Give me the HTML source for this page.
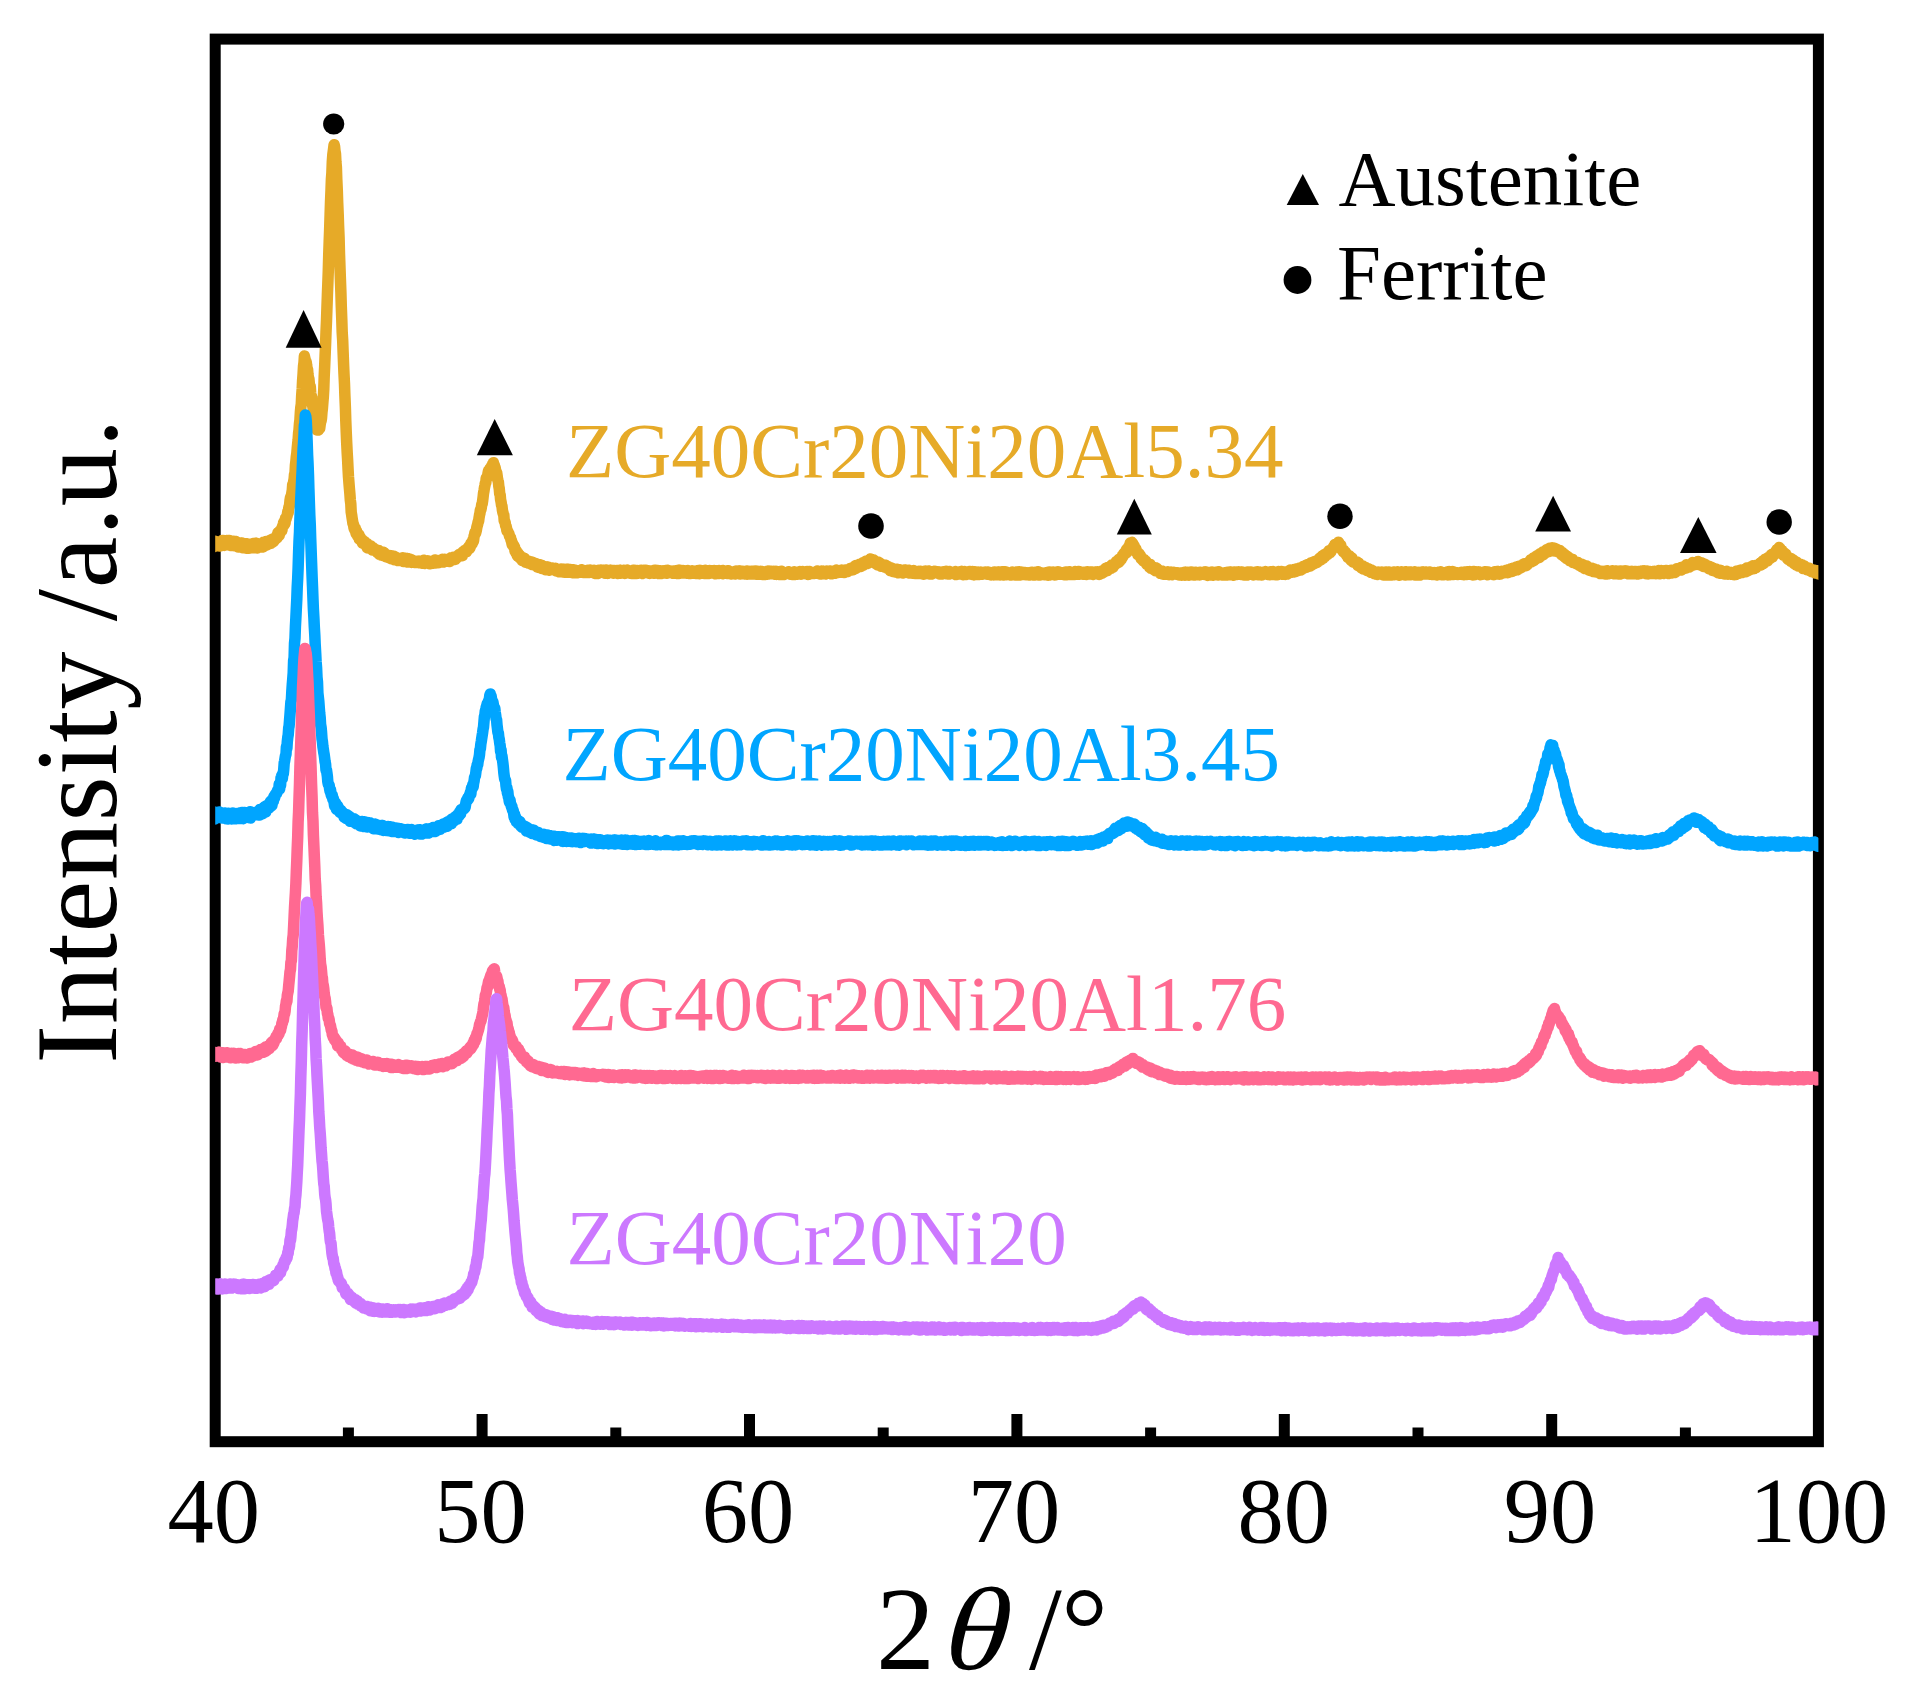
<!DOCTYPE html>
<html lang="en"><head><meta charset="utf-8"><title>XRD patterns</title>
<style>html,body{margin:0;padding:0;background:#fff}svg{display:block}</style>
</head><body>
<svg width="1920" height="1704" viewBox="0 0 1920 1704">
<rect width="1920" height="1704" fill="#fff"/>
<g stroke="#000" stroke-width="11.0" fill="none">
<rect x="215.2" y="39.1" width="1603.2" height="1402.6"/>
<line x1="482.1" y1="1414.0" x2="482.1" y2="1441.7"/>
<line x1="749.5" y1="1414.0" x2="749.5" y2="1441.7"/>
<line x1="1016.9" y1="1414.0" x2="1016.9" y2="1441.7"/>
<line x1="1284.3" y1="1414.0" x2="1284.3" y2="1441.7"/>
<line x1="1551.7" y1="1414.0" x2="1551.7" y2="1441.7"/>
<line x1="348.4" y1="1427.5" x2="348.4" y2="1441.7"/>
<line x1="615.8" y1="1427.5" x2="615.8" y2="1441.7"/>
<line x1="883.2" y1="1427.5" x2="883.2" y2="1441.7"/>
<line x1="1150.6" y1="1427.5" x2="1150.6" y2="1441.7"/>
<line x1="1418.0" y1="1427.5" x2="1418.0" y2="1441.7"/>
<line x1="1685.4" y1="1427.5" x2="1685.4" y2="1441.7"/>
</g>
<svg x="215.2" y="0" width="1603.2" height="1704" viewBox="215.2 0 1603.2 1704" overflow="hidden">
<g fill="none" stroke-width="11.5" stroke-linejoin="round" stroke-linecap="butt">
<path stroke="#E6AA28" d="M212.2 545.8L212.6 547.2L213.1 546.4L213.5 543.0L214.0 543.3L214.4 546.5L214.9 541.3L215.3 545.9L215.8 545.6L216.2 543.6L216.7 542.6L217.1 542.3L217.6 542.1L218.0 543.1L218.5 543.3L218.9 543.5L219.4 546.0L219.8 544.8L220.3 543.8L220.7 545.8L221.2 541.4L221.6 541.1L222.1 543.6L222.5 540.4L223.0 540.4L223.4 543.1L223.9 542.8L224.3 545.4L224.8 543.8L225.2 543.2L225.7 543.1L226.1 541.7L226.6 540.4L227.0 541.5L227.5 544.3L227.9 541.6L228.4 542.5L228.8 540.5L229.3 545.1L229.7 541.4L230.2 542.1L230.6 545.5L231.1 543.5L231.5 545.4L232.0 544.3L232.4 544.9L232.9 541.3L233.3 543.8L233.8 543.7L234.2 545.7L234.7 543.0L235.1 544.4L235.6 541.5L236.0 543.4L236.5 543.1L236.9 542.3L237.4 545.9L237.8 543.7L238.3 547.0L238.7 545.0L239.2 545.1L239.6 545.4L240.1 545.7L240.5 543.0L241.0 544.6L241.4 543.6L241.9 544.6L242.3 543.0L242.8 547.7L243.2 543.8L243.7 546.3L244.1 544.4L244.6 547.5L245.0 546.5L245.5 543.7L245.9 547.5L246.4 548.1L246.8 547.9L247.3 546.2L247.7 544.1L248.2 544.3L248.6 548.2L249.1 546.3L249.5 544.3L250.0 548.0L250.4 546.7L250.9 546.4L251.3 545.3L251.8 545.5L252.2 544.6L252.7 543.6L253.1 547.8L253.6 545.7L254.0 546.1L254.5 544.9L254.9 547.1L255.4 543.3L255.8 545.1L256.3 543.3L256.7 543.7L257.2 548.0L257.6 546.4L258.1 545.1L258.5 545.6L259.0 547.3L259.4 544.6L259.9 545.7L260.3 546.2L260.8 544.4L261.2 545.2L261.7 546.4L262.1 547.0L262.6 543.2L263.0 547.0L263.5 542.2L263.9 545.8L264.4 546.0L264.8 542.5L265.3 543.7L265.7 545.5L266.2 541.4L266.6 544.2L267.1 544.8L267.5 543.2L268.0 544.0L268.4 541.3L268.9 540.9L269.3 541.4L269.8 540.3L270.2 540.8L270.7 543.4L271.1 541.3L271.6 539.9L272.0 539.2L272.5 542.2L272.9 539.4L273.4 541.6L273.8 539.0L274.3 538.7L274.7 540.1L275.2 539.0L275.6 537.8L276.1 536.6L276.5 538.3L277.0 535.6L277.4 537.5L277.9 532.8L278.3 534.0L278.8 533.8L279.2 535.2L279.7 531.1L280.1 533.0L280.6 531.6L281.0 531.0L281.5 529.8L281.9 530.5L282.4 526.6L282.8 526.0L283.3 524.1L283.7 522.3L284.2 522.1L284.6 524.3L285.1 522.9L285.5 518.2L286.0 519.3L286.4 517.3L286.9 516.3L287.3 514.9L287.8 511.5L288.2 512.7L288.7 508.3L289.1 507.0L289.6 504.8L290.0 500.4L290.5 497.5L290.9 496.6L291.4 495.7L291.8 493.3L292.3 490.1L292.7 484.5L293.2 485.3L293.6 481.8L294.1 479.2L294.5 474.5L295.0 473.0L295.4 465.3L295.9 461.2L296.3 456.9L296.8 453.4L297.2 448.7L297.7 443.5L298.1 440.3L298.6 432.8L299.0 430.2L299.5 423.2L299.9 420.3L300.4 411.8L300.8 407.4L301.3 404.1L301.7 395.1L302.2 388.6L302.6 380.4L303.1 373.7L303.5 366.3L304.0 362.5L304.4 356.1L304.9 358.4L305.3 360.5L305.8 362.5L306.2 361.9L306.7 365.8L307.1 368.2L307.6 369.8L308.0 374.7L308.5 378.1L308.9 378.7L309.4 384.0L309.8 386.6L310.3 386.7L310.7 392.7L311.2 396.4L311.6 396.5L312.1 401.3L312.5 404.6L313.0 407.5L313.4 408.3L313.9 414.0L314.3 416.9L314.8 420.7L315.2 423.1L315.7 423.1L316.1 426.5L316.6 428.5L317.0 429.9L317.5 427.6L317.9 427.4L318.4 430.0L318.8 427.4L319.3 428.0L319.7 428.4L320.2 424.5L320.6 422.3L321.1 420.8L321.5 418.4L322.0 411.9L322.4 408.5L322.9 402.1L323.3 397.3L323.8 388.9L324.2 376.6L324.7 365.7L325.1 355.6L325.6 343.5L326.0 332.2L326.5 320.7L326.9 309.0L327.4 294.7L327.8 284.6L328.3 270.5L328.7 255.8L329.2 241.3L329.6 230.8L330.1 215.0L330.5 202.4L331.0 190.4L331.4 179.1L331.9 172.8L332.3 161.6L332.8 154.8L333.2 151.8L333.7 147.9L334.1 144.7L334.6 146.7L335.0 151.1L335.5 153.8L335.9 161.8L336.4 167.3L336.8 179.6L337.3 190.6L337.7 202.6L338.2 214.5L338.6 226.2L339.1 238.3L339.5 253.7L340.0 268.2L340.4 279.2L340.9 292.6L341.3 306.6L341.8 319.8L342.2 332.4L342.7 340.6L343.1 351.8L343.6 364.7L344.0 373.9L344.5 384.1L344.9 395.8L345.4 407.9L345.8 421.1L346.3 433.8L346.7 442.8L347.2 453.0L347.6 459.6L348.1 469.9L348.5 477.1L349.0 483.5L349.4 488.4L349.9 494.0L350.3 499.9L350.8 503.7L351.2 512.1L351.7 515.1L352.1 518.0L352.6 521.2L353.0 523.8L353.5 524.1L353.9 527.4L354.4 529.2L354.8 528.2L355.3 528.3L355.7 531.9L356.2 533.8L356.6 531.1L357.1 534.3L357.5 535.6L358.0 536.7L358.4 534.2L358.9 534.8L359.3 539.2L359.8 536.3L360.2 537.3L360.7 539.5L361.1 539.6L361.6 541.4L362.0 539.7L362.5 543.2L362.9 540.9L363.4 543.6L363.8 541.2L364.3 543.3L364.7 541.9L365.2 543.4L365.6 543.8L366.1 545.8L366.5 545.0L367.0 543.7L367.4 547.9L367.9 547.7L368.3 548.1L368.8 545.7L369.2 546.5L369.7 546.1L370.1 546.0L370.6 545.8L371.0 548.0L371.5 546.7L371.9 547.1L372.4 550.1L372.8 548.8L373.3 547.9L373.7 550.0L374.2 548.6L374.6 549.9L375.1 549.2L375.5 550.3L376.0 551.0L376.4 550.9L376.9 550.6L377.3 552.4L377.8 552.9L378.2 550.4L378.7 550.4L379.1 550.6L379.6 554.3L380.0 554.3L380.5 551.7L380.9 554.9L381.4 552.1L381.8 553.5L382.3 553.7L382.7 555.5L383.2 552.3L383.6 553.6L384.1 554.9L384.5 553.0L385.0 553.8L385.4 554.9L385.9 556.8L386.3 556.5L386.8 556.9L387.2 556.8L387.7 556.8L388.1 557.5L388.6 557.0L389.0 557.4L389.5 555.8L389.9 555.4L390.4 557.9L390.8 555.7L391.3 558.8L391.7 557.6L392.2 556.7L392.6 559.2L393.1 556.3L393.5 557.8L394.0 556.2L394.4 559.8L394.9 558.4L395.3 559.4L395.8 557.4L396.2 559.6L396.7 559.3L397.1 559.2L397.6 560.5L398.0 558.5L398.5 558.6L398.9 559.7L399.4 560.4L399.8 558.5L400.3 559.9L400.7 558.2L401.2 559.6L401.6 560.5L402.1 557.9L402.5 560.5L403.0 557.8L403.4 561.6L403.9 559.7L404.3 559.6L404.8 560.8L405.2 560.1L405.7 561.0L406.1 558.5L406.6 560.5L407.0 560.5L407.5 562.0L407.9 558.6L408.4 560.3L408.8 561.0L409.3 560.8L409.7 559.0L410.2 561.1L410.6 559.7L411.1 559.7L411.5 562.4L412.0 559.8L412.4 560.9L412.9 562.1L413.3 561.9L413.8 561.4L414.2 562.4L414.7 561.2L415.1 561.8L415.6 562.6L416.0 562.1L416.5 562.1L416.9 561.2L417.4 561.8L417.8 561.2L418.3 562.6L418.7 561.3L419.2 561.6L419.6 562.8L420.1 561.8L420.5 561.2L421.0 563.1L421.4 561.4L421.9 563.2L422.3 563.0L422.8 561.8L423.2 562.8L423.7 560.2L424.1 561.6L424.6 563.4L425.0 562.3L425.5 562.2L425.9 562.6L426.4 562.7L426.8 562.3L427.3 561.7L427.7 560.8L428.2 561.2L428.6 561.2L429.1 561.7L429.5 563.8L430.0 561.3L430.4 561.7L430.9 561.4L431.3 562.2L431.8 563.5L432.2 563.3L432.7 561.3L433.1 560.9L433.6 563.2L434.0 561.7L434.5 562.4L434.9 560.0L435.4 563.0L435.8 560.9L436.3 561.5L436.7 560.4L437.2 561.2L437.6 562.7L438.1 562.7L438.5 561.3L439.0 562.4L439.4 561.1L439.9 560.8L440.3 561.4L440.8 560.1L441.2 560.4L441.7 561.9L442.1 562.1L442.6 559.3L443.0 561.8L443.5 562.1L443.9 560.7L444.4 559.2L444.8 561.5L445.3 559.8L445.7 561.2L446.2 560.1L446.6 561.0L447.1 559.5L447.5 560.2L448.0 560.3L448.4 560.6L448.9 558.9L449.3 561.6L449.8 559.0L450.2 558.9L450.7 558.6L451.1 557.7L451.6 558.9L452.0 560.0L452.5 559.6L452.9 557.6L453.4 557.2L453.8 557.7L454.3 559.2L454.7 557.9L455.2 559.4L455.6 558.2L456.1 557.8L456.5 558.2L457.0 557.9L457.4 556.2L457.9 555.6L458.3 556.1L458.8 556.1L459.2 554.5L459.7 555.4L460.1 555.9L460.6 553.8L461.0 553.5L461.5 553.4L461.9 553.5L462.4 555.7L462.8 551.9L463.3 552.2L463.7 551.8L464.2 552.6L464.6 550.5L465.1 551.7L465.5 550.2L466.0 550.2L466.4 551.7L466.9 548.9L467.3 550.0L467.8 548.7L468.2 548.3L468.7 549.2L469.1 546.2L469.6 548.4L470.0 547.6L470.5 546.2L470.9 543.2L471.4 544.7L471.8 543.8L472.3 543.5L472.7 540.4L473.2 541.9L473.6 540.3L474.1 536.0L474.5 535.1L475.0 532.4L475.4 533.6L475.9 532.1L476.3 530.6L476.8 527.5L477.2 525.9L477.7 524.2L478.1 521.9L478.6 521.4L479.0 518.1L479.5 515.1L479.9 513.6L480.4 509.7L480.8 510.1L481.3 507.8L481.7 504.6L482.2 503.9L482.6 501.2L483.1 497.1L483.5 493.4L484.0 490.7L484.4 488.0L484.9 485.6L485.3 483.4L485.8 482.7L486.2 478.2L486.7 478.8L487.1 476.6L487.6 476.1L488.0 473.4L488.5 470.9L488.9 472.9L489.4 470.1L489.8 468.9L490.3 470.5L490.7 469.4L491.2 466.9L491.6 466.3L492.1 467.8L492.5 464.3L493.0 465.0L493.4 462.7L493.9 465.9L494.3 464.9L494.8 468.1L495.2 467.8L495.7 471.0L496.1 473.5L496.6 472.3L497.0 474.7L497.5 478.4L497.9 480.2L498.4 482.0L498.8 486.2L499.3 488.9L499.7 493.7L500.2 495.0L500.6 499.7L501.1 502.1L501.5 505.1L502.0 506.3L502.4 510.1L502.9 512.5L503.3 513.8L503.8 514.9L504.2 520.5L504.7 521.7L505.1 521.9L505.6 525.6L506.0 525.7L506.5 527.9L506.9 530.8L507.4 530.7L507.8 531.5L508.3 532.8L508.7 533.2L509.2 534.9L509.6 536.2L510.1 537.0L510.5 537.7L511.0 540.2L511.4 540.3L511.9 543.2L512.3 544.9L512.8 543.6L513.2 545.7L513.7 546.6L514.1 546.1L514.6 547.3L515.0 551.1L515.5 550.6L515.9 552.7L516.4 551.0L516.8 553.7L517.3 555.4L517.7 556.1L518.2 553.6L518.6 555.9L519.1 555.8L519.5 557.6L520.0 555.5L520.4 556.6L520.9 558.9L521.3 558.0L521.8 558.3L522.2 560.4L522.7 558.4L523.1 557.7L523.6 559.2L524.0 558.6L524.5 558.6L524.9 560.6L525.4 562.2L525.8 561.1L526.3 561.5L526.7 560.6L527.2 561.7L527.6 562.5L528.1 562.1L528.5 563.1L529.0 562.4L529.4 561.3L529.9 562.9L530.3 562.7L530.8 561.7L531.2 563.5L531.7 564.4L532.1 562.2L532.6 563.8L533.0 564.6L533.5 563.6L533.9 563.3L534.4 563.9L534.8 564.7L535.3 565.3L535.7 565.1L536.2 563.6L536.6 566.3L537.1 566.9L537.5 564.1L538.0 564.8L538.4 564.7L538.9 567.2L539.3 567.6L539.8 564.7L540.2 565.9L540.7 565.5L541.1 566.7L541.6 568.4L542.0 565.5L542.5 566.0L542.9 567.3L543.4 567.6L543.8 568.5L544.3 567.5L544.7 566.6L545.2 567.5L545.6 569.8L546.1 569.1L546.5 567.0L547.0 569.6L547.4 567.9L547.9 569.7L548.3 567.1L548.8 570.2L549.2 567.8L549.7 568.9L550.1 569.8L550.6 569.3L551.0 568.2L551.5 568.2L551.9 568.8L552.4 568.0L552.8 568.7L553.3 568.4L553.7 569.7L554.2 569.3L554.6 570.2L555.1 569.2L555.5 568.3L556.0 569.4L556.4 571.0L556.9 569.2L557.3 569.8L557.8 571.1L558.2 569.9L558.7 571.6L559.1 571.8L559.6 569.7L560.0 571.2L560.5 569.5L560.9 569.1L561.4 570.2L561.8 570.8L562.3 572.0L562.7 569.3L563.2 571.3L563.6 570.5L564.1 569.3L564.5 572.3L565.0 571.4L565.4 569.4L565.9 572.1L566.3 569.3L566.8 569.3L567.2 570.2L567.7 572.3L568.1 569.2L568.6 572.3L569.0 571.3L569.5 569.4L569.9 571.1L570.4 570.8L570.8 571.2L571.3 571.8L571.7 571.6L572.2 572.7L572.6 569.8L573.1 572.1L573.5 570.7L574.0 572.1L574.4 572.5L574.9 572.8L575.3 570.3L575.8 571.0L576.2 572.7L576.7 572.7L577.1 570.7L577.6 572.7L578.0 570.9L578.5 570.8L578.9 572.1L579.4 571.2L579.8 571.1L580.3 570.9L580.7 571.1L581.2 570.1L581.6 569.8L582.1 572.3L582.5 571.6L583.0 572.0L583.4 572.5L583.9 570.5L584.3 570.5L584.8 570.7L585.2 570.8L585.7 572.4L586.1 571.1L586.6 570.9L587.0 572.0L587.5 570.5L587.9 570.2L588.4 572.3L588.8 572.5L589.3 570.9L589.7 572.1L590.2 570.0L590.6 571.3L591.1 571.9L591.5 570.8L592.0 571.1L592.4 572.1L592.9 572.0L593.3 570.5L593.8 572.4L594.2 570.3L594.7 573.4L595.1 570.7L595.6 570.9L596.0 570.7L596.5 573.5L596.9 571.0L597.4 572.1L597.8 573.5L598.3 573.4L598.7 570.2L599.2 571.9L599.6 572.2L600.1 572.5L600.5 571.2L601.0 571.2L601.4 570.1L601.9 570.2L602.3 572.0L602.8 570.3L603.2 570.8L603.7 571.2L604.1 570.3L604.6 570.2L605.0 573.3L605.5 571.6L605.9 570.8L606.4 572.5L606.8 570.1L607.3 570.9L607.7 573.4L608.2 573.2L608.6 572.3L609.1 570.4L609.5 571.2L610.0 570.2L610.4 570.8L610.9 570.2L611.3 570.5L611.8 572.3L612.2 570.4L612.7 570.6L613.1 573.2L613.6 571.3L614.0 571.3L614.5 570.4L614.9 572.9L615.4 572.4L615.8 572.0L616.3 572.2L616.7 570.4L617.2 571.0L617.6 572.1L618.1 573.4L618.5 572.9L619.0 572.3L619.4 571.9L619.9 570.2L620.3 573.2L620.8 570.3L621.2 570.6L621.7 572.5L622.1 572.9L622.6 572.8L623.0 571.7L623.5 570.7L623.9 570.2L624.4 573.1L624.8 573.5L625.3 571.0L625.7 573.1L626.2 571.5L626.6 571.2L627.1 571.9L627.5 570.1L628.0 571.7L628.4 570.8L628.9 572.6L629.3 571.9L629.8 573.1L630.2 573.2L630.7 571.2L631.1 571.1L631.6 573.4L632.0 571.9L632.5 570.5L632.9 570.3L633.4 573.6L633.8 572.1L634.3 570.3L634.7 571.9L635.2 571.9L635.6 571.6L636.1 573.4L636.5 573.4L637.0 570.6L637.4 570.6L637.9 571.5L638.3 573.0L638.8 572.3L639.2 572.7L639.7 572.1L640.1 570.9L640.6 573.0L641.0 570.2L641.5 572.5L641.9 570.8L642.4 571.8L642.8 573.5L643.3 572.0L643.7 570.3L644.2 571.6L644.6 572.4L645.1 570.3L645.5 571.0L646.0 570.2L646.4 572.0L646.9 571.5L647.3 571.9L647.8 571.2L648.2 572.4L648.7 570.7L649.1 573.3L649.6 573.5L650.0 571.8L650.5 571.7L650.9 573.1L651.4 571.1L651.8 572.9L652.3 571.1L652.7 572.6L653.2 571.3L653.6 572.2L654.1 573.3L654.5 570.3L655.0 572.9L655.4 572.0L655.9 571.5L656.3 571.4L656.8 570.4L657.2 571.0L657.7 572.3L658.1 570.5L658.6 572.5L659.0 573.5L659.5 573.5L659.9 573.2L660.4 572.9L660.8 570.8L661.3 573.5L661.7 570.9L662.2 573.2L662.6 573.2L663.1 572.3L663.5 572.0L664.0 570.8L664.4 571.9L664.9 571.2L665.3 570.6L665.8 570.6L666.2 572.9L666.7 573.3L667.1 570.6L667.6 570.2L668.0 571.1L668.5 570.6L668.9 570.8L669.4 572.2L669.8 571.6L670.3 571.6L670.7 570.9L671.2 572.5L671.6 571.2L672.1 571.5L672.5 571.8L673.0 573.3L673.4 571.0L673.9 572.7L674.3 571.2L674.8 573.3L675.2 571.5L675.7 571.9L676.1 573.2L676.6 572.5L677.0 570.5L677.5 570.7L677.9 573.6L678.4 570.3L678.8 571.2L679.3 573.5L679.7 570.2L680.2 570.7L680.6 570.9L681.1 570.5L681.5 571.8L682.0 572.2L682.4 571.3L682.9 570.6L683.3 573.0L683.8 573.0L684.2 572.1L684.7 570.7L685.1 572.1L685.6 572.4L686.0 571.7L686.5 573.2L686.9 571.6L687.4 572.0L687.8 570.6L688.3 572.2L688.7 572.9L689.2 572.7L689.6 571.1L690.1 573.6L690.5 572.7L691.0 571.7L691.4 571.7L691.9 572.9L692.3 570.8L692.8 572.4L693.2 572.7L693.7 572.0L694.1 573.3L694.6 571.9L695.0 571.9L695.5 571.2L695.9 573.4L696.4 571.3L696.8 572.7L697.3 571.7L697.7 573.5L698.2 573.5L698.6 570.4L699.1 573.7L699.5 572.4L700.0 570.5L700.4 572.0L700.9 570.5L701.3 572.2L701.8 570.9L702.2 571.6L702.7 571.3L703.1 572.4L703.6 573.1L704.0 573.5L704.5 571.4L704.9 572.3L705.4 570.3L705.8 571.6L706.3 573.6L706.7 570.7L707.2 573.3L707.6 572.6L708.1 571.3L708.5 573.0L709.0 571.3L709.4 573.4L709.9 570.6L710.3 570.8L710.8 572.9L711.2 571.9L711.7 570.9L712.1 572.1L712.6 571.4L713.0 572.3L713.5 572.9L713.9 573.3L714.4 570.6L714.8 572.4L715.3 573.8L715.7 572.0L716.2 573.1L716.6 570.8L717.1 573.4L717.5 572.4L718.0 573.5L718.4 573.1L718.9 573.4L719.3 570.6L719.8 572.9L720.2 571.1L720.7 571.4L721.1 571.6L721.6 572.5L722.0 572.6L722.5 573.7L722.9 570.5L723.4 571.2L723.8 571.7L724.3 573.3L724.7 572.4L725.2 572.3L725.6 573.1L726.1 572.8L726.5 571.5L727.0 570.8L727.4 572.1L727.9 573.6L728.3 572.6L728.8 570.7L729.2 572.1L729.7 571.9L730.1 572.6L730.6 572.6L731.0 573.9L731.5 571.8L731.9 572.0L732.4 572.7L732.8 573.7L733.3 573.0L733.7 572.2L734.2 573.4L734.6 572.3L735.1 574.0L735.5 571.6L736.0 571.1L736.4 573.5L736.9 571.7L737.3 573.6L737.8 572.8L738.2 572.4L738.7 571.0L739.1 573.4L739.6 570.9L740.0 574.0L740.5 573.7L740.9 571.8L741.4 571.2L741.8 573.8L742.3 572.4L742.7 571.2L743.2 572.5L743.6 571.6L744.1 572.2L744.5 573.0L745.0 573.9L745.4 573.5L745.9 571.3L746.3 572.4L746.8 572.5L747.2 574.2L747.7 571.1L748.1 572.6L748.6 574.0L749.0 572.2L749.5 571.7L749.9 572.8L750.4 572.0L750.8 574.0L751.3 571.2L751.7 571.6L752.2 571.2L752.6 573.3L753.1 571.9L753.5 574.0L754.0 574.0L754.4 574.1L754.9 571.8L755.3 570.9L755.8 572.3L756.2 574.2L756.7 573.6L757.1 571.2L757.6 573.4L758.0 574.1L758.5 574.3L758.9 573.4L759.4 573.9L759.8 573.9L760.3 572.2L760.7 571.3L761.2 573.5L761.6 571.5L762.1 572.3L762.5 574.4L763.0 572.9L763.4 572.8L763.9 574.3L764.3 572.0L764.8 574.5L765.2 574.2L765.7 572.3L766.1 572.2L766.6 571.5L767.0 574.2L767.5 571.7L767.9 571.1L768.4 574.1L768.8 573.1L769.3 573.4L769.7 573.6L770.2 571.3L770.6 571.4L771.1 572.8L771.5 571.3L772.0 572.9L772.4 573.7L772.9 573.4L773.3 573.3L773.8 571.3L774.2 572.0L774.7 574.2L775.1 571.6L775.6 573.0L776.0 571.3L776.5 574.4L776.9 571.8L777.4 572.6L777.8 573.1L778.3 573.6L778.7 574.4L779.2 573.7L779.6 572.4L780.1 571.5L780.5 573.6L781.0 574.5L781.4 571.3L781.9 573.9L782.3 571.8L782.8 572.8L783.2 573.0L783.7 573.3L784.1 574.6L784.6 573.6L785.0 572.6L785.5 573.7L785.9 572.8L786.4 572.7L786.8 572.5L787.3 572.9L787.7 572.2L788.2 572.1L788.6 571.8L789.1 572.8L789.5 572.3L790.0 574.1L790.4 574.2L790.9 572.4L791.3 573.4L791.8 574.4L792.2 572.5L792.7 573.2L793.1 572.8L793.6 573.5L794.0 574.6L794.5 571.8L794.9 574.6L795.4 573.6L795.8 574.0L796.3 573.5L796.7 574.3L797.2 572.4L797.6 573.7L798.1 572.2L798.5 573.0L799.0 573.6L799.4 572.0L799.9 571.5L800.3 574.0L800.8 574.1L801.2 573.6L801.7 572.4L802.1 573.5L802.6 571.6L803.0 573.5L803.5 573.2L803.9 573.4L804.4 572.8L804.8 572.0L805.3 573.7L805.7 572.8L806.2 573.8L806.6 572.5L807.1 571.5L807.5 573.1L808.0 573.4L808.4 574.4L808.9 574.3L809.3 571.4L809.8 573.8L810.2 572.1L810.7 573.6L811.1 572.5L811.6 572.3L812.0 572.8L812.5 573.0L812.9 573.5L813.4 573.3L813.8 573.4L814.3 572.4L814.7 573.4L815.2 572.3L815.6 573.1L816.1 572.6L816.5 573.0L817.0 571.1L817.4 572.7L817.9 571.7L818.3 572.3L818.8 571.2L819.2 573.2L819.7 574.0L820.1 572.1L820.6 571.3L821.0 573.0L821.5 571.3L821.9 573.9L822.4 571.2L822.8 572.0L823.3 572.5L823.7 571.2L824.2 571.8L824.6 571.7L825.1 573.1L825.5 574.0L826.0 571.9L826.4 573.3L826.9 571.1L827.3 572.6L827.8 572.0L828.2 571.5L828.7 573.3L829.1 573.0L829.6 570.9L830.0 571.4L830.5 573.2L830.9 573.8L831.4 572.4L831.8 573.3L832.3 573.7L832.7 572.8L833.2 572.4L833.6 571.0L834.1 571.4L834.5 572.3L835.0 573.3L835.4 571.1L835.9 571.4L836.3 570.1L836.8 572.4L837.2 571.5L837.7 572.6L838.1 570.7L838.6 572.1L839.0 572.1L839.5 571.4L839.9 570.4L840.4 571.1L840.8 572.2L841.3 570.3L841.7 569.9L842.2 571.1L842.6 570.3L843.1 572.2L843.5 572.2L844.0 572.6L844.4 572.2L844.9 571.5L845.3 569.9L845.8 572.0L846.2 571.6L846.7 571.6L847.1 571.3L847.6 571.6L848.0 569.7L848.5 570.8L848.9 570.1L849.4 569.3L849.8 569.1L850.3 568.4L850.7 569.3L851.2 568.7L851.6 568.7L852.1 569.9L852.5 569.1L853.0 568.9L853.4 569.7L853.9 566.9L854.3 567.7L854.8 566.1L855.2 566.9L855.7 568.6L856.1 565.4L856.6 567.5L857.0 567.6L857.5 566.2L857.9 567.0L858.4 565.6L858.8 565.1L859.3 565.5L859.7 564.2L860.2 564.4L860.6 564.2L861.1 566.4L861.5 563.9L862.0 563.4L862.4 565.6L862.9 562.7L863.3 565.3L863.8 564.7L864.2 563.8L864.7 562.9L865.1 561.9L865.6 561.4L866.0 561.2L866.5 561.8L866.9 561.8L867.4 563.4L867.8 561.9L868.3 563.2L868.7 562.1L869.2 560.0L869.6 561.2L870.1 559.6L870.5 559.0L871.0 562.0L871.4 560.0L871.9 559.7L872.3 559.6L872.8 561.7L873.2 561.2L873.7 559.9L874.1 562.5L874.6 561.1L875.0 563.1L875.5 562.3L875.9 562.6L876.4 562.6L876.8 563.5L877.3 564.8L877.7 564.3L878.2 562.0L878.6 563.7L879.1 563.0L879.5 562.7L880.0 563.3L880.4 563.6L880.9 566.3L881.3 565.7L881.8 566.3L882.2 565.9L882.7 564.8L883.1 565.3L883.6 565.6L884.0 565.3L884.5 565.9L884.9 567.3L885.4 565.2L885.8 566.0L886.3 566.9L886.7 567.8L887.2 567.9L887.6 568.4L888.1 566.5L888.5 567.0L889.0 567.7L889.4 567.8L889.9 569.6L890.3 570.6L890.8 569.8L891.2 567.8L891.7 568.9L892.1 570.8L892.6 571.4L893.0 570.4L893.5 569.7L893.9 569.9L894.4 571.0L894.8 571.9L895.3 570.2L895.7 569.8L896.2 569.2L896.6 569.7L897.1 572.2L897.5 571.5L898.0 572.8L898.4 569.6L898.9 570.7L899.3 572.2L899.8 571.8L900.2 569.8L900.7 571.0L901.1 571.8L901.6 572.0L902.0 571.2L902.5 570.4L902.9 573.0L903.4 571.4L903.8 572.3L904.3 571.7L904.7 570.1L905.2 570.7L905.6 570.1L906.1 570.6L906.5 570.7L907.0 571.4L907.4 571.1L907.9 571.3L908.3 572.9L908.8 570.2L909.2 570.5L909.7 572.9L910.1 572.0L910.6 571.7L911.0 571.2L911.5 572.1L911.9 571.0L912.4 573.2L912.8 573.1L913.3 571.5L913.7 570.5L914.2 573.4L914.6 571.4L915.1 572.7L915.5 573.4L916.0 573.2L916.4 573.4L916.9 572.2L917.3 573.4L917.8 572.1L918.2 571.5L918.7 572.2L919.1 571.8L919.6 573.3L920.0 573.5L920.5 571.2L920.9 571.2L921.4 572.0L921.8 572.3L922.3 574.0L922.7 574.0L923.2 574.1L923.6 573.3L924.1 573.1L924.5 571.7L925.0 572.1L925.4 570.9L925.9 573.7L926.3 571.8L926.8 571.2L927.2 572.0L927.7 572.0L928.1 573.4L928.6 571.0L929.0 571.7L929.5 574.0L929.9 573.9L930.4 573.1L930.8 572.9L931.3 571.8L931.7 574.0L932.2 573.6L932.6 572.8L933.1 571.6L933.5 571.8L934.0 572.4L934.4 572.2L934.9 571.3L935.3 572.5L935.8 572.6L936.2 572.1L936.7 572.4L937.1 572.3L937.6 572.4L938.0 573.2L938.5 572.8L938.9 571.8L939.4 573.9L939.8 572.9L940.3 572.7L940.7 573.6L941.2 573.8L941.6 574.1L942.1 574.0L942.5 573.5L943.0 573.7L943.4 571.8L943.9 573.6L944.3 572.1L944.8 572.1L945.2 571.7L945.7 572.6L946.1 571.3L946.6 573.5L947.0 573.8L947.5 573.9L947.9 571.7L948.4 573.5L948.8 574.1L949.3 571.4L949.7 572.0L950.2 572.2L950.6 572.9L951.1 571.9L951.5 573.1L952.0 572.5L952.4 573.6L952.9 573.1L953.3 573.7L953.8 572.2L954.2 573.7L954.7 573.8L955.1 573.8L955.6 571.6L956.0 574.6L956.5 573.3L956.9 572.3L957.4 572.8L957.8 573.1L958.3 573.1L958.7 572.2L959.2 572.3L959.6 572.6L960.1 574.0L960.5 572.9L961.0 571.5L961.4 572.9L961.9 572.1L962.3 571.5L962.8 574.7L963.2 572.4L963.7 573.3L964.1 572.6L964.6 571.6L965.0 574.5L965.5 574.6L965.9 572.1L966.4 572.9L966.8 572.7L967.3 572.0L967.7 573.7L968.2 574.1L968.6 574.0L969.1 573.8L969.5 571.5L970.0 572.3L970.4 573.2L970.9 573.9L971.3 572.8L971.8 573.0L972.2 574.4L972.7 571.6L973.1 572.4L973.6 572.5L974.0 574.9L974.5 572.3L974.9 571.7L975.4 572.9L975.8 573.7L976.3 572.0L976.7 574.4L977.2 572.2L977.6 573.9L978.1 572.1L978.5 574.5L979.0 572.2L979.4 574.0L979.9 574.4L980.3 572.4L980.8 571.9L981.2 573.6L981.7 573.3L982.1 573.2L982.6 574.2L983.0 573.1L983.5 573.3L983.9 573.2L984.4 573.1L984.8 573.0L985.3 572.1L985.7 572.6L986.2 572.5L986.6 572.4L987.1 574.3L987.5 572.0L988.0 572.3L988.4 573.4L988.9 572.7L989.3 572.4L989.8 572.9L990.2 573.3L990.7 573.9L991.1 574.9L991.6 574.5L992.0 573.1L992.5 573.2L992.9 573.0L993.4 572.4L993.8 574.9L994.3 571.9L994.7 572.3L995.2 573.9L995.6 573.7L996.1 572.6L996.5 574.8L997.0 573.0L997.4 573.7L997.9 572.0L998.3 574.7L998.8 572.0L999.2 573.0L999.7 574.7L1000.1 574.9L1000.6 574.7L1001.0 574.5L1001.5 572.5L1001.9 571.8L1002.4 573.2L1002.8 571.9L1003.3 575.0L1003.7 571.7L1004.2 572.8L1004.6 572.4L1005.1 571.7L1005.5 573.4L1006.0 572.0L1006.4 574.8L1006.9 574.0L1007.3 573.0L1007.8 574.6L1008.2 574.4L1008.7 572.8L1009.1 574.6L1009.6 574.9L1010.0 573.8L1010.5 572.9L1010.9 574.8L1011.4 574.9L1011.8 572.9L1012.3 572.0L1012.7 574.7L1013.2 574.0L1013.6 572.5L1014.1 573.7L1014.5 572.8L1015.0 574.9L1015.4 572.9L1015.9 572.4L1016.3 571.9L1016.8 572.9L1017.2 575.1L1017.7 572.5L1018.1 573.3L1018.6 575.1L1019.0 571.8L1019.5 572.8L1019.9 574.5L1020.4 572.1L1020.8 574.9L1021.3 574.6L1021.7 572.2L1022.2 573.8L1022.6 573.6L1023.1 574.1L1023.5 572.8L1024.0 573.1L1024.4 572.6L1024.9 572.8L1025.3 572.4L1025.8 574.8L1026.2 574.8L1026.7 573.0L1027.1 574.1L1027.6 573.4L1028.0 572.7L1028.5 573.0L1028.9 575.1L1029.4 572.9L1029.8 573.7L1030.3 575.0L1030.7 572.8L1031.2 574.5L1031.6 572.2L1032.1 574.3L1032.5 574.5L1033.0 574.6L1033.4 575.1L1033.9 574.2L1034.3 575.1L1034.8 572.7L1035.2 573.6L1035.7 572.5L1036.1 572.1L1036.6 573.3L1037.0 574.2L1037.5 574.4L1037.9 571.8L1038.4 575.0L1038.8 572.6L1039.3 572.8L1039.7 574.6L1040.2 574.8L1040.6 574.3L1041.1 572.9L1041.5 573.4L1042.0 574.6L1042.4 573.0L1042.9 574.5L1043.3 574.5L1043.8 573.4L1044.2 574.8L1044.7 573.1L1045.1 574.3L1045.6 574.0L1046.0 572.9L1046.5 573.6L1046.9 573.9L1047.4 573.6L1047.8 572.2L1048.3 575.2L1048.7 575.1L1049.2 571.9L1049.6 575.0L1050.1 573.6L1050.5 572.2L1051.0 574.6L1051.4 573.3L1051.9 574.2L1052.3 574.6L1052.8 573.6L1053.2 572.0L1053.7 574.6L1054.1 574.1L1054.6 574.9L1055.0 572.7L1055.5 574.4L1055.9 574.7L1056.4 573.0L1056.8 573.1L1057.3 572.9L1057.7 571.8L1058.2 572.5L1058.6 572.9L1059.1 572.1L1059.5 574.3L1060.0 573.2L1060.4 573.6L1060.9 572.7L1061.3 572.9L1061.8 574.2L1062.2 573.3L1062.7 573.7L1063.1 573.1L1063.6 573.5L1064.0 574.7L1064.5 572.5L1064.9 573.4L1065.4 573.9L1065.8 571.9L1066.3 574.8L1066.7 573.3L1067.2 572.4L1067.6 574.1L1068.1 574.3L1068.5 573.7L1069.0 574.6L1069.4 571.8L1069.9 573.3L1070.3 574.0L1070.8 574.6L1071.2 573.7L1071.7 573.5L1072.1 572.8L1072.6 573.4L1073.0 573.3L1073.5 574.5L1073.9 574.2L1074.4 573.9L1074.8 574.5L1075.3 571.6L1075.7 574.0L1076.2 573.0L1076.6 573.9L1077.1 572.4L1077.5 572.9L1078.0 574.2L1078.4 571.5L1078.9 572.3L1079.3 573.0L1079.8 574.2L1080.2 572.2L1080.7 574.1L1081.1 572.1L1081.6 572.3L1082.0 573.2L1082.5 573.5L1082.9 574.3L1083.4 574.3L1083.8 572.2L1084.3 573.8L1084.7 573.5L1085.2 572.6L1085.6 573.9L1086.1 574.4L1086.5 572.9L1087.0 574.4L1087.4 571.8L1087.9 571.9L1088.3 573.9L1088.8 572.4L1089.2 573.3L1089.7 573.1L1090.1 571.9L1090.6 574.0L1091.0 573.9L1091.5 571.9L1091.9 572.3L1092.4 574.2L1092.8 574.5L1093.3 574.4L1093.7 573.2L1094.2 572.7L1094.6 573.0L1095.1 572.1L1095.5 573.2L1096.0 572.3L1096.4 572.0L1096.9 572.8L1097.3 571.7L1097.8 573.1L1098.2 573.8L1098.7 573.5L1099.1 574.5L1099.6 574.1L1100.0 573.1L1100.5 573.8L1100.9 572.1L1101.4 573.1L1101.8 571.1L1102.3 571.7L1102.7 573.0L1103.2 571.5L1103.6 571.0L1104.1 571.7L1104.5 569.9L1105.0 571.5L1105.4 568.5L1105.9 569.0L1106.3 568.6L1106.8 568.6L1107.2 570.7L1107.7 567.4L1108.1 568.1L1108.6 568.7L1109.0 568.9L1109.5 568.9L1109.9 567.3L1110.4 566.5L1110.8 568.4L1111.3 565.6L1111.7 565.1L1112.2 565.4L1112.6 565.9L1113.1 567.1L1113.5 566.1L1114.0 565.2L1114.4 564.7L1114.9 564.9L1115.3 564.3L1115.8 563.0L1116.2 561.8L1116.7 561.8L1117.1 563.3L1117.6 562.4L1118.0 562.6L1118.5 559.6L1118.9 562.0L1119.4 559.8L1119.8 561.2L1120.3 559.6L1120.7 558.9L1121.2 559.4L1121.6 558.2L1122.1 557.8L1122.5 555.5L1123.0 556.5L1123.4 555.1L1123.9 553.5L1124.3 553.1L1124.8 553.7L1125.2 552.4L1125.7 553.4L1126.1 550.6L1126.6 549.5L1127.0 552.2L1127.5 549.1L1127.9 549.1L1128.4 547.3L1128.8 546.5L1129.3 546.4L1129.7 546.8L1130.2 543.1L1130.6 544.8L1131.1 544.5L1131.5 542.8L1132.0 542.5L1132.4 543.0L1132.9 543.9L1133.3 545.5L1133.8 548.2L1134.2 546.1L1134.7 549.5L1135.1 549.8L1135.6 548.4L1136.0 549.3L1136.5 552.2L1136.9 552.7L1137.4 552.1L1137.8 554.6L1138.3 553.0L1138.7 554.4L1139.2 553.9L1139.6 556.3L1140.1 555.0L1140.5 555.9L1141.0 558.4L1141.4 558.0L1141.9 559.1L1142.3 559.8L1142.8 559.9L1143.2 559.0L1143.7 561.2L1144.1 559.6L1144.6 560.6L1145.0 561.6L1145.5 560.9L1145.9 561.3L1146.4 563.6L1146.8 564.3L1147.3 563.4L1147.7 563.8L1148.2 563.6L1148.6 565.0L1149.1 565.5L1149.5 567.1L1150.0 564.4L1150.4 567.6L1150.9 568.2L1151.3 566.4L1151.8 567.9L1152.2 568.6L1152.7 568.3L1153.1 567.3L1153.6 568.7L1154.0 569.8L1154.5 567.5L1154.9 569.0L1155.4 567.7L1155.8 570.7L1156.3 570.7L1156.7 568.5L1157.2 571.1L1157.6 571.1L1158.1 569.4L1158.5 570.9L1159.0 571.7L1159.4 570.7L1159.9 571.5L1160.3 573.3L1160.8 572.4L1161.2 572.2L1161.7 570.9L1162.1 571.3L1162.6 574.0L1163.0 573.8L1163.5 574.2L1163.9 573.5L1164.4 573.6L1164.8 573.5L1165.3 574.3L1165.7 572.9L1166.2 573.5L1166.6 573.4L1167.1 574.0L1167.5 572.5L1168.0 571.9L1168.4 572.1L1168.9 572.4L1169.3 574.7L1169.8 574.2L1170.2 574.4L1170.7 573.3L1171.1 572.1L1171.6 573.4L1172.0 574.7L1172.5 573.5L1172.9 573.9L1173.4 573.1L1173.8 572.3L1174.3 573.9L1174.7 573.4L1175.2 573.0L1175.6 572.7L1176.1 574.2L1176.5 572.9L1177.0 573.8L1177.4 572.7L1177.9 574.4L1178.3 573.1L1178.8 573.4L1179.2 575.0L1179.7 574.2L1180.1 574.3L1180.6 573.0L1181.0 574.7L1181.5 573.1L1181.9 575.2L1182.4 574.8L1182.8 574.0L1183.3 574.6L1183.7 573.6L1184.2 574.3L1184.6 572.2L1185.1 575.2L1185.5 574.5L1186.0 572.3L1186.4 572.6L1186.9 573.8L1187.3 574.4L1187.8 572.3L1188.2 575.1L1188.7 573.0L1189.1 575.2L1189.6 574.4L1190.0 573.5L1190.5 573.0L1190.9 572.1L1191.4 572.1L1191.8 573.9L1192.3 574.4L1192.7 574.9L1193.2 573.0L1193.6 575.0L1194.1 572.8L1194.5 575.0L1195.0 574.9L1195.4 572.3L1195.9 574.7L1196.3 574.2L1196.8 574.2L1197.2 574.7L1197.7 573.6L1198.1 573.5L1198.6 573.0L1199.0 574.7L1199.5 574.9L1199.9 572.3L1200.4 574.4L1200.8 572.7L1201.3 572.4L1201.7 572.5L1202.2 573.7L1202.6 572.8L1203.1 572.6L1203.5 572.1L1204.0 572.9L1204.4 574.4L1204.9 571.9L1205.3 573.4L1205.8 573.8L1206.2 572.0L1206.7 572.8L1207.1 574.9L1207.6 575.2L1208.0 574.7L1208.5 572.4L1208.9 574.4L1209.4 573.3L1209.8 572.4L1210.3 573.4L1210.7 574.9L1211.2 574.8L1211.6 573.1L1212.1 572.0L1212.5 574.9L1213.0 575.2L1213.4 573.5L1213.9 572.6L1214.3 573.6L1214.8 574.2L1215.2 573.4L1215.7 573.0L1216.1 572.6L1216.6 572.8L1217.0 572.0L1217.5 572.7L1217.9 575.0L1218.4 571.8L1218.8 574.3L1219.3 574.5L1219.7 573.2L1220.2 573.8L1220.6 572.6L1221.1 574.1L1221.5 574.2L1222.0 574.3L1222.4 573.5L1222.9 575.1L1223.3 574.7L1223.8 573.7L1224.2 574.1L1224.7 572.7L1225.1 575.0L1225.6 574.0L1226.0 574.8L1226.5 572.8L1226.9 575.1L1227.4 572.2L1227.8 573.6L1228.3 572.2L1228.7 572.4L1229.2 574.4L1229.6 572.0L1230.1 573.1L1230.5 572.5L1231.0 574.7L1231.4 572.1L1231.9 572.9L1232.3 574.7L1232.8 574.1L1233.2 574.2L1233.7 575.2L1234.1 571.9L1234.6 574.1L1235.0 574.3L1235.5 574.3L1235.9 574.2L1236.4 572.0L1236.8 572.1L1237.3 574.4L1237.7 573.9L1238.2 572.7L1238.6 571.8L1239.1 573.6L1239.5 572.1L1240.0 574.3L1240.4 572.9L1240.9 574.5L1241.3 572.1L1241.8 573.5L1242.2 572.1L1242.7 574.4L1243.1 573.7L1243.6 572.6L1244.0 575.0L1244.5 574.1L1244.9 572.9L1245.4 574.7L1245.8 573.1L1246.3 575.0L1246.7 572.8L1247.2 575.1L1247.6 572.0L1248.1 574.3L1248.5 572.7L1249.0 573.2L1249.4 573.9L1249.9 571.9L1250.3 572.5L1250.8 572.1L1251.2 574.3L1251.7 572.5L1252.1 573.4L1252.6 572.8L1253.0 572.5L1253.5 574.9L1253.9 573.4L1254.4 573.9L1254.8 574.1L1255.3 574.5L1255.7 572.6L1256.2 572.0L1256.6 573.3L1257.1 572.3L1257.5 571.8L1258.0 574.8L1258.4 573.8L1258.9 573.1L1259.3 572.1L1259.8 574.3L1260.2 573.5L1260.7 572.3L1261.1 575.0L1261.6 574.9L1262.0 574.8L1262.5 574.5L1262.9 573.4L1263.4 572.7L1263.8 573.8L1264.3 572.1L1264.7 573.7L1265.2 571.8L1265.6 571.6L1266.1 574.0L1266.5 572.8L1267.0 574.0L1267.4 574.2L1267.9 574.4L1268.3 573.7L1268.8 574.4L1269.2 573.8L1269.7 574.7L1270.1 574.6L1270.6 571.7L1271.0 572.4L1271.5 572.8L1271.9 572.4L1272.4 572.1L1272.8 574.5L1273.3 571.6L1273.7 572.1L1274.2 574.1L1274.6 572.2L1275.1 572.3L1275.5 574.7L1276.0 574.0L1276.4 573.0L1276.9 571.9L1277.3 572.3L1277.8 574.7L1278.2 574.1L1278.7 571.6L1279.1 573.8L1279.6 572.6L1280.0 573.8L1280.5 572.4L1280.9 571.8L1281.4 571.4L1281.8 572.3L1282.3 574.2L1282.7 574.3L1283.2 573.6L1283.6 573.8L1284.1 571.9L1284.5 572.4L1285.0 574.2L1285.4 574.4L1285.9 572.5L1286.3 573.5L1286.8 574.0L1287.2 574.1L1287.7 571.6L1288.1 572.7L1288.6 571.7L1289.0 571.8L1289.5 571.7L1289.9 570.9L1290.4 569.9L1290.8 572.3L1291.3 572.0L1291.7 572.3L1292.2 569.9L1292.6 570.0L1293.1 571.1L1293.5 572.1L1294.0 570.4L1294.4 569.4L1294.9 570.6L1295.3 571.7L1295.8 571.3L1296.2 571.2L1296.7 569.4L1297.1 568.8L1297.6 570.7L1298.0 570.3L1298.5 570.4L1298.9 568.7L1299.4 568.2L1299.8 567.9L1300.3 569.9L1300.7 569.9L1301.2 567.8L1301.6 569.4L1302.1 567.6L1302.5 567.6L1303.0 567.9L1303.4 566.5L1303.9 566.5L1304.3 566.3L1304.8 566.2L1305.2 566.8L1305.7 565.3L1306.1 567.4L1306.6 565.1L1307.0 565.9L1307.5 566.3L1307.9 564.4L1308.4 565.2L1308.8 565.5L1309.3 565.2L1309.7 566.2L1310.2 565.6L1310.6 563.1L1311.1 565.3L1311.5 564.2L1312.0 564.4L1312.4 562.4L1312.9 563.2L1313.3 563.7L1313.8 563.8L1314.2 563.6L1314.7 561.4L1315.1 563.2L1315.6 562.1L1316.0 562.2L1316.5 562.5L1316.9 560.7L1317.4 562.2L1317.8 561.8L1318.3 561.3L1318.7 559.5L1319.2 559.7L1319.6 558.2L1320.1 559.9L1320.5 560.1L1321.0 557.3L1321.4 559.0L1321.9 558.5L1322.3 555.9L1322.8 558.6L1323.2 556.8L1323.7 555.7L1324.1 554.6L1324.6 556.8L1325.0 554.9L1325.5 555.2L1325.9 553.7L1326.4 554.7L1326.8 553.7L1327.3 554.7L1327.7 553.8L1328.2 553.6L1328.6 551.6L1329.1 550.6L1329.5 552.9L1330.0 552.7L1330.4 551.3L1330.9 551.8L1331.3 550.6L1331.8 549.9L1332.2 548.8L1332.7 548.1L1333.1 548.1L1333.6 546.7L1334.0 546.9L1334.5 546.7L1334.9 544.5L1335.4 545.2L1335.8 544.2L1336.3 544.8L1336.7 544.9L1337.2 543.6L1337.6 543.3L1338.1 543.0L1338.5 542.2L1339.0 543.3L1339.4 545.8L1339.9 546.9L1340.3 545.1L1340.8 545.3L1341.2 549.2L1341.7 549.5L1342.1 549.3L1342.6 550.6L1343.0 550.4L1343.5 552.0L1343.9 550.3L1344.4 551.6L1344.8 552.9L1345.3 551.9L1345.7 554.1L1346.2 553.1L1346.6 555.1L1347.1 555.9L1347.5 555.1L1348.0 557.5L1348.4 556.8L1348.9 557.7L1349.3 555.6L1349.8 556.4L1350.2 558.8L1350.7 560.0L1351.1 559.4L1351.6 560.8L1352.0 558.2L1352.5 561.5L1352.9 561.8L1353.4 561.3L1353.8 561.0L1354.3 562.3L1354.7 561.1L1355.2 562.9L1355.6 563.3L1356.1 563.1L1356.5 562.5L1357.0 561.9L1357.4 562.9L1357.9 565.4L1358.3 563.5L1358.8 563.4L1359.2 564.2L1359.7 565.4L1360.1 566.0L1360.6 567.2L1361.0 567.4L1361.5 568.0L1361.9 568.0L1362.4 566.8L1362.8 566.0L1363.3 569.0L1363.7 566.7L1364.2 568.3L1364.6 567.3L1365.1 569.4L1365.5 567.5L1366.0 568.5L1366.4 568.0L1366.9 570.4L1367.3 569.8L1367.8 570.0L1368.2 569.1L1368.7 568.8L1369.1 571.3L1369.6 571.2L1370.0 571.3L1370.5 572.3L1370.9 571.0L1371.4 569.9L1371.8 571.5L1372.3 570.6L1372.7 571.6L1373.2 571.6L1373.6 572.1L1374.1 573.5L1374.5 573.3L1375.0 572.1L1375.4 573.7L1375.9 574.0L1376.3 573.8L1376.8 573.2L1377.2 574.5L1377.7 573.2L1378.1 572.0L1378.6 572.6L1379.0 574.0L1379.5 573.1L1379.9 573.2L1380.4 573.2L1380.8 572.5L1381.3 572.1L1381.7 572.0L1382.2 574.1L1382.6 572.9L1383.1 573.4L1383.5 575.0L1384.0 573.9L1384.4 574.6L1384.9 574.4L1385.3 575.0L1385.8 572.0L1386.2 573.1L1386.7 575.0L1387.1 573.4L1387.6 575.0L1388.0 572.4L1388.5 572.0L1388.9 574.8L1389.4 573.2L1389.8 573.5L1390.3 575.0L1390.7 572.5L1391.2 575.1L1391.6 573.1L1392.1 572.6L1392.5 572.6L1393.0 573.5L1393.4 573.4L1393.9 574.8L1394.3 572.0L1394.8 571.9L1395.2 572.3L1395.7 573.8L1396.1 574.4L1396.6 573.4L1397.0 573.9L1397.5 574.0L1397.9 571.8L1398.4 572.6L1398.8 575.2L1399.3 572.9L1399.7 575.0L1400.2 573.4L1400.6 572.5L1401.1 571.8L1401.5 572.5L1402.0 572.9L1402.4 573.3L1402.9 573.3L1403.3 573.6L1403.8 573.4L1404.2 571.9L1404.7 572.7L1405.1 575.0L1405.6 571.8L1406.0 574.2L1406.5 573.4L1406.9 574.1L1407.4 572.9L1407.8 573.0L1408.3 573.5L1408.7 574.8L1409.2 572.8L1409.6 572.0L1410.1 571.9L1410.5 574.7L1411.0 572.8L1411.4 572.1L1411.9 573.8L1412.3 574.6L1412.8 573.8L1413.2 572.2L1413.7 573.1L1414.1 572.6L1414.6 571.8L1415.0 575.0L1415.5 573.3L1415.9 572.2L1416.4 574.7L1416.8 575.1L1417.3 574.5L1417.7 572.6L1418.2 572.3L1418.6 573.5L1419.1 573.7L1419.5 574.7L1420.0 575.0L1420.4 574.8L1420.9 572.8L1421.3 573.7L1421.8 572.1L1422.2 573.4L1422.7 571.9L1423.1 572.1L1423.6 572.1L1424.0 572.7L1424.5 572.7L1424.9 574.1L1425.4 571.9L1425.8 572.0L1426.3 573.9L1426.7 573.9L1427.2 574.1L1427.6 574.1L1428.1 573.9L1428.5 573.5L1429.0 574.2L1429.4 571.9L1429.9 572.4L1430.3 574.2L1430.8 572.3L1431.2 573.4L1431.7 572.5L1432.1 573.1L1432.6 574.5L1433.0 573.9L1433.5 573.1L1433.9 572.6L1434.4 574.4L1434.8 573.9L1435.3 573.1L1435.7 574.6L1436.2 574.0L1436.6 574.9L1437.1 573.9L1437.5 574.7L1438.0 573.5L1438.4 574.0L1438.9 574.5L1439.3 571.9L1439.8 573.2L1440.2 573.7L1440.7 571.8L1441.1 574.3L1441.6 574.0L1442.0 574.8L1442.5 572.9L1442.9 573.2L1443.4 574.7L1443.8 573.0L1444.3 574.4L1444.7 573.0L1445.2 572.7L1445.6 572.5L1446.1 572.3L1446.5 573.0L1447.0 572.1L1447.4 574.4L1447.9 574.9L1448.3 571.9L1448.8 571.8L1449.2 571.6L1449.7 574.7L1450.1 571.8L1450.6 573.9L1451.0 572.6L1451.5 572.2L1451.9 572.4L1452.4 573.9L1452.8 571.6L1453.3 574.5L1453.7 573.5L1454.2 572.4L1454.6 572.3L1455.1 573.8L1455.5 573.7L1456.0 572.6L1456.4 572.7L1456.9 573.1L1457.3 574.6L1457.8 573.4L1458.2 574.4L1458.7 573.7L1459.1 573.5L1459.6 573.2L1460.0 573.9L1460.5 573.2L1460.9 574.0L1461.4 572.2L1461.8 572.6L1462.3 574.5L1462.7 572.9L1463.2 574.4L1463.6 574.7L1464.1 573.5L1464.5 571.9L1465.0 574.1L1465.4 573.8L1465.9 572.5L1466.3 574.5L1466.8 573.2L1467.2 571.7L1467.7 571.7L1468.1 572.3L1468.6 573.6L1469.0 574.3L1469.5 571.8L1469.9 571.6L1470.4 573.6L1470.8 572.9L1471.3 573.0L1471.7 574.3L1472.2 574.6L1472.6 574.8L1473.1 574.1L1473.5 571.5L1474.0 572.0L1474.4 573.5L1474.9 574.7L1475.3 571.8L1475.8 573.2L1476.2 572.8L1476.7 572.9L1477.1 572.4L1477.6 572.4L1478.0 572.3L1478.5 571.8L1478.9 573.3L1479.4 573.0L1479.8 573.9L1480.3 573.6L1480.7 574.7L1481.2 572.6L1481.6 574.4L1482.1 572.8L1482.5 573.7L1483.0 574.2L1483.4 572.8L1483.9 572.9L1484.3 573.6L1484.8 571.8L1485.2 573.2L1485.7 571.7L1486.1 572.2L1486.6 573.5L1487.0 574.7L1487.5 574.8L1487.9 572.3L1488.4 571.9L1488.8 573.2L1489.3 572.9L1489.7 572.7L1490.2 574.0L1490.6 573.8L1491.1 573.3L1491.5 573.5L1492.0 573.3L1492.4 573.7L1492.9 574.5L1493.3 574.6L1493.8 574.7L1494.2 574.3L1494.7 571.7L1495.1 572.9L1495.6 574.0L1496.0 572.3L1496.5 573.4L1496.9 571.5L1497.4 572.0L1497.8 572.7L1498.3 571.5L1498.7 572.7L1499.2 572.0L1499.6 574.2L1500.1 572.3L1500.5 572.4L1501.0 573.8L1501.4 573.0L1501.9 571.2L1502.3 571.7L1502.8 572.9L1503.2 571.4L1503.7 571.5L1504.1 572.7L1504.6 572.2L1505.0 571.3L1505.5 572.2L1505.9 572.3L1506.4 570.2L1506.8 570.9L1507.3 570.9L1507.7 572.7L1508.2 569.8L1508.6 570.6L1509.1 570.0L1509.5 571.5L1510.0 571.8L1510.4 569.1L1510.9 571.7L1511.3 571.0L1511.8 569.2L1512.2 571.4L1512.7 569.1L1513.1 570.7L1513.6 568.1L1514.0 569.2L1514.5 569.2L1514.9 570.4L1515.4 570.1L1515.8 568.9L1516.3 567.1L1516.7 568.2L1517.2 567.9L1517.6 569.8L1518.1 568.6L1518.5 567.5L1519.0 567.2L1519.4 568.4L1519.9 565.9L1520.3 568.2L1520.8 567.5L1521.2 566.5L1521.7 567.2L1522.1 565.9L1522.6 564.8L1523.0 565.5L1523.5 564.0L1523.9 563.9L1524.4 564.9L1524.8 565.9L1525.3 563.6L1525.7 564.3L1526.2 565.7L1526.6 564.9L1527.1 564.9L1527.5 563.8L1528.0 563.3L1528.4 563.0L1528.9 562.8L1529.3 562.0L1529.8 561.4L1530.2 560.7L1530.7 559.8L1531.1 560.6L1531.6 561.7L1532.0 560.6L1532.5 559.0L1532.9 561.0L1533.4 558.0L1533.8 560.8L1534.3 559.6L1534.7 559.0L1535.2 558.2L1535.6 559.3L1536.1 556.3L1536.5 556.0L1537.0 557.4L1537.4 556.4L1537.9 556.4L1538.3 556.6L1538.8 554.6L1539.2 557.5L1539.7 556.1L1540.1 553.8L1540.6 555.7L1541.0 554.7L1541.5 554.9L1541.9 554.8L1542.4 555.3L1542.8 552.0L1543.3 554.7L1543.7 552.7L1544.2 551.5L1544.6 551.8L1545.1 551.5L1545.5 553.1L1546.0 551.6L1546.4 549.8L1546.9 551.8L1547.3 550.9L1547.8 551.8L1548.2 549.0L1548.7 551.6L1549.1 551.5L1549.6 548.3L1550.0 549.7L1550.5 548.3L1550.9 549.6L1551.4 547.9L1551.8 550.4L1552.3 547.8L1552.7 549.5L1553.2 549.6L1553.6 548.7L1554.1 548.5L1554.5 551.1L1555.0 548.3L1555.4 549.1L1555.9 549.6L1556.3 550.6L1556.8 550.1L1557.2 549.4L1557.7 551.1L1558.1 551.8L1558.6 552.0L1559.0 551.5L1559.5 551.1L1559.9 550.4L1560.4 552.4L1560.8 553.1L1561.3 552.7L1561.7 554.8L1562.2 552.6L1562.6 555.0L1563.1 555.1L1563.5 556.0L1564.0 556.5L1564.4 554.5L1564.9 557.2L1565.3 555.8L1565.8 557.1L1566.2 558.3L1566.7 557.4L1567.1 557.7L1567.6 556.3L1568.0 558.4L1568.5 557.4L1568.9 558.2L1569.4 558.5L1569.8 560.8L1570.3 559.9L1570.7 560.5L1571.2 558.9L1571.6 559.6L1572.1 561.8L1572.5 559.5L1573.0 562.6L1573.4 561.1L1573.9 561.2L1574.3 561.9L1574.8 561.9L1575.2 562.3L1575.7 562.4L1576.1 563.6L1576.6 562.4L1577.0 562.2L1577.5 563.4L1577.9 562.4L1578.4 563.9L1578.8 564.3L1579.3 565.5L1579.7 563.4L1580.2 564.6L1580.6 566.1L1581.1 564.9L1581.5 566.8L1582.0 566.5L1582.4 564.4L1582.9 565.8L1583.3 567.3L1583.8 566.6L1584.2 567.3L1584.7 568.6L1585.1 567.6L1585.6 567.4L1586.0 568.6L1586.5 567.3L1586.9 566.0L1587.4 567.1L1587.8 568.4L1588.3 569.7L1588.7 568.7L1589.2 567.8L1589.6 570.4L1590.1 568.5L1590.5 568.1L1591.0 569.4L1591.4 568.8L1591.9 568.2L1592.3 570.4L1592.8 570.5L1593.2 571.6L1593.7 568.9L1594.1 571.7L1594.6 571.4L1595.0 569.7L1595.5 570.6L1595.9 571.3L1596.4 570.3L1596.8 569.7L1597.3 572.3L1597.7 570.2L1598.2 571.4L1598.6 571.3L1599.1 573.0L1599.5 571.9L1600.0 571.6L1600.4 573.6L1600.9 571.5L1601.3 572.9L1601.8 571.3L1602.2 573.1L1602.7 573.1L1603.1 573.5L1603.6 572.3L1604.0 571.5L1604.5 572.9L1604.9 573.9L1605.4 571.8L1605.8 570.9L1606.3 571.4L1606.7 574.0L1607.2 570.8L1607.6 571.0L1608.1 571.1L1608.5 573.8L1609.0 572.1L1609.4 573.2L1609.9 573.2L1610.3 572.3L1610.8 573.3L1611.2 572.4L1611.7 572.6L1612.1 571.8L1612.6 570.8L1613.0 572.8L1613.5 571.7L1613.9 571.7L1614.4 573.8L1614.8 572.0L1615.3 571.1L1615.7 572.9L1616.2 572.6L1616.6 571.0L1617.1 572.0L1617.5 572.9L1618.0 571.7L1618.4 574.1L1618.9 573.5L1619.3 572.5L1619.8 573.9L1620.2 570.9L1620.7 571.5L1621.1 573.9L1621.6 572.5L1622.0 571.4L1622.5 572.7L1622.9 573.3L1623.4 572.8L1623.8 570.9L1624.3 570.9L1624.7 572.2L1625.2 570.8L1625.6 571.1L1626.1 573.0L1626.5 572.3L1627.0 571.1L1627.4 573.7L1627.9 572.0L1628.3 573.8L1628.8 572.8L1629.2 572.9L1629.7 572.2L1630.1 573.0L1630.6 571.6L1631.0 571.6L1631.5 573.7L1631.9 571.4L1632.4 572.0L1632.8 573.3L1633.3 571.9L1633.7 572.0L1634.2 573.8L1634.6 571.4L1635.1 571.5L1635.5 573.7L1636.0 571.7L1636.4 571.8L1636.9 573.7L1637.3 571.8L1637.8 574.1L1638.2 573.5L1638.7 573.6L1639.1 571.5L1639.6 571.4L1640.0 573.2L1640.5 573.5L1640.9 571.4L1641.4 571.4L1641.8 571.5L1642.3 571.1L1642.7 572.1L1643.2 572.4L1643.6 572.8L1644.1 570.8L1644.5 571.3L1645.0 571.0L1645.4 571.6L1645.9 571.3L1646.3 573.8L1646.8 571.9L1647.2 571.1L1647.7 572.9L1648.1 573.9L1648.6 573.3L1649.0 572.8L1649.5 571.9L1649.9 572.0L1650.4 571.6L1650.8 573.3L1651.3 573.3L1651.7 572.2L1652.2 573.5L1652.6 572.8L1653.1 572.9L1653.5 571.5L1654.0 571.4L1654.4 571.3L1654.9 573.6L1655.3 573.3L1655.8 573.6L1656.2 573.3L1656.7 573.3L1657.1 572.0L1657.6 573.1L1658.0 571.1L1658.5 572.7L1658.9 570.6L1659.4 573.8L1659.8 573.5L1660.3 571.0L1660.7 573.1L1661.2 573.3L1661.6 570.6L1662.1 572.4L1662.5 571.9L1663.0 572.5L1663.4 573.4L1663.9 572.9L1664.3 571.1L1664.8 572.3L1665.2 572.3L1665.7 570.4L1666.1 570.8L1666.6 571.6L1667.0 571.0L1667.5 571.2L1667.9 572.6L1668.4 573.6L1668.8 571.9L1669.3 572.5L1669.7 572.9L1670.2 572.6L1670.6 572.5L1671.1 570.2L1671.5 573.1L1672.0 570.7L1672.4 570.6L1672.9 571.7L1673.3 571.8L1673.8 572.3L1674.2 570.6L1674.7 572.6L1675.1 571.4L1675.6 572.0L1676.0 570.6L1676.5 569.0L1676.9 568.7L1677.4 570.6L1677.8 569.7L1678.3 569.6L1678.7 569.0L1679.2 568.3L1679.6 569.1L1680.1 568.1L1680.5 570.1L1681.0 567.5L1681.4 570.0L1681.9 569.4L1682.3 567.6L1682.8 568.8L1683.2 567.9L1683.7 567.4L1684.1 568.4L1684.6 568.3L1685.0 566.0L1685.5 568.2L1685.9 565.1L1686.4 564.8L1686.8 566.3L1687.3 565.5L1687.7 565.8L1688.2 565.8L1688.6 565.6L1689.1 567.0L1689.5 566.8L1690.0 564.7L1690.4 564.4L1690.9 565.5L1691.3 563.8L1691.8 564.3L1692.2 565.2L1692.7 562.6L1693.1 565.1L1693.6 564.8L1694.0 563.5L1694.5 562.9L1694.9 563.7L1695.4 562.7L1695.8 564.4L1696.3 563.4L1696.7 562.3L1697.2 563.8L1697.6 563.0L1698.1 561.4L1698.5 562.4L1699.0 562.9L1699.4 564.7L1699.9 562.8L1700.3 563.4L1700.8 565.4L1701.2 563.7L1701.7 565.3L1702.1 563.0L1702.6 564.3L1703.0 563.8L1703.5 566.4L1703.9 565.4L1704.4 564.5L1704.8 564.3L1705.3 565.7L1705.7 564.8L1706.2 566.3L1706.6 567.3L1707.1 566.1L1707.5 565.8L1708.0 566.7L1708.4 566.2L1708.9 568.7L1709.3 566.4L1709.8 568.7L1710.2 567.5L1710.7 569.0L1711.1 569.4L1711.6 567.4L1712.0 569.7L1712.5 570.5L1712.9 569.4L1713.4 569.9L1713.8 568.9L1714.3 568.6L1714.7 570.7L1715.2 571.2L1715.6 569.3L1716.1 569.1L1716.5 570.1L1717.0 571.2L1717.4 570.5L1717.9 572.7L1718.3 572.2L1718.8 572.8L1719.2 571.9L1719.7 572.5L1720.1 573.3L1720.6 570.3L1721.0 572.3L1721.5 571.1L1721.9 573.2L1722.4 571.4L1722.8 573.2L1723.3 571.9L1723.7 573.0L1724.2 573.1L1724.6 573.9L1725.1 573.9L1725.5 572.4L1726.0 573.3L1726.4 571.6L1726.9 571.3L1727.3 573.5L1727.8 574.2L1728.2 573.6L1728.7 572.9L1729.1 573.3L1729.6 573.6L1730.0 573.1L1730.5 572.4L1730.9 574.1L1731.4 572.5L1731.8 574.3L1732.3 574.0L1732.7 574.0L1733.2 574.1L1733.6 574.6L1734.1 574.7L1734.5 573.0L1735.0 572.6L1735.4 573.8L1735.9 574.5L1736.3 573.3L1736.8 571.1L1737.2 571.0L1737.7 572.4L1738.1 573.3L1738.6 573.5L1739.0 571.6L1739.5 572.0L1739.9 571.9L1740.4 570.3L1740.8 569.9L1741.3 571.5L1741.7 571.3L1742.2 572.4L1742.6 570.0L1743.1 572.1L1743.5 570.0L1744.0 570.8L1744.4 571.3L1744.9 569.2L1745.3 571.8L1745.8 571.7L1746.2 571.6L1746.7 568.1L1747.1 570.2L1747.6 570.1L1748.0 570.7L1748.5 568.2L1748.9 567.8L1749.4 570.0L1749.8 567.9L1750.3 567.1L1750.7 567.0L1751.2 568.7L1751.6 568.2L1752.1 568.7L1752.5 568.7L1753.0 565.8L1753.4 568.8L1753.9 568.4L1754.3 568.4L1754.8 567.6L1755.2 566.1L1755.7 565.4L1756.1 567.5L1756.6 565.6L1757.0 565.6L1757.5 566.1L1757.9 565.8L1758.4 565.6L1758.8 565.2L1759.3 564.5L1759.7 565.2L1760.2 563.6L1760.6 562.9L1761.1 564.9L1761.5 564.4L1762.0 563.7L1762.4 561.6L1762.9 560.9L1763.3 563.6L1763.8 563.4L1764.2 560.8L1764.7 561.7L1765.1 559.3L1765.6 560.3L1766.0 561.1L1766.5 559.6L1766.9 560.8L1767.4 560.8L1767.8 557.8L1768.3 559.4L1768.7 558.0L1769.2 556.9L1769.6 557.2L1770.1 557.3L1770.5 558.3L1771.0 557.5L1771.4 554.5L1771.9 554.3L1772.3 557.1L1772.8 555.2L1773.2 555.0L1773.7 553.7L1774.1 554.9L1774.6 553.6L1775.0 553.2L1775.5 551.6L1775.9 552.9L1776.4 550.5L1776.8 549.7L1777.3 550.7L1777.7 551.0L1778.2 548.6L1778.6 548.2L1779.1 547.5L1779.5 549.3L1780.0 550.4L1780.4 548.8L1780.9 550.7L1781.3 551.3L1781.8 550.4L1782.2 552.4L1782.7 552.0L1783.1 552.2L1783.6 555.3L1784.0 552.7L1784.5 554.0L1784.9 555.3L1785.4 555.0L1785.8 554.1L1786.3 557.4L1786.7 555.6L1787.2 556.6L1787.6 558.7L1788.1 559.3L1788.5 559.4L1789.0 558.1L1789.4 559.6L1789.9 560.3L1790.3 558.4L1790.8 561.4L1791.2 558.7L1791.7 561.0L1792.1 559.9L1792.6 560.1L1793.0 560.1L1793.5 563.2L1793.9 560.7L1794.4 563.7L1794.8 561.4L1795.3 562.2L1795.7 562.1L1796.2 565.0L1796.6 562.3L1797.1 565.1L1797.5 563.5L1798.0 566.0L1798.4 565.5L1798.9 564.1L1799.3 565.2L1799.8 564.3L1800.2 565.3L1800.7 564.3L1801.1 566.7L1801.6 566.6L1802.0 565.8L1802.5 565.1L1802.9 568.5L1803.4 565.9L1803.8 566.8L1804.3 566.0L1804.7 567.4L1805.2 567.6L1805.6 568.3L1806.1 567.7L1806.5 567.7L1807.0 569.7L1807.4 568.1L1807.9 568.5L1808.3 569.2L1808.8 568.6L1809.2 570.3L1809.7 568.3L1810.1 569.3L1810.6 569.8L1811.0 569.4L1811.5 571.5L1811.9 570.0L1812.4 570.4L1812.8 570.7L1813.3 572.0L1813.7 570.1L1814.2 572.3L1814.6 572.9L1815.1 570.7L1815.5 570.5L1816.0 572.7L1816.4 571.2L1816.9 571.0L1817.3 570.7L1817.8 572.6L1818.2 573.8L1818.7 573.8L1819.1 572.9L1819.6 572.5L1820.0 574.4L1820.5 573.5L1820.9 574.6L1821.4 573.8"/>
<path stroke="#00A5FF" d="M212.2 816.5L212.6 816.6L213.1 812.3L213.5 813.2L214.0 811.9L214.4 818.4L214.9 818.9L215.3 816.0L215.8 812.6L216.2 812.4L216.7 814.8L217.1 814.4L217.6 813.0L218.0 812.2L218.5 816.4L218.9 817.5L219.4 812.1L219.8 813.9L220.3 813.9L220.7 815.7L221.2 816.1L221.6 814.7L222.1 818.0L222.5 814.6L223.0 814.0L223.4 817.3L223.9 817.9L224.3 818.1L224.8 813.0L225.2 813.2L225.7 815.2L226.1 818.8L226.6 816.3L227.0 816.3L227.5 814.2L227.9 819.0L228.4 813.2L228.8 815.9L229.3 816.7L229.7 817.7L230.2 817.7L230.6 814.7L231.1 813.8L231.5 818.9L232.0 815.8L232.4 813.9L232.9 812.9L233.3 817.6L233.8 817.9L234.2 816.0L234.7 814.7L235.1 816.6L235.6 818.8L236.0 816.0L236.5 817.5L236.9 818.1L237.4 817.2L237.8 815.4L238.3 813.2L238.7 816.8L239.2 817.7L239.6 818.6L240.1 813.0L240.5 812.7L241.0 816.3L241.4 817.6L241.9 812.4L242.3 816.1L242.8 813.7L243.2 818.7L243.7 814.3L244.1 812.4L244.6 817.2L245.0 813.9L245.5 814.7L245.9 812.7L246.4 814.0L246.8 812.7L247.3 813.5L247.7 815.6L248.2 813.7L248.6 816.2L249.1 817.7L249.5 815.5L250.0 811.8L250.4 818.0L250.9 812.9L251.3 813.8L251.8 814.9L252.2 815.5L252.7 813.5L253.1 814.1L253.6 815.2L254.0 814.0L254.5 812.7L254.9 813.4L255.4 813.1L255.8 812.3L256.3 814.2L256.7 813.5L257.2 812.6L257.6 814.4L258.1 814.9L258.5 813.6L259.0 811.4L259.4 815.1L259.9 809.4L260.3 813.8L260.8 811.1L261.2 810.7L261.7 813.4L262.1 811.9L262.6 813.7L263.0 812.9L263.5 807.7L263.9 810.0L264.4 811.4L264.8 806.7L265.3 809.4L265.7 812.0L266.2 806.8L266.6 805.6L267.1 806.4L267.5 806.3L268.0 805.5L268.4 806.0L268.9 808.1L269.3 805.6L269.8 805.6L270.2 802.0L270.7 801.2L271.1 806.2L271.6 801.8L272.0 805.0L272.5 800.5L272.9 801.8L273.4 801.3L273.8 797.0L274.3 796.1L274.7 797.6L275.2 794.8L275.6 794.9L276.1 793.4L276.5 793.1L277.0 792.9L277.4 790.9L277.9 789.9L278.3 789.6L278.8 789.6L279.2 784.2L279.7 788.7L280.1 783.8L280.6 785.3L281.0 778.0L281.5 776.6L281.9 775.2L282.4 778.4L282.8 773.4L283.3 773.8L283.7 769.9L284.2 762.9L284.6 761.2L285.1 757.9L285.5 755.6L286.0 754.2L286.4 746.7L286.9 748.2L287.3 741.7L287.8 737.1L288.2 735.0L288.7 728.0L289.1 726.0L289.6 719.4L290.0 714.6L290.5 707.5L290.9 701.9L291.4 699.9L291.8 691.9L292.3 684.3L292.7 679.5L293.2 673.0L293.6 660.8L294.1 657.8L294.5 643.4L295.0 638.2L295.4 626.9L295.9 617.2L296.3 608.7L296.8 599.1L297.2 587.5L297.7 578.2L298.1 568.4L298.6 552.4L299.0 541.4L299.5 532.1L299.9 519.5L300.4 507.6L300.8 497.7L301.3 488.1L301.7 479.1L302.2 469.6L302.6 459.7L303.1 448.5L303.5 443.5L304.0 435.4L304.4 425.3L304.9 423.5L305.3 415.1L305.8 416.6L306.2 420.2L306.7 430.2L307.1 440.2L307.6 454.9L308.0 462.5L308.5 475.3L308.9 488.9L309.4 503.6L309.8 515.2L310.3 525.5L310.7 538.4L311.2 552.5L311.6 563.3L312.1 576.8L312.5 586.3L313.0 599.5L313.4 609.3L313.9 617.8L314.3 626.7L314.8 635.2L315.2 644.6L315.7 653.4L316.1 661.6L316.6 668.3L317.0 677.3L317.5 682.2L317.9 693.2L318.4 697.7L318.8 701.1L319.3 708.2L319.7 713.2L320.2 717.7L320.6 724.5L321.1 727.4L321.5 731.6L322.0 738.9L322.4 741.4L322.9 746.5L323.3 749.0L323.8 752.6L324.2 754.7L324.7 758.4L325.1 761.8L325.6 764.1L326.0 770.1L326.5 770.0L326.9 772.9L327.4 776.5L327.8 781.6L328.3 784.3L328.7 784.7L329.2 785.4L329.6 788.8L330.1 791.5L330.5 789.8L331.0 793.8L331.4 795.6L331.9 795.2L332.3 795.3L332.8 799.2L333.2 798.2L333.7 800.3L334.1 802.4L334.6 805.8L335.0 802.3L335.5 802.8L335.9 806.3L336.4 809.3L336.8 805.1L337.3 809.0L337.7 806.3L338.2 809.7L338.6 807.9L339.1 811.4L339.5 810.3L340.0 812.4L340.4 810.7L340.9 810.2L341.3 811.2L341.8 812.1L342.2 811.9L342.7 812.5L343.1 814.7L343.6 814.5L344.0 817.0L344.5 815.5L344.9 816.1L345.4 817.3L345.8 818.4L346.3 817.3L346.7 814.7L347.2 817.3L347.6 815.3L348.1 818.7L348.5 816.0L349.0 818.9L349.4 817.1L349.9 821.2L350.3 817.3L350.8 820.6L351.2 821.1L351.7 819.0L352.1 821.0L352.6 819.8L353.0 819.6L353.5 819.8L353.9 818.7L354.4 822.4L354.8 819.4L355.3 820.2L355.7 819.8L356.2 823.8L356.6 822.4L357.1 822.2L357.5 823.0L358.0 824.3L358.4 823.5L358.9 823.0L359.3 822.1L359.8 823.3L360.2 825.9L360.7 823.8L361.1 823.4L361.6 825.7L362.0 821.4L362.5 821.6L362.9 825.6L363.4 826.5L363.8 821.9L364.3 821.8L364.7 821.9L365.2 825.0L365.6 822.8L366.1 825.1L366.5 825.7L367.0 822.4L367.4 827.0L367.9 823.9L368.3 825.5L368.8 824.6L369.2 824.6L369.7 825.0L370.1 823.0L370.6 825.3L371.0 824.5L371.5 825.1L371.9 824.2L372.4 825.2L372.8 827.2L373.3 828.7L373.7 824.7L374.2 828.3L374.6 827.0L375.1 824.4L375.5 824.1L376.0 828.7L376.4 825.3L376.9 824.8L377.3 827.7L377.8 828.0L378.2 829.1L378.7 827.1L379.1 826.2L379.6 826.3L380.0 825.8L380.5 828.1L380.9 829.7L381.4 825.4L381.8 827.0L382.3 826.9L382.7 825.6L383.2 828.3L383.6 830.4L384.1 826.8L384.5 829.2L385.0 830.1L385.4 827.0L385.9 830.4L386.3 829.6L386.8 829.1L387.2 826.8L387.7 827.3L388.1 826.5L388.6 830.7L389.0 830.3L389.5 826.7L389.9 829.0L390.4 827.4L390.8 830.3L391.3 829.4L391.7 831.4L392.2 830.4L392.6 827.2L393.1 828.7L393.5 829.8L394.0 831.6L394.4 828.9L394.9 828.1L395.3 828.6L395.8 828.5L396.2 828.1L396.7 829.1L397.1 828.7L397.6 830.1L398.0 832.1L398.5 832.5L398.9 828.5L399.4 830.7L399.8 831.3L400.3 828.7L400.7 830.7L401.2 829.0L401.6 829.9L402.1 829.8L402.5 832.3L403.0 829.4L403.4 831.0L403.9 831.3L404.3 830.1L404.8 833.1L405.2 830.2L405.7 830.2L406.1 832.1L406.6 831.1L407.0 832.3L407.5 829.5L407.9 829.5L408.4 832.5L408.8 830.8L409.3 833.2L409.7 830.1L410.2 830.2L410.6 833.3L411.1 830.9L411.5 829.6L412.0 830.2L412.4 833.0L412.9 830.5L413.3 832.0L413.8 833.4L414.2 832.3L414.7 833.1L415.1 834.2L415.6 830.9L416.0 833.8L416.5 832.2L416.9 830.4L417.4 830.1L417.8 831.1L418.3 830.2L418.7 833.3L419.2 832.3L419.6 829.7L420.1 833.9L420.5 832.5L421.0 831.7L421.4 830.2L421.9 831.8L422.3 834.0L422.8 832.3L423.2 831.6L423.7 832.3L424.1 832.0L424.6 832.3L425.0 830.1L425.5 829.8L425.9 829.1L426.4 833.1L426.8 828.9L427.3 830.1L427.7 831.6L428.2 831.1L428.6 833.0L429.1 829.5L429.5 828.9L430.0 829.0L430.4 830.5L430.9 829.4L431.3 830.1L431.8 831.1L432.2 829.2L432.7 830.8L433.1 827.5L433.6 829.9L434.0 831.5L434.5 831.5L434.9 829.6L435.4 831.5L435.8 827.7L436.3 827.8L436.7 828.4L437.2 828.5L437.6 829.9L438.1 827.9L438.5 825.8L439.0 828.8L439.4 826.3L439.9 829.4L440.3 825.9L440.8 826.2L441.2 825.2L441.7 825.9L442.1 827.1L442.6 825.3L443.0 824.1L443.5 826.5L443.9 827.1L444.4 823.9L444.8 825.2L445.3 823.3L445.7 822.9L446.2 824.4L446.6 823.7L447.1 826.3L447.5 821.9L448.0 824.7L448.4 824.9L448.9 823.1L449.3 823.2L449.8 821.7L450.2 821.4L450.7 820.1L451.1 823.9L451.6 819.3L452.0 819.5L452.5 822.0L452.9 820.4L453.4 820.3L453.8 818.8L454.3 817.8L454.7 820.5L455.2 816.8L455.6 817.3L456.1 819.1L456.5 816.4L457.0 819.2L457.4 815.0L457.9 816.2L458.3 815.7L458.8 815.0L459.2 815.8L459.7 811.7L460.1 813.5L460.6 814.0L461.0 809.8L461.5 811.5L461.9 810.3L462.4 809.4L462.8 809.3L463.3 809.0L463.7 808.6L464.2 808.7L464.6 806.7L465.1 807.5L465.5 805.1L466.0 802.3L466.4 800.8L466.9 799.6L467.3 799.5L467.8 797.8L468.2 799.5L468.7 798.5L469.1 797.0L469.6 794.8L470.0 794.1L470.5 791.9L470.9 793.8L471.4 788.2L471.8 788.4L472.3 788.2L472.7 784.9L473.2 786.7L473.6 783.3L474.1 781.0L474.5 777.6L475.0 776.5L475.4 775.7L475.9 771.9L476.3 768.4L476.8 768.4L477.2 764.7L477.7 764.8L478.1 761.6L478.6 759.3L479.0 757.7L479.5 754.8L479.9 750.0L480.4 748.6L480.8 744.4L481.3 741.4L481.7 738.6L482.2 735.3L482.6 732.8L483.1 729.1L483.5 727.3L484.0 721.3L484.4 716.5L484.9 714.8L485.3 710.8L485.8 711.0L486.2 707.0L486.7 707.1L487.1 703.9L487.6 704.0L488.0 704.6L488.5 700.8L488.9 700.6L489.4 698.7L489.8 695.4L490.3 694.0L490.7 697.7L491.2 696.4L491.6 699.7L492.1 700.3L492.5 703.8L493.0 702.2L493.4 705.1L493.9 707.1L494.3 710.0L494.8 708.3L495.2 712.1L495.7 715.3L496.1 718.7L496.6 719.7L497.0 724.9L497.5 728.9L497.9 732.4L498.4 733.1L498.8 737.2L499.3 739.5L499.7 742.9L500.2 745.8L500.6 751.5L501.1 750.1L501.5 757.5L502.0 756.2L502.4 759.4L502.9 763.1L503.3 766.7L503.8 772.6L504.2 775.7L504.7 779.3L505.1 779.6L505.6 780.6L506.0 785.8L506.5 789.3L506.9 787.8L507.4 793.2L507.8 791.3L508.3 796.6L508.7 797.3L509.2 801.0L509.6 802.5L510.1 800.3L510.5 804.0L511.0 804.3L511.4 806.7L511.9 806.4L512.3 809.2L512.8 810.8L513.2 810.3L513.7 813.8L514.1 817.0L514.6 814.3L515.0 819.4L515.5 818.1L515.9 817.5L516.4 821.7L516.8 820.0L517.3 820.4L517.7 820.7L518.2 823.6L518.6 820.6L519.1 821.5L519.5 822.3L520.0 821.7L520.4 825.8L520.9 824.6L521.3 825.5L521.8 827.2L522.2 825.7L522.7 825.1L523.1 826.6L523.6 826.8L524.0 826.2L524.5 826.2L524.9 827.1L525.4 829.1L525.8 826.8L526.3 830.9L526.7 827.6L527.2 828.1L527.6 827.7L528.1 829.2L528.5 829.3L529.0 831.0L529.4 832.2L529.9 829.4L530.3 832.3L530.8 830.2L531.2 830.8L531.7 829.8L532.1 833.5L532.6 831.3L533.0 833.0L533.5 830.1L533.9 833.3L534.4 831.3L534.8 832.6L535.3 833.8L535.7 831.6L536.2 833.4L536.6 835.0L537.1 832.1L537.5 833.6L538.0 832.5L538.4 832.4L538.9 834.2L539.3 834.2L539.8 835.2L540.2 836.4L540.7 835.8L541.1 834.3L541.6 835.1L542.0 836.1L542.5 837.0L542.9 836.4L543.4 835.7L543.8 834.2L544.3 837.7L544.7 835.1L545.2 835.8L545.6 838.1L546.1 835.2L546.5 838.5L547.0 835.5L547.4 835.0L547.9 837.0L548.3 838.4L548.8 836.7L549.2 838.8L549.7 836.9L550.1 838.9L550.6 835.8L551.0 836.6L551.5 836.0L551.9 838.9L552.4 837.7L552.8 838.6L553.3 836.8L553.7 839.1L554.2 840.4L554.6 836.3L555.1 837.4L555.5 840.0L556.0 840.0L556.4 840.2L556.9 837.3L557.3 838.9L557.8 836.7L558.2 838.4L558.7 839.1L559.1 837.7L559.6 838.5L560.0 838.3L560.5 837.0L560.9 837.0L561.4 840.3L561.8 836.8L562.3 841.3L562.7 841.0L563.2 841.4L563.6 840.5L564.1 837.0L564.5 837.6L565.0 838.5L565.4 838.0L565.9 837.4L566.3 841.4L566.8 841.4L567.2 840.8L567.7 838.5L568.1 841.2L568.6 841.1L569.0 838.9L569.5 838.0L569.9 838.1L570.4 839.4L570.8 841.4L571.3 837.9L571.7 839.6L572.2 839.3L572.6 841.7L573.1 838.4L573.5 840.7L574.0 839.2L574.4 840.7L574.9 841.6L575.3 841.6L575.8 841.7L576.2 839.2L576.7 839.2L577.1 838.5L577.6 839.1L578.0 838.6L578.5 841.6L578.9 838.3L579.4 839.0L579.8 841.7L580.3 841.6L580.7 842.6L581.2 839.9L581.6 838.4L582.1 841.9L582.5 839.6L583.0 841.8L583.4 838.4L583.9 838.5L584.3 841.1L584.8 841.5L585.2 841.0L585.7 840.9L586.1 841.2L586.6 839.1L587.0 838.9L587.5 840.2L587.9 841.1L588.4 839.8L588.8 839.5L589.3 840.8L589.7 840.6L590.2 840.0L590.6 843.0L591.1 843.1L591.5 839.1L592.0 841.1L592.4 840.0L592.9 840.5L593.3 839.1L593.8 839.4L594.2 839.2L594.7 839.7L595.1 842.1L595.6 839.5L596.0 843.2L596.5 842.8L596.9 840.4L597.4 842.4L597.8 843.6L598.3 839.8L598.7 841.8L599.2 841.4L599.6 840.7L600.1 840.6L600.5 839.7L601.0 842.3L601.4 840.3L601.9 841.3L602.3 843.6L602.8 841.0L603.2 840.9L603.7 843.7L604.1 842.1L604.6 842.1L605.0 840.5L605.5 842.4L605.9 841.2L606.4 842.0L606.8 841.3L607.3 839.9L607.7 843.5L608.2 842.7L608.6 843.9L609.1 841.0L609.5 840.9L610.0 840.2L610.4 841.0L610.9 841.1L611.3 840.5L611.8 840.9L612.2 841.0L612.7 843.6L613.1 841.7L613.6 843.4L614.0 840.0L614.5 840.6L614.9 844.1L615.4 840.0L615.8 840.1L616.3 842.1L616.7 841.1L617.2 840.7L617.6 842.6L618.1 842.6L618.5 840.7L619.0 842.3L619.4 841.9L619.9 843.7L620.3 840.2L620.8 841.0L621.2 842.5L621.7 840.1L622.1 843.7L622.6 844.3L623.0 841.4L623.5 843.5L623.9 841.1L624.4 844.3L624.8 840.9L625.3 840.0L625.7 840.3L626.2 842.1L626.6 840.2L627.1 844.5L627.5 842.9L628.0 842.6L628.4 842.9L628.9 842.0L629.3 844.1L629.8 843.3L630.2 842.0L630.7 841.4L631.1 840.8L631.6 841.5L632.0 841.7L632.5 840.5L632.9 844.3L633.4 841.3L633.8 842.6L634.3 840.5L634.7 842.7L635.2 843.1L635.6 840.6L636.1 844.6L636.5 841.0L637.0 841.4L637.4 843.5L637.9 841.8L638.3 844.2L638.8 841.3L639.2 841.7L639.7 843.4L640.1 844.1L640.6 844.3L641.0 841.6L641.5 842.7L641.9 842.2L642.4 843.4L642.8 841.3L643.3 844.1L643.7 843.5L644.2 841.1L644.6 841.8L645.1 841.9L645.5 844.5L646.0 842.4L646.4 843.1L646.9 844.6L647.3 842.2L647.8 844.6L648.2 841.7L648.7 840.5L649.1 840.9L649.6 843.5L650.0 842.1L650.5 844.2L650.9 842.8L651.4 843.5L651.8 842.0L652.3 843.1L652.7 843.6L653.2 842.1L653.6 842.7L654.1 844.2L654.5 844.6L655.0 842.0L655.4 840.8L655.9 844.3L656.3 842.5L656.8 844.8L657.2 843.9L657.7 842.1L658.1 844.3L658.6 843.0L659.0 843.7L659.5 844.5L659.9 843.1L660.4 844.8L660.8 842.3L661.3 842.2L661.7 843.4L662.2 842.3L662.6 843.7L663.1 842.9L663.5 843.9L664.0 844.2L664.4 843.1L664.9 844.6L665.3 844.0L665.8 844.4L666.2 840.6L666.7 840.6L667.1 843.4L667.6 842.0L668.0 844.5L668.5 842.3L668.9 843.9L669.4 841.7L669.8 843.4L670.3 844.6L670.7 844.4L671.2 842.2L671.6 842.7L672.1 843.0L672.5 842.1L673.0 842.7L673.4 844.9L673.9 844.5L674.3 842.0L674.8 843.6L675.2 844.8L675.7 842.2L676.1 844.4L676.6 844.1L677.0 844.5L677.5 841.0L677.9 844.7L678.4 845.0L678.8 841.7L679.3 843.4L679.7 841.0L680.2 843.3L680.6 843.8L681.1 843.9L681.5 844.4L682.0 841.9L682.4 841.1L682.9 844.2L683.3 840.7L683.8 841.6L684.2 841.7L684.7 844.1L685.1 842.6L685.6 844.3L686.0 843.6L686.5 844.4L686.9 844.1L687.4 844.5L687.8 841.8L688.3 842.2L688.7 843.4L689.2 843.2L689.6 844.1L690.1 844.2L690.5 842.0L691.0 841.1L691.4 843.9L691.9 843.7L692.3 841.8L692.8 840.9L693.2 840.7L693.7 841.7L694.1 841.8L694.6 841.5L695.0 840.8L695.5 841.4L695.9 842.2L696.4 841.0L696.8 841.5L697.3 842.6L697.7 844.4L698.2 844.5L698.6 842.4L699.1 841.2L699.5 841.8L700.0 843.6L700.4 842.4L700.9 843.2L701.3 843.9L701.8 843.6L702.2 844.5L702.7 841.0L703.1 842.0L703.6 840.8L704.0 843.0L704.5 843.4L704.9 841.8L705.4 840.9L705.8 842.7L706.3 841.4L706.7 841.5L707.2 842.3L707.6 844.8L708.1 842.2L708.5 843.8L709.0 842.3L709.4 842.4L709.9 841.3L710.3 841.5L710.8 844.1L711.2 842.6L711.7 841.9L712.1 845.0L712.6 844.6L713.0 841.8L713.5 842.6L713.9 843.2L714.4 841.4L714.8 842.5L715.3 841.9L715.7 844.3L716.2 841.1L716.6 845.1L717.1 841.7L717.5 842.1L718.0 841.0L718.4 844.7L718.9 844.3L719.3 841.0L719.8 843.0L720.2 842.4L720.7 843.4L721.1 842.2L721.6 844.9L722.0 841.6L722.5 844.3L722.9 841.8L723.4 843.5L723.8 842.6L724.3 843.0L724.7 843.0L725.2 843.4L725.6 841.0L726.1 840.9L726.5 845.0L727.0 841.8L727.4 842.2L727.9 841.7L728.3 843.5L728.8 845.0L729.2 842.5L729.7 842.1L730.1 842.2L730.6 840.8L731.0 841.1L731.5 840.9L731.9 842.1L732.4 845.0L732.8 841.3L733.3 843.1L733.7 841.6L734.2 840.8L734.6 844.4L735.1 841.2L735.5 841.3L736.0 844.3L736.4 841.8L736.9 841.6L737.3 844.9L737.8 841.5L738.2 844.4L738.7 842.0L739.1 843.2L739.6 842.1L740.0 842.2L740.5 844.8L740.9 844.7L741.4 841.5L741.8 843.9L742.3 841.3L742.7 842.0L743.2 841.0L743.6 843.6L744.1 843.9L744.5 844.0L745.0 844.1L745.4 842.4L745.9 841.5L746.3 840.7L746.8 842.6L747.2 844.8L747.7 842.7L748.1 843.4L748.6 844.8L749.0 844.5L749.5 844.0L749.9 843.3L750.4 841.7L750.8 844.0L751.3 842.5L751.7 843.8L752.2 841.7L752.6 844.9L753.1 841.4L753.5 844.2L754.0 844.6L754.4 841.4L754.9 844.5L755.3 843.5L755.8 843.4L756.2 841.8L756.7 842.1L757.1 841.7L757.6 842.7L758.0 843.6L758.5 843.9L758.9 843.8L759.4 842.2L759.8 842.2L760.3 844.1L760.7 845.0L761.2 841.7L761.6 842.5L762.1 841.9L762.5 845.0L763.0 840.8L763.4 844.7L763.9 844.1L764.3 842.2L764.8 843.7L765.2 842.3L765.7 843.5L766.1 842.6L766.6 844.8L767.0 842.7L767.5 844.3L767.9 843.3L768.4 842.4L768.8 845.0L769.3 841.6L769.7 844.7L770.2 845.1L770.6 844.5L771.1 843.4L771.5 843.5L772.0 844.8L772.4 842.6L772.9 844.4L773.3 844.1L773.8 844.5L774.2 842.7L774.7 843.6L775.1 841.1L775.6 841.0L776.0 841.2L776.5 844.0L776.9 842.3L777.4 844.7L777.8 841.1L778.3 841.5L778.7 844.4L779.2 842.6L779.6 841.7L780.1 844.2L780.5 841.7L781.0 845.0L781.4 841.9L781.9 844.5L782.3 842.8L782.8 844.9L783.2 842.0L783.7 844.8L784.1 842.1L784.6 842.7L785.0 843.5L785.5 843.2L785.9 843.7L786.4 843.8L786.8 841.9L787.3 840.8L787.7 843.9L788.2 843.4L788.6 843.2L789.1 842.9L789.5 844.8L790.0 842.0L790.4 844.8L790.9 841.5L791.3 843.8L791.8 844.9L792.2 841.4L792.7 844.1L793.1 841.9L793.6 841.0L794.0 842.6L794.5 843.8L794.9 842.0L795.4 844.9L795.8 840.7L796.3 841.9L796.7 842.2L797.2 842.4L797.6 842.0L798.1 840.8L798.5 841.7L799.0 841.9L799.4 843.7L799.9 842.4L800.3 843.9L800.8 842.7L801.2 842.2L801.7 841.4L802.1 841.7L802.6 844.7L803.0 842.7L803.5 842.1L803.9 841.7L804.4 844.6L804.8 843.8L805.3 843.8L805.7 844.3L806.2 841.8L806.6 844.0L807.1 841.0L807.5 843.7L808.0 842.2L808.4 843.7L808.9 841.7L809.3 842.3L809.8 843.7L810.2 844.9L810.7 842.2L811.1 841.5L811.6 841.3L812.0 843.7L812.5 844.7L812.9 840.8L813.4 842.3L813.8 841.5L814.3 845.0L814.7 841.3L815.2 841.0L815.6 844.1L816.1 845.2L816.5 844.2L817.0 841.2L817.4 842.5L817.9 843.0L818.3 844.7L818.8 844.1L819.2 841.0L819.7 842.7L820.1 844.2L820.6 843.1L821.0 843.7L821.5 845.0L821.9 845.1L822.4 844.4L822.8 843.3L823.3 842.1L823.7 841.4L824.2 841.5L824.6 843.6L825.1 844.2L825.5 844.5L826.0 844.8L826.4 842.0L826.9 842.2L827.3 841.6L827.8 843.1L828.2 844.9L828.7 844.1L829.1 842.7L829.6 841.4L830.0 844.5L830.5 844.7L830.9 844.1L831.4 842.0L831.8 842.5L832.3 843.3L832.7 844.8L833.2 841.8L833.6 842.6L834.1 841.0L834.5 840.8L835.0 841.8L835.4 844.3L835.9 843.7L836.3 842.9L836.8 842.6L837.2 841.9L837.7 844.1L838.1 842.9L838.6 841.1L839.0 843.5L839.5 845.1L839.9 841.1L840.4 845.2L840.8 841.2L841.3 842.1L841.7 845.1L842.2 845.1L842.6 841.6L843.1 843.9L843.5 843.5L844.0 842.5L844.4 844.2L844.9 843.6L845.3 841.8L845.8 842.9L846.2 843.9L846.7 843.5L847.1 843.2L847.6 844.0L848.0 841.4L848.5 841.0L848.9 840.9L849.4 843.5L849.8 842.7L850.3 844.5L850.7 845.1L851.2 841.3L851.6 842.4L852.1 842.6L852.5 843.2L853.0 844.8L853.4 843.4L853.9 842.1L854.3 843.7L854.8 842.2L855.2 843.2L855.7 841.2L856.1 843.3L856.6 842.9L857.0 843.6L857.5 843.3L857.9 843.3L858.4 844.0L858.8 841.4L859.3 844.1L859.7 843.5L860.2 843.8L860.6 842.5L861.1 841.2L861.5 844.8L862.0 844.4L862.4 845.1L862.9 842.8L863.3 844.7L863.8 844.6L864.2 843.2L864.7 844.8L865.1 844.4L865.6 841.2L866.0 841.4L866.5 842.6L866.9 843.1L867.4 843.7L867.8 843.3L868.3 844.7L868.7 844.3L869.2 841.2L869.6 842.3L870.1 844.7L870.5 844.1L871.0 840.9L871.4 843.6L871.9 841.3L872.3 843.0L872.8 845.2L873.2 841.1L873.7 844.4L874.1 842.9L874.6 845.1L875.0 844.6L875.5 841.1L875.9 843.6L876.4 844.6L876.8 842.0L877.3 843.9L877.7 841.9L878.2 841.7L878.6 842.3L879.1 842.1L879.5 845.0L880.0 841.8L880.4 842.7L880.9 842.9L881.3 843.9L881.8 845.1L882.2 843.5L882.7 844.6L883.1 841.4L883.6 843.7L884.0 841.6L884.5 844.7L884.9 843.4L885.4 841.4L885.8 844.6L886.3 843.1L886.7 843.0L887.2 841.2L887.6 844.8L888.1 843.1L888.5 844.6L889.0 841.2L889.4 843.8L889.9 842.5L890.3 843.2L890.8 843.6L891.2 844.5L891.7 844.9L892.1 841.6L892.6 844.6L893.0 841.3L893.5 840.9L893.9 842.2L894.4 842.1L894.8 844.2L895.3 843.3L895.7 842.5L896.2 844.3L896.6 845.0L897.1 843.7L897.5 843.7L898.0 844.6L898.4 842.1L898.9 845.2L899.3 841.6L899.8 841.0L900.2 844.5L900.7 841.6L901.1 842.3L901.6 843.1L902.0 841.3L902.5 842.7L902.9 842.4L903.4 841.2L903.8 843.5L904.3 842.8L904.7 841.6L905.2 844.3L905.6 842.7L906.1 841.0L906.5 844.7L907.0 842.7L907.4 841.3L907.9 842.1L908.3 842.0L908.8 841.1L909.2 842.3L909.7 841.6L910.1 841.8L910.6 843.8L911.0 841.6L911.5 841.0L911.9 841.7L912.4 842.2L912.8 841.6L913.3 843.5L913.7 844.8L914.2 844.5L914.6 843.0L915.1 844.3L915.5 844.4L916.0 843.7L916.4 844.4L916.9 842.6L917.3 844.2L917.8 843.2L918.2 844.1L918.7 844.2L919.1 841.2L919.6 844.6L920.0 841.1L920.5 842.8L920.9 843.5L921.4 844.5L921.8 841.2L922.3 843.9L922.7 842.4L923.2 841.1L923.6 842.4L924.1 843.7L924.5 841.3L925.0 844.7L925.4 841.1L925.9 842.0L926.3 842.4L926.8 841.2L927.2 845.0L927.7 845.2L928.1 844.9L928.6 841.8L929.0 844.6L929.5 842.4L929.9 842.2L930.4 844.0L930.8 841.3L931.3 841.0L931.7 845.0L932.2 842.5L932.6 844.4L933.1 842.8L933.5 841.3L934.0 843.0L934.4 841.7L934.9 841.3L935.3 841.0L935.8 842.7L936.2 842.1L936.7 842.4L937.1 845.2L937.6 844.6L938.0 844.1L938.5 842.0L938.9 844.3L939.4 844.0L939.8 843.3L940.3 842.0L940.7 841.9L941.2 842.8L941.6 842.2L942.1 844.9L942.5 843.0L943.0 844.0L943.4 844.9L943.9 843.7L944.3 841.7L944.8 842.4L945.2 845.0L945.7 841.2L946.1 842.0L946.6 843.7L947.0 844.7L947.5 844.6L947.9 844.2L948.4 844.1L948.8 842.6L949.3 841.3L949.7 843.8L950.2 841.3L950.6 844.5L951.1 841.6L951.5 841.1L952.0 845.4L952.4 841.7L952.9 843.6L953.3 841.3L953.8 845.3L954.2 841.1L954.7 844.0L955.1 844.7L955.6 842.3L956.0 841.0L956.5 841.2L956.9 841.3L957.4 844.3L957.8 843.3L958.3 845.0L958.7 843.8L959.2 843.6L959.6 841.9L960.1 842.0L960.5 845.3L961.0 845.2L961.4 843.0L961.9 844.5L962.3 844.2L962.8 842.3L963.2 841.9L963.7 844.3L964.1 845.3L964.6 845.4L965.0 842.6L965.5 841.3L965.9 842.4L966.4 841.4L966.8 845.4L967.3 842.4L967.7 844.8L968.2 842.1L968.6 845.3L969.1 843.2L969.5 844.7L970.0 843.7L970.4 844.4L970.9 841.4L971.3 841.4L971.8 842.6L972.2 844.9L972.7 845.1L973.1 844.2L973.6 843.7L974.0 841.3L974.5 845.2L974.9 844.0L975.4 843.8L975.8 844.8L976.3 842.1L976.7 843.8L977.2 844.1L977.6 844.4L978.1 841.5L978.5 844.3L979.0 845.1L979.4 843.9L979.9 841.8L980.3 845.1L980.8 841.5L981.2 842.1L981.7 844.9L982.1 843.7L982.6 842.6L983.0 844.6L983.5 843.9L983.9 841.6L984.4 842.1L984.8 844.7L985.3 844.7L985.7 841.4L986.2 843.4L986.6 844.2L987.1 842.5L987.5 841.4L988.0 842.9L988.4 845.2L988.9 844.3L989.3 842.1L989.8 844.8L990.2 844.1L990.7 842.4L991.1 842.3L991.6 841.9L992.0 842.9L992.5 842.7L992.9 842.4L993.4 845.0L993.8 844.5L994.3 843.3L994.7 845.4L995.2 844.1L995.6 845.3L996.1 844.8L996.5 843.9L997.0 844.2L997.4 844.6L997.9 844.5L998.3 845.0L998.8 842.6L999.2 842.7L999.7 842.2L1000.1 845.2L1000.6 845.1L1001.0 843.1L1001.5 842.9L1001.9 841.7L1002.4 845.5L1002.8 844.1L1003.3 845.4L1003.7 843.9L1004.2 843.4L1004.6 844.5L1005.1 845.1L1005.5 844.9L1006.0 842.7L1006.4 843.4L1006.9 845.3L1007.3 843.4L1007.8 844.7L1008.2 843.5L1008.7 844.8L1009.1 841.5L1009.6 841.2L1010.0 841.6L1010.5 843.1L1010.9 842.8L1011.4 845.4L1011.8 845.6L1012.3 841.8L1012.7 844.9L1013.2 843.4L1013.6 844.9L1014.1 842.8L1014.5 844.6L1015.0 841.2L1015.4 843.3L1015.9 842.7L1016.3 842.3L1016.8 842.5L1017.2 843.0L1017.7 843.4L1018.1 843.5L1018.6 844.4L1019.0 844.8L1019.5 845.4L1019.9 844.2L1020.4 842.3L1020.8 843.8L1021.3 843.1L1021.7 842.2L1022.2 842.7L1022.6 842.2L1023.1 843.6L1023.5 841.5L1024.0 843.6L1024.4 843.0L1024.9 841.2L1025.3 842.4L1025.8 845.5L1026.2 843.8L1026.7 841.5L1027.1 843.8L1027.6 844.3L1028.0 841.8L1028.5 843.0L1028.9 842.2L1029.4 843.6L1029.8 844.9L1030.3 842.3L1030.7 841.8L1031.2 841.8L1031.6 843.9L1032.1 841.5L1032.5 843.6L1033.0 844.8L1033.4 844.6L1033.9 844.2L1034.3 841.3L1034.8 843.1L1035.2 842.3L1035.7 843.5L1036.1 841.9L1036.6 841.8L1037.0 845.4L1037.5 845.1L1037.9 841.7L1038.4 844.9L1038.8 841.5L1039.3 842.7L1039.7 845.6L1040.2 845.4L1040.6 843.3L1041.1 844.3L1041.5 842.9L1042.0 845.0L1042.4 842.6L1042.9 842.2L1043.3 841.9L1043.8 844.0L1044.2 843.7L1044.7 845.2L1045.1 841.9L1045.6 844.8L1046.0 845.4L1046.5 844.6L1046.9 841.8L1047.4 841.9L1047.8 841.7L1048.3 842.7L1048.7 844.6L1049.2 841.9L1049.6 843.2L1050.1 841.5L1050.5 844.3L1051.0 841.7L1051.4 844.8L1051.9 844.0L1052.3 842.1L1052.8 844.3L1053.2 842.8L1053.7 843.6L1054.1 843.7L1054.6 842.5L1055.0 843.1L1055.5 844.7L1055.9 845.1L1056.4 845.0L1056.8 843.8L1057.3 845.1L1057.7 841.9L1058.2 845.6L1058.6 841.5L1059.1 845.2L1059.5 844.8L1060.0 843.0L1060.4 844.8L1060.9 845.5L1061.3 842.0L1061.8 844.1L1062.2 841.3L1062.7 844.2L1063.1 841.6L1063.6 844.2L1064.0 841.4L1064.5 843.1L1064.9 845.1L1065.4 842.6L1065.8 845.6L1066.3 843.4L1066.7 842.1L1067.2 845.4L1067.6 842.0L1068.1 843.9L1068.5 845.4L1069.0 845.4L1069.4 843.7L1069.9 842.2L1070.3 843.5L1070.8 842.6L1071.2 842.7L1071.7 842.7L1072.1 842.2L1072.6 841.5L1073.0 844.6L1073.5 841.4L1073.9 843.8L1074.4 842.9L1074.8 844.2L1075.3 843.9L1075.7 843.4L1076.2 844.7L1076.6 843.8L1077.1 845.3L1077.5 843.9L1078.0 845.2L1078.4 845.1L1078.9 844.4L1079.3 842.7L1079.8 843.4L1080.2 841.6L1080.7 844.5L1081.1 844.1L1081.6 844.9L1082.0 841.7L1082.5 841.9L1082.9 844.1L1083.4 844.5L1083.8 841.6L1084.3 841.4L1084.7 842.7L1085.2 842.8L1085.6 841.5L1086.1 841.7L1086.5 842.1L1087.0 841.3L1087.4 841.8L1087.9 841.2L1088.3 842.7L1088.8 844.3L1089.2 843.9L1089.7 843.5L1090.1 842.9L1090.6 841.5L1091.0 840.8L1091.5 841.3L1091.9 844.6L1092.4 843.9L1092.8 842.7L1093.3 842.8L1093.7 843.2L1094.2 843.4L1094.6 840.8L1095.1 843.1L1095.5 842.3L1096.0 840.5L1096.4 840.4L1096.9 839.7L1097.3 841.2L1097.8 842.9L1098.2 842.0L1098.7 839.1L1099.1 838.7L1099.6 839.2L1100.0 838.5L1100.5 838.3L1100.9 840.7L1101.4 838.7L1101.8 839.6L1102.3 838.3L1102.7 841.1L1103.2 839.2L1103.6 837.0L1104.1 839.6L1104.5 837.3L1105.0 837.8L1105.4 836.9L1105.9 837.5L1106.3 836.5L1106.8 836.3L1107.2 835.3L1107.7 838.5L1108.1 834.9L1108.6 834.9L1109.0 835.1L1109.5 833.4L1109.9 833.6L1110.4 834.0L1110.8 834.4L1111.3 833.8L1111.7 832.7L1112.2 833.7L1112.6 833.6L1113.1 831.1L1113.5 830.6L1114.0 832.0L1114.4 830.7L1114.9 832.2L1115.3 828.3L1115.8 830.3L1116.2 829.2L1116.7 828.3L1117.1 830.9L1117.6 827.7L1118.0 830.0L1118.5 830.0L1118.9 830.2L1119.4 826.2L1119.8 826.1L1120.3 825.5L1120.7 826.3L1121.2 828.6L1121.6 827.2L1122.1 824.8L1122.5 824.3L1123.0 826.9L1123.4 826.1L1123.9 823.1L1124.3 825.5L1124.8 823.5L1125.2 823.7L1125.7 822.6L1126.1 826.3L1126.6 823.7L1127.0 824.1L1127.5 822.0L1127.9 822.5L1128.4 823.7L1128.8 824.2L1129.3 825.2L1129.7 822.6L1130.2 822.8L1130.6 823.8L1131.1 823.6L1131.5 826.1L1132.0 824.3L1132.4 824.6L1132.9 825.4L1133.3 825.9L1133.8 825.2L1134.2 823.9L1134.7 827.4L1135.1 824.9L1135.6 828.4L1136.0 826.0L1136.5 826.2L1136.9 827.7L1137.4 829.6L1137.8 827.6L1138.3 828.3L1138.7 828.2L1139.2 827.2L1139.6 828.2L1140.1 831.3L1140.5 831.7L1141.0 828.9L1141.4 832.1L1141.9 828.5L1142.3 831.9L1142.8 829.2L1143.2 831.3L1143.7 831.6L1144.1 832.1L1144.6 834.7L1145.0 832.5L1145.5 831.4L1145.9 832.2L1146.4 835.4L1146.8 833.0L1147.3 833.1L1147.7 834.1L1148.2 837.9L1148.6 835.9L1149.1 834.9L1149.5 837.4L1150.0 836.5L1150.4 837.5L1150.9 839.7L1151.3 838.6L1151.8 838.1L1152.2 840.3L1152.7 838.3L1153.1 838.2L1153.6 840.1L1154.0 840.7L1154.5 839.8L1154.9 838.4L1155.4 838.7L1155.8 837.2L1156.3 838.3L1156.7 840.8L1157.2 839.7L1157.6 841.5L1158.1 840.8L1158.5 840.5L1159.0 841.6L1159.4 840.4L1159.9 841.3L1160.3 840.6L1160.8 840.2L1161.2 842.1L1161.7 839.2L1162.1 843.3L1162.6 843.3L1163.0 842.8L1163.5 841.4L1163.9 841.4L1164.4 841.3L1164.8 841.6L1165.3 840.7L1165.7 843.3L1166.2 843.7L1166.6 842.2L1167.1 843.8L1167.5 841.4L1168.0 844.0L1168.4 844.5L1168.9 843.3L1169.3 844.6L1169.8 843.6L1170.2 843.5L1170.7 842.6L1171.1 840.8L1171.6 841.2L1172.0 844.3L1172.5 841.5L1172.9 843.7L1173.4 841.5L1173.8 844.1L1174.3 845.0L1174.7 843.5L1175.2 841.0L1175.6 844.1L1176.1 842.9L1176.5 844.6L1177.0 841.5L1177.4 842.1L1177.9 844.9L1178.3 844.5L1178.8 844.8L1179.2 843.1L1179.7 843.8L1180.1 845.0L1180.6 843.8L1181.0 841.3L1181.5 841.6L1181.9 840.9L1182.4 841.4L1182.8 841.0L1183.3 842.6L1183.7 843.6L1184.2 844.7L1184.6 842.7L1185.1 841.6L1185.5 844.9L1186.0 845.0L1186.4 845.2L1186.9 841.0L1187.3 843.5L1187.8 843.7L1188.2 843.3L1188.7 841.8L1189.1 845.0L1189.6 843.3L1190.0 841.1L1190.5 842.5L1190.9 844.2L1191.4 841.9L1191.8 844.4L1192.3 841.9L1192.7 842.9L1193.2 842.3L1193.6 841.6L1194.1 844.9L1194.5 842.5L1195.0 844.3L1195.4 844.9L1195.9 842.3L1196.3 841.1L1196.8 843.3L1197.2 842.1L1197.7 844.9L1198.1 841.8L1198.6 844.2L1199.0 841.2L1199.5 842.3L1199.9 841.9L1200.4 844.8L1200.8 843.7L1201.3 844.0L1201.7 841.4L1202.2 842.4L1202.6 845.0L1203.1 843.8L1203.5 844.4L1204.0 843.3L1204.4 842.0L1204.9 845.1L1205.3 842.3L1205.8 841.9L1206.2 844.0L1206.7 841.5L1207.1 844.5L1207.6 844.3L1208.0 842.8L1208.5 843.4L1208.9 843.3L1209.4 841.5L1209.8 841.5L1210.3 842.7L1210.7 841.2L1211.2 842.0L1211.6 842.8L1212.1 843.9L1212.5 843.4L1213.0 841.9L1213.4 844.5L1213.9 844.7L1214.3 844.1L1214.8 844.2L1215.2 842.3L1215.7 844.9L1216.1 843.8L1216.6 842.0L1217.0 844.2L1217.5 844.0L1217.9 843.7L1218.4 843.3L1218.8 844.6L1219.3 844.4L1219.7 843.8L1220.2 841.5L1220.6 842.3L1221.1 845.6L1221.5 843.0L1222.0 844.0L1222.4 841.8L1222.9 843.8L1223.3 843.9L1223.8 844.6L1224.2 845.5L1224.7 843.3L1225.1 842.7L1225.6 842.0L1226.0 842.8L1226.5 843.2L1226.9 845.5L1227.4 843.6L1227.8 844.3L1228.3 844.5L1228.7 841.4L1229.2 842.3L1229.6 843.7L1230.1 841.6L1230.5 842.0L1231.0 844.6L1231.4 844.3L1231.9 841.9L1232.3 841.9L1232.8 845.1L1233.2 843.4L1233.7 842.7L1234.1 844.5L1234.6 844.3L1235.0 845.7L1235.5 841.8L1235.9 844.7L1236.4 843.4L1236.8 842.5L1237.3 843.6L1237.7 841.5L1238.2 841.9L1238.6 841.9L1239.1 844.4L1239.5 844.5L1240.0 842.5L1240.4 842.7L1240.9 844.8L1241.3 843.1L1241.8 842.9L1242.2 845.6L1242.7 843.8L1243.1 843.8L1243.6 844.1L1244.0 841.6L1244.5 843.2L1244.9 844.9L1245.4 844.3L1245.8 845.3L1246.3 842.8L1246.7 843.5L1247.2 842.5L1247.6 842.3L1248.1 841.8L1248.5 842.3L1249.0 842.2L1249.4 843.4L1249.9 843.3L1250.3 844.8L1250.8 844.9L1251.2 843.8L1251.7 844.4L1252.1 843.5L1252.6 842.8L1253.0 843.7L1253.5 844.2L1253.9 845.7L1254.4 845.1L1254.8 841.8L1255.3 844.3L1255.7 841.9L1256.2 844.2L1256.6 845.2L1257.1 844.6L1257.5 842.0L1258.0 843.4L1258.4 842.4L1258.9 844.4L1259.3 844.6L1259.8 844.7L1260.2 843.1L1260.7 844.1L1261.1 842.4L1261.6 845.6L1262.0 845.6L1262.5 841.7L1262.9 844.0L1263.4 844.7L1263.8 842.5L1264.3 841.7L1264.7 841.5L1265.2 844.6L1265.6 841.6L1266.1 843.2L1266.5 845.1L1267.0 841.8L1267.4 844.7L1267.9 843.4L1268.3 843.3L1268.8 843.7L1269.2 843.1L1269.7 845.3L1270.1 844.5L1270.6 843.3L1271.0 842.1L1271.5 843.8L1271.9 846.0L1272.4 845.5L1272.8 841.9L1273.3 843.1L1273.7 843.6L1274.2 843.4L1274.6 842.1L1275.1 842.4L1275.5 843.9L1276.0 844.8L1276.4 844.7L1276.9 844.5L1277.3 844.6L1277.8 841.6L1278.2 842.6L1278.7 843.1L1279.1 842.7L1279.6 843.3L1280.0 843.4L1280.5 843.1L1280.9 841.7L1281.4 845.4L1281.8 845.8L1282.3 844.3L1282.7 842.8L1283.2 843.6L1283.6 845.6L1284.1 844.3L1284.5 844.7L1285.0 844.7L1285.4 845.9L1285.9 844.5L1286.3 842.1L1286.8 843.9L1287.2 845.7L1287.7 842.2L1288.1 841.9L1288.6 841.9L1289.0 841.9L1289.5 842.4L1289.9 845.0L1290.4 844.3L1290.8 844.9L1291.3 844.1L1291.7 843.2L1292.2 845.1L1292.6 842.4L1293.1 843.2L1293.5 843.5L1294.0 844.6L1294.4 845.0L1294.9 844.2L1295.3 844.3L1295.8 842.9L1296.2 844.3L1296.7 845.4L1297.1 843.6L1297.6 845.0L1298.0 843.9L1298.5 843.9L1298.9 844.3L1299.4 842.3L1299.8 842.6L1300.3 842.4L1300.7 844.0L1301.2 844.6L1301.6 844.8L1302.1 842.6L1302.5 843.1L1303.0 842.3L1303.4 844.6L1303.9 843.5L1304.3 842.9L1304.8 842.7L1305.2 845.9L1305.7 843.8L1306.1 846.1L1306.6 843.1L1307.0 842.6L1307.5 844.8L1307.9 845.7L1308.4 842.4L1308.8 845.5L1309.3 844.3L1309.7 845.7L1310.2 845.9L1310.6 843.6L1311.1 845.8L1311.5 842.5L1312.0 843.7L1312.4 843.7L1312.9 842.8L1313.3 843.8L1313.8 845.0L1314.2 842.2L1314.7 843.8L1315.1 844.0L1315.6 842.6L1316.0 844.5L1316.5 842.8L1316.9 844.2L1317.4 844.2L1317.8 845.0L1318.3 845.8L1318.7 845.8L1319.2 843.9L1319.6 842.9L1320.1 842.8L1320.5 845.2L1321.0 845.1L1321.4 845.2L1321.9 845.4L1322.3 844.2L1322.8 845.7L1323.2 844.6L1323.7 844.5L1324.1 845.4L1324.6 844.6L1325.0 845.1L1325.5 845.8L1325.9 843.5L1326.4 845.0L1326.8 843.1L1327.3 843.9L1327.7 845.6L1328.2 846.0L1328.6 845.9L1329.1 845.1L1329.5 845.5L1330.0 845.6L1330.4 844.4L1330.9 842.8L1331.3 841.8L1331.8 845.1L1332.2 845.1L1332.7 845.0L1333.1 844.3L1333.6 844.6L1334.0 844.9L1334.5 844.1L1334.9 844.7L1335.4 842.7L1335.8 844.1L1336.3 844.5L1336.7 844.3L1337.2 842.9L1337.6 842.3L1338.1 844.6L1338.5 842.3L1339.0 845.3L1339.4 842.6L1339.9 845.2L1340.3 843.3L1340.8 845.7L1341.2 842.8L1341.7 842.5L1342.1 844.7L1342.6 845.2L1343.0 843.3L1343.5 843.8L1343.9 844.7L1344.4 843.1L1344.8 843.5L1345.3 844.3L1345.7 843.1L1346.2 842.4L1346.6 845.8L1347.1 842.3L1347.5 846.1L1348.0 845.5L1348.4 843.7L1348.9 845.6L1349.3 842.1L1349.8 844.3L1350.2 843.3L1350.7 843.1L1351.1 845.7L1351.6 841.9L1352.0 845.6L1352.5 842.1L1352.9 844.8L1353.4 843.0L1353.8 844.1L1354.3 845.9L1354.7 845.3L1355.2 842.2L1355.6 843.1L1356.1 843.9L1356.5 844.9L1357.0 841.8L1357.4 845.6L1357.9 845.5L1358.3 846.0L1358.8 842.7L1359.2 842.7L1359.7 845.4L1360.1 844.1L1360.6 842.9L1361.0 841.9L1361.5 842.7L1361.9 844.8L1362.4 845.0L1362.8 843.3L1363.3 845.8L1363.7 844.0L1364.2 844.1L1364.6 843.5L1365.1 843.6L1365.5 843.4L1366.0 845.4L1366.4 843.7L1366.9 842.8L1367.3 843.7L1367.8 845.9L1368.2 844.6L1368.7 842.3L1369.1 843.6L1369.6 843.8L1370.0 841.9L1370.5 846.0L1370.9 845.8L1371.4 842.2L1371.8 844.2L1372.3 843.2L1372.7 842.7L1373.2 843.0L1373.6 842.0L1374.1 844.8L1374.5 843.4L1375.0 844.9L1375.4 845.4L1375.9 844.3L1376.3 843.3L1376.8 842.4L1377.2 844.7L1377.7 844.8L1378.1 845.2L1378.6 842.4L1379.0 842.0L1379.5 845.7L1379.9 844.5L1380.4 842.2L1380.8 844.9L1381.3 842.0L1381.7 844.6L1382.2 844.2L1382.6 844.9L1383.1 842.2L1383.5 845.8L1384.0 845.9L1384.4 846.1L1384.9 845.2L1385.3 843.2L1385.8 846.1L1386.2 844.5L1386.7 845.0L1387.1 844.7L1387.6 842.7L1388.0 845.6L1388.5 844.6L1388.9 842.8L1389.4 843.5L1389.8 842.4L1390.3 843.7L1390.7 846.2L1391.2 843.5L1391.6 843.5L1392.1 845.3L1392.5 842.2L1393.0 842.3L1393.4 845.1L1393.9 842.4L1394.3 844.5L1394.8 845.4L1395.2 844.3L1395.7 842.2L1396.1 842.7L1396.6 844.2L1397.0 846.0L1397.5 844.7L1397.9 844.9L1398.4 844.4L1398.8 843.2L1399.3 844.5L1399.7 841.8L1400.2 843.6L1400.6 845.4L1401.1 842.7L1401.5 844.7L1402.0 845.0L1402.4 842.5L1402.9 845.6L1403.3 842.9L1403.8 846.0L1404.2 843.3L1404.7 844.5L1405.1 846.0L1405.6 845.4L1406.0 843.9L1406.5 842.6L1406.9 844.5L1407.4 844.4L1407.8 842.0L1408.3 843.4L1408.7 845.8L1409.2 844.1L1409.6 842.5L1410.1 844.6L1410.5 843.7L1411.0 845.8L1411.4 843.9L1411.9 841.8L1412.3 842.4L1412.8 842.5L1413.2 845.9L1413.7 843.3L1414.1 843.2L1414.6 846.0L1415.0 842.6L1415.5 844.4L1415.9 845.8L1416.4 845.7L1416.8 842.4L1417.3 843.7L1417.7 842.7L1418.2 844.7L1418.6 842.7L1419.1 842.4L1419.5 842.8L1420.0 842.2L1420.4 844.7L1420.9 842.8L1421.3 843.3L1421.8 842.8L1422.2 843.2L1422.7 842.9L1423.1 843.1L1423.6 844.6L1424.0 842.3L1424.5 844.5L1424.9 843.0L1425.4 841.9L1425.8 842.0L1426.3 845.4L1426.7 841.6L1427.2 842.7L1427.6 845.2L1428.1 841.8L1428.5 842.3L1429.0 842.6L1429.4 845.1L1429.9 841.9L1430.3 845.5L1430.8 841.9L1431.2 843.8L1431.7 844.7L1432.1 843.8L1432.6 843.5L1433.0 843.2L1433.5 842.4L1433.9 845.6L1434.4 843.0L1434.8 844.0L1435.3 843.8L1435.7 845.4L1436.2 842.3L1436.6 841.9L1437.1 845.1L1437.5 843.4L1438.0 844.0L1438.4 843.9L1438.9 844.5L1439.3 844.8L1439.8 844.2L1440.2 841.1L1440.7 844.7L1441.1 841.2L1441.6 844.8L1442.0 841.0L1442.5 844.4L1442.9 843.8L1443.4 841.1L1443.8 844.2L1444.3 843.5L1444.7 841.4L1445.2 844.7L1445.6 843.5L1446.1 842.9L1446.5 845.0L1447.0 841.7L1447.4 841.6L1447.9 844.7L1448.3 841.5L1448.8 844.3L1449.2 841.7L1449.7 844.3L1450.1 842.5L1450.6 843.4L1451.0 843.3L1451.5 842.4L1451.9 842.9L1452.4 843.5L1452.8 841.2L1453.3 844.6L1453.7 844.2L1454.2 841.5L1454.6 841.5L1455.1 842.2L1455.5 843.9L1456.0 842.7L1456.4 841.8L1456.9 843.8L1457.3 841.3L1457.8 843.5L1458.2 843.7L1458.7 840.8L1459.1 842.8L1459.6 842.9L1460.0 844.6L1460.5 841.6L1460.9 842.3L1461.4 844.4L1461.8 840.8L1462.3 844.1L1462.7 841.8L1463.2 841.7L1463.6 844.5L1464.1 841.8L1464.5 841.2L1465.0 841.0L1465.4 843.1L1465.9 842.8L1466.3 841.0L1466.8 842.1L1467.2 841.2L1467.7 843.6L1468.1 841.4L1468.6 842.5L1469.0 843.8L1469.5 840.8L1469.9 843.9L1470.4 841.8L1470.8 842.5L1471.3 840.8L1471.7 842.6L1472.2 842.7L1472.6 842.1L1473.1 843.3L1473.5 841.5L1474.0 839.5L1474.4 843.4L1474.9 841.8L1475.3 842.0L1475.8 841.9L1476.2 839.4L1476.7 840.4L1477.1 839.5L1477.6 841.9L1478.0 842.8L1478.5 841.9L1478.9 842.5L1479.4 840.3L1479.8 839.0L1480.3 840.6L1480.7 839.5L1481.2 840.0L1481.6 839.7L1482.1 839.4L1482.5 841.5L1483.0 841.1L1483.4 842.0L1483.9 842.7L1484.3 839.3L1484.8 842.4L1485.2 841.6L1485.7 840.6L1486.1 842.3L1486.6 840.3L1487.0 838.1L1487.5 838.4L1487.9 839.2L1488.4 840.8L1488.8 840.2L1489.3 840.6L1489.7 837.6L1490.2 838.6L1490.6 839.9L1491.1 840.2L1491.5 839.2L1492.0 838.2L1492.4 838.5L1492.9 840.4L1493.3 840.1L1493.8 838.0L1494.2 841.0L1494.7 836.9L1495.1 837.7L1495.6 838.5L1496.0 840.0L1496.5 838.8L1496.9 839.2L1497.4 840.3L1497.8 837.6L1498.3 836.7L1498.7 837.5L1499.2 838.1L1499.6 836.0L1500.1 835.5L1500.5 838.3L1501.0 839.3L1501.4 838.9L1501.9 836.3L1502.3 836.5L1502.8 838.0L1503.2 838.5L1503.7 835.6L1504.1 838.0L1504.6 836.7L1505.0 834.1L1505.5 835.2L1505.9 833.0L1506.4 834.6L1506.8 834.9L1507.3 835.9L1507.7 833.7L1508.2 834.8L1508.6 834.7L1509.1 833.9L1509.5 834.0L1510.0 833.1L1510.4 833.6L1510.9 832.6L1511.3 834.4L1511.8 830.6L1512.2 833.6L1512.7 832.8L1513.1 829.3L1513.6 832.1L1514.0 830.2L1514.5 830.5L1514.9 830.2L1515.4 830.8L1515.8 829.3L1516.3 829.6L1516.7 827.4L1517.2 826.3L1517.6 828.6L1518.1 829.6L1518.5 825.1L1519.0 828.4L1519.4 825.6L1519.9 826.3L1520.3 824.2L1520.8 825.6L1521.2 824.0L1521.7 825.1L1522.1 822.3L1522.6 822.1L1523.0 822.8L1523.5 820.0L1523.9 823.3L1524.4 821.2L1524.8 822.3L1525.3 818.2L1525.7 820.0L1526.2 817.2L1526.6 816.0L1527.1 817.0L1527.5 816.5L1528.0 816.2L1528.4 815.1L1528.9 813.2L1529.3 814.6L1529.8 812.0L1530.2 811.3L1530.7 812.7L1531.1 811.4L1531.6 810.7L1532.0 810.6L1532.5 809.4L1532.9 805.6L1533.4 808.0L1533.8 804.9L1534.3 804.0L1534.7 801.7L1535.2 800.9L1535.6 800.2L1536.1 796.4L1536.5 797.8L1537.0 794.5L1537.4 794.2L1537.9 792.7L1538.3 790.4L1538.8 786.3L1539.2 786.8L1539.7 784.2L1540.1 784.1L1540.6 782.4L1541.0 779.7L1541.5 779.0L1541.9 774.7L1542.4 775.9L1542.8 774.9L1543.3 772.9L1543.7 770.8L1544.2 767.4L1544.6 768.1L1545.1 764.9L1545.5 761.9L1546.0 761.9L1546.4 761.8L1546.9 759.6L1547.3 758.8L1547.8 753.9L1548.2 756.7L1548.7 755.1L1549.1 751.9L1549.6 752.4L1550.0 747.9L1550.5 747.2L1550.9 744.8L1551.4 745.8L1551.8 746.7L1552.3 747.7L1552.7 745.4L1553.2 750.0L1553.6 750.3L1554.1 750.1L1554.5 754.4L1555.0 754.1L1555.4 753.3L1555.9 756.1L1556.3 758.9L1556.8 761.0L1557.2 759.6L1557.7 762.7L1558.1 762.0L1558.6 767.2L1559.0 764.8L1559.5 770.6L1559.9 770.5L1560.4 773.0L1560.8 774.4L1561.3 775.4L1561.7 776.9L1562.2 777.7L1562.6 779.8L1563.1 780.7L1563.5 783.2L1564.0 786.6L1564.4 787.9L1564.9 789.7L1565.3 791.2L1565.8 794.8L1566.2 796.1L1566.7 795.3L1567.1 798.2L1567.6 801.7L1568.0 800.2L1568.5 803.6L1568.9 804.7L1569.4 806.2L1569.8 807.1L1570.3 809.3L1570.7 809.1L1571.2 812.9L1571.6 812.5L1572.1 812.8L1572.5 815.3L1573.0 816.6L1573.4 818.7L1573.9 818.5L1574.3 818.9L1574.8 819.0L1575.2 820.1L1575.7 820.2L1576.1 822.4L1576.6 824.2L1577.0 823.7L1577.5 822.6L1577.9 822.5L1578.4 826.9L1578.8 824.9L1579.3 827.3L1579.7 829.0L1580.2 829.5L1580.6 828.4L1581.1 830.5L1581.5 828.7L1582.0 831.6L1582.4 830.9L1582.9 828.7L1583.3 832.3L1583.8 829.9L1584.2 833.9L1584.7 830.1L1585.1 833.5L1585.6 831.2L1586.0 833.1L1586.5 832.6L1586.9 835.1L1587.4 832.6L1587.8 834.8L1588.3 836.0L1588.7 832.3L1589.2 835.4L1589.6 832.8L1590.1 836.1L1590.5 836.6L1591.0 833.6L1591.4 837.1L1591.9 835.3L1592.3 834.9L1592.8 838.0L1593.2 835.6L1593.7 835.0L1594.1 835.7L1594.6 838.3L1595.0 838.8L1595.5 836.7L1595.9 837.0L1596.4 837.6L1596.8 838.8L1597.3 835.3L1597.7 838.9L1598.2 839.8L1598.6 837.4L1599.1 837.6L1599.5 840.1L1600.0 837.7L1600.4 837.7L1600.9 840.0L1601.3 838.4L1601.8 839.2L1602.2 837.7L1602.7 839.6L1603.1 838.3L1603.6 840.2L1604.0 839.0L1604.5 841.0L1604.9 839.4L1605.4 840.9L1605.8 839.1L1606.3 840.2L1606.7 838.5L1607.2 840.0L1607.6 840.4L1608.1 838.4L1608.5 840.0L1609.0 841.7L1609.4 838.6L1609.9 839.9L1610.3 841.5L1610.8 839.8L1611.2 838.1L1611.7 840.3L1612.1 840.1L1612.6 842.2L1613.0 841.1L1613.5 841.6L1613.9 839.9L1614.4 842.3L1614.8 842.0L1615.3 838.8L1615.7 841.4L1616.2 842.5L1616.6 841.5L1617.1 842.9L1617.5 839.8L1618.0 841.3L1618.4 841.1L1618.9 840.1L1619.3 842.3L1619.8 840.8L1620.2 841.8L1620.7 842.5L1621.1 842.3L1621.6 839.6L1622.0 839.4L1622.5 842.8L1622.9 842.1L1623.4 839.9L1623.8 839.9L1624.3 841.6L1624.7 840.2L1625.2 843.5L1625.6 840.5L1626.1 843.7L1626.5 842.7L1627.0 842.0L1627.4 842.6L1627.9 842.7L1628.3 841.0L1628.8 841.9L1629.2 840.1L1629.7 840.0L1630.1 844.0L1630.6 843.6L1631.0 843.2L1631.5 840.4L1631.9 842.7L1632.4 843.1L1632.8 841.9L1633.3 841.7L1633.7 843.2L1634.2 840.1L1634.6 842.2L1635.1 841.2L1635.5 842.1L1636.0 842.6L1636.4 842.0L1636.9 844.0L1637.3 844.1L1637.8 843.6L1638.2 843.7L1638.7 842.4L1639.1 841.4L1639.6 843.9L1640.0 840.8L1640.5 842.9L1640.9 843.1L1641.4 840.8L1641.8 841.2L1642.3 843.3L1642.7 844.1L1643.2 842.0L1643.6 842.6L1644.1 843.4L1644.5 842.8L1645.0 842.3L1645.4 843.0L1645.9 843.3L1646.3 843.7L1646.8 842.6L1647.2 843.0L1647.7 840.9L1648.1 840.7L1648.6 843.5L1649.0 840.9L1649.5 841.7L1649.9 843.6L1650.4 840.3L1650.8 842.6L1651.3 840.6L1651.7 842.2L1652.2 842.9L1652.6 842.9L1653.1 842.6L1653.5 841.3L1654.0 841.4L1654.4 839.6L1654.9 839.3L1655.3 841.9L1655.8 838.8L1656.2 842.5L1656.7 839.1L1657.1 841.3L1657.6 840.0L1658.0 840.6L1658.5 841.1L1658.9 839.0L1659.4 841.2L1659.8 840.7L1660.3 839.8L1660.7 839.6L1661.2 838.7L1661.6 841.1L1662.1 838.4L1662.5 837.6L1663.0 838.8L1663.4 840.3L1663.9 840.2L1664.3 838.5L1664.8 837.5L1665.2 838.9L1665.7 837.9L1666.1 838.9L1666.6 838.8L1667.0 838.1L1667.5 839.1L1667.9 837.5L1668.4 838.8L1668.8 837.1L1669.3 835.0L1669.7 836.6L1670.2 837.0L1670.6 835.2L1671.1 833.8L1671.5 834.3L1672.0 835.9L1672.4 833.0L1672.9 831.8L1673.3 835.3L1673.8 835.3L1674.2 834.5L1674.7 833.9L1675.1 833.2L1675.6 832.0L1676.0 832.1L1676.5 832.1L1676.9 829.9L1677.4 829.0L1677.8 830.8L1678.3 830.0L1678.7 831.4L1679.2 828.5L1679.6 828.2L1680.1 826.6L1680.5 825.8L1681.0 826.0L1681.4 827.7L1681.9 829.0L1682.3 825.0L1682.8 824.8L1683.2 826.8L1683.7 824.8L1684.1 823.4L1684.6 826.8L1685.0 823.2L1685.5 824.2L1685.9 825.3L1686.4 825.1L1686.8 825.6L1687.3 823.6L1687.7 821.4L1688.2 820.8L1688.6 823.0L1689.1 822.2L1689.5 820.6L1690.0 820.0L1690.4 820.5L1690.9 819.9L1691.3 819.9L1691.8 819.6L1692.2 821.1L1692.7 819.5L1693.1 820.9L1693.6 819.0L1694.0 817.9L1694.5 820.7L1694.9 819.8L1695.4 821.0L1695.8 818.6L1696.3 822.2L1696.7 821.0L1697.2 820.1L1697.6 819.9L1698.1 819.5L1698.5 819.5L1699.0 820.5L1699.4 821.3L1699.9 822.5L1700.3 822.3L1700.8 821.0L1701.2 821.7L1701.7 821.5L1702.1 821.9L1702.6 823.3L1703.0 825.1L1703.5 823.3L1703.9 826.8L1704.4 827.6L1704.8 826.3L1705.3 824.1L1705.7 825.0L1706.2 826.8L1706.6 829.0L1707.1 829.5L1707.5 828.8L1708.0 829.8L1708.4 826.6L1708.9 828.8L1709.3 829.1L1709.8 828.3L1710.2 830.3L1710.7 830.7L1711.1 832.9L1711.6 829.4L1712.0 830.9L1712.5 830.7L1712.9 831.4L1713.4 832.3L1713.8 833.0L1714.3 836.0L1714.7 833.7L1715.2 834.8L1715.6 833.9L1716.1 834.5L1716.5 834.9L1717.0 836.8L1717.4 836.0L1717.9 836.2L1718.3 837.6L1718.8 835.6L1719.2 839.6L1719.7 836.2L1720.1 838.0L1720.6 840.7L1721.0 837.2L1721.5 836.8L1721.9 838.9L1722.4 839.7L1722.8 838.8L1723.3 838.2L1723.7 840.4L1724.2 840.1L1724.6 839.2L1725.1 840.5L1725.5 841.7L1726.0 840.4L1726.4 839.9L1726.9 841.1L1727.3 840.7L1727.8 839.0L1728.2 842.7L1728.7 839.4L1729.1 842.2L1729.6 841.0L1730.0 842.6L1730.5 841.6L1730.9 843.0L1731.4 841.6L1731.8 840.7L1732.3 843.1L1732.7 843.4L1733.2 842.1L1733.6 844.1L1734.1 843.2L1734.5 844.2L1735.0 841.1L1735.4 844.4L1735.9 843.7L1736.3 844.6L1736.8 842.0L1737.2 843.0L1737.7 844.6L1738.1 843.6L1738.6 842.0L1739.0 842.1L1739.5 845.0L1739.9 843.8L1740.4 841.1L1740.8 842.1L1741.3 843.4L1741.7 841.9L1742.2 843.1L1742.6 844.0L1743.1 841.5L1743.5 842.2L1744.0 845.0L1744.4 841.3L1744.9 841.7L1745.3 844.8L1745.8 844.2L1746.2 843.3L1746.7 845.0L1747.1 842.2L1747.6 841.3L1748.0 844.9L1748.5 844.1L1748.9 842.8L1749.4 843.9L1749.8 841.7L1750.3 842.7L1750.7 843.9L1751.2 845.1L1751.6 842.8L1752.1 841.7L1752.5 841.8L1753.0 842.8L1753.4 844.2L1753.9 844.6L1754.3 844.5L1754.8 845.3L1755.2 844.5L1755.7 844.5L1756.1 844.1L1756.6 844.5L1757.0 844.8L1757.5 845.9L1757.9 842.4L1758.4 844.4L1758.8 842.1L1759.3 842.5L1759.7 845.7L1760.2 843.4L1760.6 844.1L1761.1 842.6L1761.5 843.9L1762.0 841.8L1762.4 844.2L1762.9 845.9L1763.3 844.7L1763.8 844.6L1764.2 844.1L1764.7 843.1L1765.1 845.1L1765.6 843.4L1766.0 843.2L1766.5 844.1L1766.9 846.0L1767.4 845.0L1767.8 844.7L1768.3 842.3L1768.7 845.3L1769.2 843.6L1769.6 844.5L1770.1 844.2L1770.5 845.2L1771.0 841.9L1771.4 842.2L1771.9 843.0L1772.3 842.7L1772.8 844.8L1773.2 842.3L1773.7 842.2L1774.1 844.1L1774.6 842.1L1775.0 845.3L1775.5 843.3L1775.9 843.1L1776.4 844.4L1776.8 846.1L1777.3 843.0L1777.7 842.8L1778.2 843.4L1778.6 845.2L1779.1 845.9L1779.5 842.5L1780.0 841.9L1780.4 843.1L1780.9 843.2L1781.3 845.1L1781.8 844.8L1782.2 845.1L1782.7 843.5L1783.1 843.7L1783.6 845.9L1784.0 842.0L1784.5 841.9L1784.9 841.9L1785.4 845.4L1785.8 844.1L1786.3 844.9L1786.7 844.7L1787.2 845.4L1787.6 844.1L1788.1 843.2L1788.5 842.3L1789.0 843.6L1789.4 842.7L1789.9 845.9L1790.3 845.2L1790.8 843.1L1791.2 844.1L1791.7 843.9L1792.1 844.5L1792.6 846.0L1793.0 843.0L1793.5 844.5L1793.9 844.0L1794.4 846.0L1794.8 842.8L1795.3 844.7L1795.7 842.2L1796.2 844.2L1796.6 846.0L1797.1 845.0L1797.5 841.9L1798.0 846.1L1798.4 844.2L1798.9 844.4L1799.3 846.0L1799.8 844.4L1800.2 842.8L1800.7 843.7L1801.1 845.1L1801.6 843.5L1802.0 842.5L1802.5 843.5L1802.9 842.3L1803.4 842.2L1803.8 842.3L1804.3 844.0L1804.7 843.2L1805.2 842.6L1805.6 845.1L1806.1 844.5L1806.5 845.4L1807.0 842.5L1807.4 844.5L1807.9 843.0L1808.3 844.0L1808.8 843.8L1809.2 844.4L1809.7 844.3L1810.1 845.8L1810.6 844.5L1811.0 843.3L1811.5 845.3L1811.9 842.5L1812.4 845.2L1812.8 844.3L1813.3 842.9L1813.7 845.1L1814.2 842.3L1814.6 842.0L1815.1 843.0L1815.5 844.0L1816.0 844.6L1816.4 843.2L1816.9 844.3L1817.3 846.1L1817.8 846.2L1818.2 845.0L1818.7 843.1"/>
<path stroke="#FF6991" d="M212.2 1052.7L212.6 1054.6L213.1 1055.2L213.5 1055.7L214.0 1052.7L214.4 1052.5L214.9 1052.6L215.3 1055.2L215.8 1056.2L216.2 1054.1L216.7 1053.6L217.1 1054.9L217.6 1053.6L218.0 1054.5L218.5 1052.5L218.9 1052.1L219.4 1053.9L219.8 1053.2L220.3 1052.7L220.7 1057.1L221.2 1055.7L221.6 1054.1L222.1 1057.4L222.5 1052.7L223.0 1054.1L223.4 1057.0L223.9 1057.4L224.3 1056.6L224.8 1053.4L225.2 1055.5L225.7 1052.9L226.1 1052.9L226.6 1057.1L227.0 1052.7L227.5 1053.2L227.9 1053.3L228.4 1056.5L228.8 1056.1L229.3 1053.9L229.7 1055.0L230.2 1057.8L230.6 1054.0L231.1 1053.3L231.5 1056.3L232.0 1053.5L232.4 1055.9L232.9 1054.3L233.3 1053.2L233.8 1056.4L234.2 1056.9L234.7 1054.7L235.1 1053.9L235.6 1058.1L236.0 1054.4L236.5 1054.4L236.9 1055.0L237.4 1054.4L237.8 1054.4L238.3 1057.8L238.7 1053.6L239.2 1057.4L239.6 1055.9L240.1 1053.4L240.5 1053.9L241.0 1056.5L241.4 1056.0L241.9 1054.4L242.3 1054.7L242.8 1057.8L243.2 1056.9L243.7 1056.5L244.1 1057.8L244.6 1054.4L245.0 1054.8L245.5 1057.3L245.9 1055.3L246.4 1055.3L246.8 1057.1L247.3 1058.0L247.7 1057.4L248.2 1056.7L248.6 1055.1L249.1 1056.3L249.5 1053.8L250.0 1053.9L250.4 1053.6L250.9 1055.8L251.3 1057.0L251.8 1055.9L252.2 1053.5L252.7 1055.2L253.1 1053.6L253.6 1055.8L254.0 1054.0L254.5 1052.7L254.9 1052.8L255.4 1051.6L255.8 1052.8L256.3 1052.6L256.7 1053.0L257.2 1053.7L257.6 1054.9L258.1 1054.1L258.5 1052.8L259.0 1051.6L259.4 1050.5L259.9 1052.3L260.3 1049.6L260.8 1049.4L261.2 1051.9L261.7 1049.5L262.1 1052.5L262.6 1051.4L263.0 1050.5L263.5 1052.2L263.9 1048.2L264.4 1048.8L264.8 1049.5L265.3 1051.4L265.7 1047.0L266.2 1049.2L266.6 1050.4L267.1 1046.6L267.5 1048.9L268.0 1048.6L268.4 1046.7L268.9 1047.2L269.3 1048.7L269.8 1046.2L270.2 1045.7L270.7 1045.8L271.1 1042.8L271.6 1045.9L272.0 1041.9L272.5 1045.6L272.9 1045.0L273.4 1043.7L273.8 1043.4L274.3 1041.4L274.7 1039.3L275.2 1040.0L275.6 1039.6L276.1 1036.4L276.5 1038.4L277.0 1035.5L277.4 1035.6L277.9 1033.6L278.3 1032.8L278.8 1034.5L279.2 1033.1L279.7 1028.9L280.1 1030.9L280.6 1030.3L281.0 1027.9L281.5 1026.4L281.9 1022.9L282.4 1023.1L282.8 1019.8L283.3 1020.4L283.7 1017.4L284.2 1013.6L284.6 1013.9L285.1 1011.2L285.5 1006.3L286.0 1004.0L286.4 1000.6L286.9 1001.5L287.3 995.4L287.8 992.8L288.2 991.2L288.7 985.6L289.1 981.5L289.6 976.3L290.0 971.8L290.5 969.3L290.9 962.3L291.4 960.6L291.8 950.7L292.3 945.9L292.7 938.9L293.2 935.1L293.6 927.1L294.1 916.6L294.5 908.0L295.0 899.4L295.4 892.9L295.9 883.1L296.3 872.1L296.8 860.4L297.2 848.7L297.7 837.1L298.1 822.2L298.6 811.9L299.0 798.1L299.5 783.6L299.9 767.3L300.4 752.6L300.8 741.5L301.3 727.0L301.7 712.4L302.2 699.4L302.6 686.0L303.1 676.8L303.5 666.9L304.0 658.1L304.4 654.1L304.9 648.4L305.3 648.6L305.8 652.0L306.2 653.5L306.7 658.5L307.1 665.6L307.6 675.4L308.0 682.2L308.5 695.0L308.9 705.9L309.4 717.5L309.8 729.7L310.3 745.5L310.7 757.0L311.2 772.2L311.6 784.8L312.1 797.7L312.5 812.4L313.0 821.3L313.4 835.2L313.9 845.9L314.3 855.7L314.8 867.1L315.2 879.0L315.7 885.6L316.1 896.5L316.6 903.2L317.0 912.2L317.5 919.9L317.9 925.1L318.4 934.9L318.8 939.4L319.3 944.8L319.7 950.4L320.2 959.0L320.6 963.9L321.1 966.7L321.5 970.5L322.0 976.5L322.4 977.9L322.9 985.1L323.3 985.2L323.8 988.8L324.2 993.2L324.7 996.8L325.1 998.0L325.6 1002.0L326.0 1007.2L326.5 1008.7L326.9 1008.0L327.4 1013.6L327.8 1014.2L328.3 1018.5L328.7 1017.9L329.2 1019.9L329.6 1023.5L330.1 1024.7L330.5 1025.7L331.0 1028.5L331.4 1030.7L331.9 1031.0L332.3 1034.6L332.8 1035.8L333.2 1037.1L333.7 1037.9L334.1 1037.3L334.6 1040.1L335.0 1038.8L335.5 1039.4L335.9 1041.5L336.4 1040.9L336.8 1041.4L337.3 1043.9L337.7 1046.1L338.2 1043.0L338.6 1045.2L339.1 1044.4L339.5 1046.7L340.0 1047.4L340.4 1047.6L340.9 1046.4L341.3 1049.5L341.8 1049.2L342.2 1050.0L342.7 1050.8L343.1 1052.2L343.6 1050.8L344.0 1053.1L344.5 1050.6L344.9 1052.0L345.4 1051.3L345.8 1052.5L346.3 1054.9L346.7 1055.5L347.2 1053.9L347.6 1053.4L348.1 1053.9L348.5 1056.5L349.0 1054.9L349.4 1054.2L349.9 1057.0L350.3 1056.0L350.8 1055.9L351.2 1058.0L351.7 1057.6L352.1 1054.9L352.6 1058.8L353.0 1057.0L353.5 1056.1L353.9 1059.2L354.4 1057.4L354.8 1058.6L355.3 1059.1L355.7 1057.1L356.2 1060.3L356.6 1058.8L357.1 1057.0L357.5 1059.1L358.0 1057.2L358.4 1061.1L358.9 1060.0L359.3 1059.1L359.8 1060.8L360.2 1061.0L360.7 1060.7L361.1 1059.1L361.6 1058.7L362.0 1061.7L362.5 1062.0L362.9 1060.0L363.4 1060.3L363.8 1060.5L364.3 1060.1L364.7 1062.8L365.2 1061.4L365.6 1062.2L366.1 1061.9L366.5 1060.0L367.0 1060.0L367.4 1060.4L367.9 1061.9L368.3 1062.5L368.8 1064.0L369.2 1063.7L369.7 1063.2L370.1 1062.0L370.6 1061.9L371.0 1063.3L371.5 1062.1L371.9 1063.8L372.4 1063.7L372.8 1061.5L373.3 1064.2L373.7 1061.6L374.2 1062.5L374.6 1065.1L375.1 1063.9L375.5 1064.8L376.0 1065.1L376.4 1062.7L376.9 1064.8L377.3 1063.3L377.8 1062.2L378.2 1062.4L378.7 1062.6L379.1 1064.6L379.6 1064.7L380.0 1065.5L380.5 1063.5L380.9 1065.3L381.4 1063.5L381.8 1063.8L382.3 1065.1L382.7 1064.2L383.2 1066.5L383.6 1064.1L384.1 1063.8L384.5 1066.3L385.0 1066.3L385.4 1063.7L385.9 1064.4L386.3 1065.1L386.8 1063.5L387.2 1064.7L387.7 1066.3L388.1 1066.3L388.6 1064.1L389.0 1064.7L389.5 1064.6L389.9 1066.2L390.4 1064.2L390.8 1067.5L391.3 1064.3L391.7 1065.9L392.2 1066.6L392.6 1067.5L393.1 1066.3L393.5 1067.3L394.0 1066.1L394.4 1065.0L394.9 1065.8L395.3 1066.5L395.8 1066.3L396.2 1067.3L396.7 1066.4L397.1 1065.9L397.6 1066.4L398.0 1066.5L398.5 1064.6L398.9 1065.8L399.4 1066.8L399.8 1067.3L400.3 1066.3L400.7 1067.5L401.2 1066.7L401.6 1066.2L402.1 1065.8L402.5 1067.9L403.0 1068.4L403.4 1067.7L403.9 1065.9L404.3 1067.7L404.8 1067.0L405.2 1068.6L405.7 1065.3L406.1 1068.1L406.6 1067.0L407.0 1068.5L407.5 1067.6L407.9 1065.5L408.4 1068.0L408.8 1067.5L409.3 1066.4L409.7 1066.0L410.2 1067.1L410.6 1067.7L411.1 1067.5L411.5 1065.8L412.0 1066.3L412.4 1068.3L412.9 1067.8L413.3 1068.6L413.8 1067.4L414.2 1066.9L414.7 1068.9L415.1 1066.8L415.6 1066.3L416.0 1067.4L416.5 1067.7L416.9 1066.9L417.4 1069.6L417.8 1067.0L418.3 1066.6L418.7 1068.6L419.2 1066.7L419.6 1067.2L420.1 1067.7L420.5 1067.2L421.0 1068.5L421.4 1066.7L421.9 1068.5L422.3 1066.6L422.8 1068.2L423.2 1069.6L423.7 1068.9L424.1 1069.5L424.6 1068.0L425.0 1066.6L425.5 1067.3L425.9 1068.7L426.4 1066.4L426.8 1068.2L427.3 1067.0L427.7 1069.0L428.2 1067.0L428.6 1066.8L429.1 1066.6L429.5 1067.5L430.0 1068.9L430.4 1067.4L430.9 1068.0L431.3 1067.2L431.8 1065.5L432.2 1067.3L432.7 1067.2L433.1 1067.1L433.6 1066.0L434.0 1065.8L434.5 1066.0L434.9 1064.8L435.4 1065.2L435.8 1065.6L436.3 1066.3L436.7 1067.6L437.2 1066.8L437.6 1066.0L438.1 1066.7L438.5 1065.6L439.0 1064.1L439.4 1066.3L439.9 1066.3L440.3 1066.0L440.8 1066.6L441.2 1066.2L441.7 1066.3L442.1 1063.4L442.6 1066.7L443.0 1065.2L443.5 1065.1L443.9 1065.0L444.4 1063.7L444.8 1063.7L445.3 1065.7L445.7 1064.6L446.2 1065.7L446.6 1062.9L447.1 1064.1L447.5 1064.0L448.0 1061.9L448.4 1063.8L448.9 1062.8L449.3 1062.8L449.8 1061.8L450.2 1063.0L450.7 1063.1L451.1 1063.7L451.6 1063.3L452.0 1063.6L452.5 1063.4L452.9 1062.2L453.4 1060.5L453.8 1061.2L454.3 1059.3L454.7 1060.8L455.2 1059.7L455.6 1060.2L456.1 1060.7L456.5 1058.1L457.0 1060.7L457.4 1057.5L457.9 1058.8L458.3 1057.6L458.8 1056.7L459.2 1058.0L459.7 1057.0L460.1 1056.1L460.6 1058.4L461.0 1056.1L461.5 1058.2L461.9 1056.7L462.4 1055.5L462.8 1054.2L463.3 1056.6L463.7 1053.6L464.2 1055.6L464.6 1054.3L465.1 1053.7L465.5 1052.0L466.0 1052.8L466.4 1050.9L466.9 1053.1L467.3 1052.4L467.8 1050.0L468.2 1050.8L468.7 1049.1L469.1 1050.4L469.6 1048.0L470.0 1047.4L470.5 1047.2L470.9 1048.9L471.4 1047.7L471.8 1045.6L472.3 1046.2L472.7 1044.0L473.2 1042.6L473.6 1044.2L474.1 1040.4L474.5 1042.1L475.0 1041.7L475.4 1037.7L475.9 1039.4L476.3 1038.0L476.8 1034.2L477.2 1034.2L477.7 1032.2L478.1 1031.1L478.6 1029.5L479.0 1027.8L479.5 1024.7L479.9 1023.8L480.4 1022.0L480.8 1021.4L481.3 1019.6L481.7 1017.8L482.2 1015.4L482.6 1014.2L483.1 1010.7L483.5 1007.2L484.0 1003.5L484.4 1003.1L484.9 999.7L485.3 995.5L485.8 994.1L486.2 993.3L486.7 990.1L487.1 987.3L487.6 987.4L488.0 984.5L488.5 981.7L488.9 980.6L489.4 982.3L489.8 978.1L490.3 979.2L490.7 975.4L491.2 975.6L491.6 973.9L492.1 972.9L492.5 970.7L493.0 970.2L493.4 970.2L493.9 969.1L494.3 968.7L494.8 972.6L495.2 974.6L495.7 974.7L496.1 975.8L496.6 976.1L497.0 977.8L497.5 980.3L497.9 981.0L498.4 985.5L498.8 986.1L499.3 986.7L499.7 989.4L500.2 989.9L500.6 994.5L501.1 995.2L501.5 998.2L502.0 998.8L502.4 1002.1L502.9 1005.3L503.3 1006.6L503.8 1007.8L504.2 1011.3L504.7 1014.7L505.1 1015.4L505.6 1019.3L506.0 1019.9L506.5 1023.1L506.9 1022.3L507.4 1026.4L507.8 1027.9L508.3 1029.3L508.7 1033.0L509.2 1032.0L509.6 1034.9L510.1 1035.8L510.5 1039.3L511.0 1039.8L511.4 1038.8L511.9 1039.5L512.3 1040.1L512.8 1041.5L513.2 1044.8L513.7 1045.4L514.1 1045.9L514.6 1045.2L515.0 1046.2L515.5 1047.1L515.9 1048.6L516.4 1046.4L516.8 1047.6L517.3 1049.6L517.7 1048.7L518.2 1052.0L518.6 1049.5L519.1 1053.3L519.5 1051.3L520.0 1051.8L520.4 1053.2L520.9 1054.5L521.3 1056.3L521.8 1055.2L522.2 1057.2L522.7 1057.7L523.1 1058.6L523.6 1057.1L524.0 1058.0L524.5 1057.0L524.9 1058.8L525.4 1059.2L525.8 1058.9L526.3 1061.8L526.7 1060.4L527.2 1060.4L527.6 1060.7L528.1 1060.9L528.5 1063.7L529.0 1063.3L529.4 1063.6L529.9 1063.6L530.3 1065.7L530.8 1064.0L531.2 1064.5L531.7 1065.5L532.1 1066.5L532.6 1066.5L533.0 1066.8L533.5 1064.6L533.9 1067.4L534.4 1067.2L534.8 1065.7L535.3 1067.5L535.7 1068.2L536.2 1067.7L536.6 1067.9L537.1 1068.4L537.5 1068.7L538.0 1068.5L538.4 1066.4L538.9 1067.0L539.3 1066.8L539.8 1068.1L540.2 1067.0L540.7 1068.7L541.1 1070.1L541.6 1070.5L542.0 1067.5L542.5 1069.8L542.9 1068.1L543.4 1070.6L543.8 1068.0L544.3 1068.3L544.7 1069.2L545.2 1068.3L545.6 1070.6L546.1 1069.2L546.5 1071.0L547.0 1071.9L547.4 1070.4L547.9 1070.5L548.3 1072.4L548.8 1070.2L549.2 1072.2L549.7 1071.7L550.1 1069.4L550.6 1070.5L551.0 1072.0L551.5 1069.8L551.9 1072.6L552.4 1072.9L552.8 1072.4L553.3 1072.7L553.7 1072.1L554.2 1072.8L554.6 1071.8L555.1 1071.6L555.5 1072.7L556.0 1071.9L556.4 1071.5L556.9 1071.4L557.3 1072.0L557.8 1071.9L558.2 1073.2L558.7 1073.3L559.1 1073.4L559.6 1073.6L560.0 1072.1L560.5 1072.2L560.9 1073.8L561.4 1071.6L561.8 1073.4L562.3 1072.9L562.7 1073.4L563.2 1073.5L563.6 1073.5L564.1 1072.1L564.5 1071.4L565.0 1074.5L565.4 1074.4L565.9 1073.1L566.3 1073.7L566.8 1071.8L567.2 1073.1L567.7 1073.6L568.1 1074.0L568.6 1072.4L569.0 1072.0L569.5 1074.9L569.9 1074.6L570.4 1072.4L570.8 1074.6L571.3 1074.6L571.7 1072.5L572.2 1074.6L572.6 1073.2L573.1 1073.1L573.5 1072.6L574.0 1074.0L574.4 1074.1L574.9 1073.8L575.3 1072.5L575.8 1074.8L576.2 1073.3L576.7 1073.1L577.1 1074.4L577.6 1072.9L578.0 1075.4L578.5 1074.5L578.9 1075.0L579.4 1073.6L579.8 1073.9L580.3 1073.4L580.7 1073.4L581.2 1074.0L581.6 1075.2L582.1 1074.3L582.5 1075.5L583.0 1073.1L583.4 1073.7L583.9 1072.9L584.3 1075.9L584.8 1073.1L585.2 1074.7L585.7 1075.2L586.1 1073.6L586.6 1076.2L587.0 1076.3L587.5 1073.9L587.9 1073.6L588.4 1075.3L588.8 1074.9L589.3 1075.2L589.7 1075.3L590.2 1076.4L590.6 1075.8L591.1 1074.4L591.5 1075.8L592.0 1074.9L592.4 1076.6L592.9 1075.0L593.3 1073.5L593.8 1076.5L594.2 1074.5L594.7 1076.3L595.1 1075.6L595.6 1076.1L596.0 1076.1L596.5 1076.7L596.9 1076.5L597.4 1075.9L597.8 1074.8L598.3 1075.4L598.7 1074.7L599.2 1075.0L599.6 1075.4L600.1 1075.3L600.5 1074.9L601.0 1074.9L601.4 1075.0L601.9 1074.6L602.3 1075.9L602.8 1074.3L603.2 1074.9L603.7 1074.6L604.1 1076.4L604.6 1075.0L605.0 1074.5L605.5 1076.9L605.9 1075.6L606.4 1076.8L606.8 1075.3L607.3 1075.4L607.7 1076.1L608.2 1074.5L608.6 1077.5L609.1 1074.7L609.5 1077.3L610.0 1076.5L610.4 1076.9L610.9 1075.1L611.3 1077.3L611.8 1076.1L612.2 1075.8L612.7 1075.0L613.1 1075.0L613.6 1077.3L614.0 1077.6L614.5 1075.8L614.9 1076.8L615.4 1076.8L615.8 1076.1L616.3 1076.1L616.7 1076.3L617.2 1075.7L617.6 1077.0L618.1 1075.9L618.5 1076.2L619.0 1075.2L619.4 1077.8L619.9 1074.9L620.3 1077.0L620.8 1076.8L621.2 1075.8L621.7 1077.9L622.1 1074.8L622.6 1075.6L623.0 1075.8L623.5 1076.8L623.9 1076.6L624.4 1077.1L624.8 1077.6L625.3 1074.8L625.7 1076.6L626.2 1076.1L626.6 1077.0L627.1 1076.5L627.5 1075.9L628.0 1074.8L628.4 1075.8L628.9 1076.3L629.3 1075.9L629.8 1076.1L630.2 1077.0L630.7 1076.0L631.1 1077.7L631.6 1076.1L632.0 1076.3L632.5 1076.3L632.9 1077.9L633.4 1076.9L633.8 1078.1L634.3 1075.0L634.7 1078.1L635.2 1075.6L635.6 1077.9L636.1 1075.1L636.5 1077.8L637.0 1077.1L637.4 1077.3L637.9 1076.3L638.3 1076.3L638.8 1075.6L639.2 1075.5L639.7 1077.1L640.1 1076.2L640.6 1075.2L641.0 1075.6L641.5 1075.6L641.9 1075.7L642.4 1076.6L642.8 1078.1L643.3 1077.0L643.7 1077.5L644.2 1075.5L644.6 1077.4L645.1 1078.0L645.5 1078.4L646.0 1077.5L646.4 1077.2L646.9 1078.3L647.3 1075.6L647.8 1077.8L648.2 1077.6L648.7 1077.6L649.1 1076.4L649.6 1075.5L650.0 1075.7L650.5 1077.4L650.9 1076.3L651.4 1078.3L651.8 1075.7L652.3 1077.9L652.7 1076.8L653.2 1076.2L653.6 1076.1L654.1 1076.4L654.5 1076.5L655.0 1076.0L655.4 1076.0L655.9 1078.5L656.3 1076.7L656.8 1077.3L657.2 1077.6L657.7 1076.4L658.1 1078.4L658.6 1076.3L659.0 1076.0L659.5 1075.5L659.9 1076.2L660.4 1075.5L660.8 1077.4L661.3 1077.2L661.7 1075.4L662.2 1078.4L662.6 1077.7L663.1 1077.1L663.5 1078.4L664.0 1077.1L664.4 1075.9L664.9 1077.9L665.3 1078.5L665.8 1075.6L666.2 1077.0L666.7 1076.1L667.1 1078.3L667.6 1075.7L668.0 1078.0L668.5 1076.0L668.9 1077.5L669.4 1077.6L669.8 1077.8L670.3 1075.5L670.7 1076.9L671.2 1075.8L671.6 1075.8L672.1 1075.9L672.5 1075.9L673.0 1078.4L673.4 1077.2L673.9 1076.2L674.3 1077.0L674.8 1075.6L675.2 1076.1L675.7 1077.4L676.1 1077.6L676.6 1077.4L677.0 1078.6L677.5 1078.6L677.9 1078.1L678.4 1076.9L678.8 1077.8L679.3 1076.2L679.7 1078.2L680.2 1076.2L680.6 1078.6L681.1 1075.4L681.5 1078.0L682.0 1077.0L682.4 1078.0L682.9 1077.1L683.3 1078.1L683.8 1077.7L684.2 1077.4L684.7 1078.5L685.1 1075.8L685.6 1078.4L686.0 1077.1L686.5 1077.7L686.9 1077.5L687.4 1076.6L687.8 1077.1L688.3 1078.5L688.7 1077.0L689.2 1078.3L689.6 1075.4L690.1 1077.2L690.5 1077.6L691.0 1076.7L691.4 1075.6L691.9 1077.9L692.3 1077.8L692.8 1076.6L693.2 1075.7L693.7 1078.1L694.1 1077.9L694.6 1078.1L695.0 1078.0L695.5 1076.2L695.9 1077.4L696.4 1076.9L696.8 1076.6L697.3 1076.7L697.7 1077.5L698.2 1078.6L698.6 1076.9L699.1 1076.6L699.5 1077.4L700.0 1077.4L700.4 1076.7L700.9 1077.5L701.3 1077.5L701.8 1077.8L702.2 1075.9L702.7 1077.5L703.1 1076.7L703.6 1078.2L704.0 1077.4L704.5 1078.0L704.9 1078.0L705.4 1076.0L705.8 1075.6L706.3 1077.8L706.7 1075.5L707.2 1078.4L707.6 1077.6L708.1 1076.7L708.5 1077.5L709.0 1075.8L709.4 1077.4L709.9 1078.3L710.3 1075.4L710.8 1078.4L711.2 1076.4L711.7 1076.6L712.1 1078.4L712.6 1077.9L713.0 1076.6L713.5 1078.5L713.9 1075.5L714.4 1077.5L714.8 1077.0L715.3 1078.2L715.7 1075.4L716.2 1076.4L716.6 1076.9L717.1 1075.6L717.5 1077.4L718.0 1078.1L718.4 1078.3L718.9 1075.8L719.3 1077.0L719.8 1078.5L720.2 1075.6L720.7 1077.6L721.1 1076.3L721.6 1078.3L722.0 1077.3L722.5 1078.2L722.9 1075.5L723.4 1077.3L723.8 1076.7L724.3 1075.7L724.7 1076.7L725.2 1077.7L725.6 1077.2L726.1 1077.2L726.5 1076.2L727.0 1077.0L727.4 1076.8L727.9 1078.3L728.3 1078.2L728.8 1076.7L729.2 1076.9L729.7 1076.3L730.1 1077.2L730.6 1075.7L731.0 1078.4L731.5 1076.7L731.9 1075.3L732.4 1076.3L732.8 1078.4L733.3 1076.3L733.7 1076.6L734.2 1078.5L734.6 1077.8L735.1 1076.5L735.5 1075.8L736.0 1076.6L736.4 1076.5L736.9 1078.2L737.3 1077.0L737.8 1078.3L738.2 1078.5L738.7 1078.1L739.1 1076.6L739.6 1076.6L740.0 1077.1L740.5 1077.5L740.9 1078.0L741.4 1077.9L741.8 1076.3L742.3 1077.7L742.7 1076.5L743.2 1077.8L743.6 1075.3L744.1 1078.0L744.5 1077.5L745.0 1075.8L745.4 1076.1L745.9 1076.3L746.3 1076.9L746.8 1078.2L747.2 1078.4L747.7 1077.2L748.1 1075.6L748.6 1078.4L749.0 1078.4L749.5 1075.6L749.9 1077.4L750.4 1077.4L750.8 1077.4L751.3 1077.6L751.7 1075.3L752.2 1076.3L752.6 1076.4L753.1 1077.4L753.5 1075.6L754.0 1076.2L754.4 1075.8L754.9 1075.4L755.3 1076.8L755.8 1075.9L756.2 1076.8L756.7 1075.9L757.1 1077.8L757.6 1075.6L758.0 1077.8L758.5 1077.4L758.9 1075.8L759.4 1076.5L759.8 1076.5L760.3 1076.7L760.7 1077.4L761.2 1075.3L761.6 1075.8L762.1 1077.5L762.5 1075.6L763.0 1078.0L763.4 1076.5L763.9 1075.4L764.3 1077.7L764.8 1076.0L765.2 1078.5L765.7 1078.2L766.1 1078.1L766.6 1078.1L767.0 1075.5L767.5 1075.3L767.9 1076.5L768.4 1076.6L768.8 1076.6L769.3 1077.2L769.7 1077.8L770.2 1077.8L770.6 1078.2L771.1 1077.4L771.5 1078.1L772.0 1075.5L772.4 1075.3L772.9 1076.7L773.3 1078.1L773.8 1076.5L774.2 1075.6L774.7 1075.6L775.1 1076.0L775.6 1078.0L776.0 1076.3L776.5 1078.0L776.9 1078.3L777.4 1077.7L777.8 1078.2L778.3 1076.0L778.7 1075.9L779.2 1076.0L779.6 1075.3L780.1 1078.2L780.5 1075.9L781.0 1077.2L781.4 1076.1L781.9 1077.0L782.3 1076.6L782.8 1077.5L783.2 1075.9L783.7 1076.1L784.1 1075.7L784.6 1076.3L785.0 1077.9L785.5 1078.3L785.9 1075.3L786.4 1077.9L786.8 1077.6L787.3 1075.5L787.7 1075.7L788.2 1078.0L788.6 1075.8L789.1 1078.1L789.5 1076.9L790.0 1078.4L790.4 1076.8L790.9 1075.6L791.3 1077.1L791.8 1076.6L792.2 1075.4L792.7 1077.8L793.1 1078.1L793.6 1078.3L794.0 1077.3L794.5 1077.1L794.9 1075.8L795.4 1078.3L795.8 1077.6L796.3 1077.3L796.7 1077.4L797.2 1077.9L797.6 1076.3L798.1 1075.5L798.5 1078.4L799.0 1075.3L799.4 1076.1L799.9 1076.8L800.3 1075.3L800.8 1076.2L801.2 1078.0L801.7 1077.2L802.1 1077.1L802.6 1075.2L803.0 1076.5L803.5 1075.6L803.9 1076.4L804.4 1076.4L804.8 1076.5L805.3 1076.2L805.7 1077.7L806.2 1076.7L806.6 1078.1L807.1 1076.3L807.5 1075.6L808.0 1076.3L808.4 1078.0L808.9 1076.3L809.3 1077.8L809.8 1077.4L810.2 1076.0L810.7 1075.8L811.1 1075.5L811.6 1076.6L812.0 1077.4L812.5 1076.1L812.9 1078.2L813.4 1075.2L813.8 1077.7L814.3 1075.7L814.7 1078.4L815.2 1075.5L815.6 1078.1L816.1 1076.4L816.5 1076.1L817.0 1075.3L817.4 1075.9L817.9 1076.4L818.3 1078.2L818.8 1078.3L819.2 1075.4L819.7 1077.0L820.1 1075.2L820.6 1075.5L821.0 1077.1L821.5 1076.8L821.9 1078.0L822.4 1078.0L822.8 1075.7L823.3 1077.2L823.7 1077.7L824.2 1077.6L824.6 1077.0L825.1 1076.8L825.5 1077.0L826.0 1076.5L826.4 1076.9L826.9 1078.0L827.3 1076.3L827.8 1076.5L828.2 1076.5L828.7 1077.9L829.1 1075.9L829.6 1076.5L830.0 1077.5L830.5 1076.4L830.9 1077.9L831.4 1076.9L831.8 1075.4L832.3 1076.3L832.7 1075.6L833.2 1076.5L833.6 1076.3L834.1 1076.2L834.5 1077.8L835.0 1078.0L835.4 1077.5L835.9 1077.6L836.3 1078.0L836.8 1078.1L837.2 1075.7L837.7 1078.0L838.1 1075.6L838.6 1076.0L839.0 1077.7L839.5 1075.6L839.9 1078.2L840.4 1078.1L840.8 1075.1L841.3 1077.2L841.7 1078.1L842.2 1076.8L842.6 1076.8L843.1 1077.0L843.5 1076.9L844.0 1077.0L844.4 1077.3L844.9 1078.2L845.3 1075.4L845.8 1075.9L846.2 1075.1L846.7 1075.3L847.1 1075.8L847.6 1078.0L848.0 1076.1L848.5 1077.0L848.9 1076.1L849.4 1078.3L849.8 1075.7L850.3 1076.4L850.7 1076.3L851.2 1075.8L851.6 1075.3L852.1 1076.4L852.5 1075.8L853.0 1075.2L853.4 1077.9L853.9 1076.2L854.3 1075.1L854.8 1077.1L855.2 1076.6L855.7 1077.3L856.1 1076.3L856.6 1075.6L857.0 1077.2L857.5 1076.4L857.9 1077.9L858.4 1076.1L858.8 1075.8L859.3 1075.7L859.7 1075.9L860.2 1075.9L860.6 1076.8L861.1 1076.3L861.5 1078.2L862.0 1075.8L862.4 1078.1L862.9 1076.2L863.3 1076.6L863.8 1078.2L864.2 1077.6L864.7 1078.1L865.1 1076.8L865.6 1076.1L866.0 1077.3L866.5 1077.3L866.9 1075.2L867.4 1075.4L867.8 1078.1L868.3 1077.4L868.7 1077.7L869.2 1075.7L869.6 1078.2L870.1 1076.1L870.5 1075.5L871.0 1076.2L871.4 1076.2L871.9 1075.3L872.3 1077.8L872.8 1077.9L873.2 1075.7L873.7 1076.9L874.1 1077.9L874.6 1076.3L875.0 1076.7L875.5 1075.9L875.9 1076.6L876.4 1076.1L876.8 1077.7L877.3 1075.6L877.7 1075.2L878.2 1078.0L878.6 1075.7L879.1 1076.9L879.5 1077.4L880.0 1076.1L880.4 1078.1L880.9 1076.2L881.3 1075.7L881.8 1075.3L882.2 1078.0L882.7 1075.8L883.1 1078.0L883.6 1076.6L884.0 1078.1L884.5 1075.4L884.9 1077.9L885.4 1078.3L885.8 1077.4L886.3 1075.5L886.7 1078.3L887.2 1077.7L887.6 1075.8L888.1 1078.2L888.5 1075.4L889.0 1075.5L889.4 1075.2L889.9 1077.0L890.3 1076.4L890.8 1075.4L891.2 1076.7L891.7 1078.0L892.1 1075.4L892.6 1077.2L893.0 1075.7L893.5 1076.8L893.9 1076.2L894.4 1076.0L894.8 1075.2L895.3 1077.0L895.7 1076.6L896.2 1077.4L896.6 1075.7L897.1 1078.3L897.5 1075.2L898.0 1075.8L898.4 1077.2L898.9 1075.6L899.3 1076.0L899.8 1076.8L900.2 1077.6L900.7 1077.9L901.1 1076.2L901.6 1077.3L902.0 1075.2L902.5 1078.0L902.9 1077.3L903.4 1078.1L903.8 1075.8L904.3 1076.8L904.7 1077.6L905.2 1075.3L905.6 1077.9L906.1 1077.5L906.5 1077.7L907.0 1075.7L907.4 1077.7L907.9 1077.0L908.3 1075.7L908.8 1075.6L909.2 1077.9L909.7 1076.5L910.1 1076.1L910.6 1076.4L911.0 1077.4L911.5 1075.6L911.9 1075.7L912.4 1077.3L912.8 1078.1L913.3 1077.4L913.7 1078.3L914.2 1076.1L914.6 1076.4L915.1 1076.4L915.5 1076.4L916.0 1076.1L916.4 1077.8L916.9 1076.1L917.3 1076.6L917.8 1076.8L918.2 1078.4L918.7 1076.3L919.1 1077.5L919.6 1076.3L920.0 1077.8L920.5 1076.5L920.9 1075.3L921.4 1076.9L921.8 1076.4L922.3 1076.1L922.7 1076.2L923.2 1075.3L923.6 1077.6L924.1 1077.0L924.5 1077.3L925.0 1077.1L925.4 1076.5L925.9 1076.8L926.3 1076.8L926.8 1078.2L927.2 1076.4L927.7 1075.8L928.1 1075.6L928.6 1076.4L929.0 1077.2L929.5 1077.2L929.9 1077.7L930.4 1077.4L930.8 1075.6L931.3 1076.6L931.7 1076.5L932.2 1075.7L932.6 1077.2L933.1 1077.8L933.5 1075.5L934.0 1077.1L934.4 1075.7L934.9 1077.9L935.3 1077.2L935.8 1075.6L936.2 1077.0L936.7 1076.2L937.1 1076.0L937.6 1077.5L938.0 1076.7L938.5 1078.4L938.9 1078.3L939.4 1078.1L939.8 1076.7L940.3 1078.3L940.7 1075.6L941.2 1077.9L941.6 1076.6L942.1 1078.2L942.5 1075.5L943.0 1077.3L943.4 1075.7L943.9 1076.4L944.3 1077.3L944.8 1075.9L945.2 1077.7L945.7 1077.1L946.1 1076.2L946.6 1077.2L947.0 1076.9L947.5 1075.6L947.9 1077.7L948.4 1077.8L948.8 1078.4L949.3 1078.5L949.7 1076.7L950.2 1077.6L950.6 1077.4L951.1 1075.7L951.5 1077.8L952.0 1076.4L952.4 1076.9L952.9 1077.5L953.3 1077.1L953.8 1076.4L954.2 1078.3L954.7 1075.8L955.1 1077.5L955.6 1076.1L956.0 1078.5L956.5 1078.5L956.9 1077.8L957.4 1078.4L957.8 1078.0L958.3 1077.7L958.7 1078.0L959.2 1078.5L959.6 1076.3L960.1 1077.9L960.5 1076.2L961.0 1077.1L961.4 1076.7L961.9 1077.6L962.3 1077.6L962.8 1078.5L963.2 1078.3L963.7 1075.8L964.1 1076.2L964.6 1075.8L965.0 1077.9L965.5 1076.7L965.9 1078.8L966.4 1076.3L966.8 1078.7L967.3 1078.1L967.7 1078.1L968.2 1077.6L968.6 1078.5L969.1 1076.4L969.5 1078.4L970.0 1078.5L970.4 1077.6L970.9 1077.8L971.3 1076.4L971.8 1077.3L972.2 1077.6L972.7 1076.7L973.1 1075.8L973.6 1078.7L974.0 1078.3L974.5 1076.9L974.9 1077.4L975.4 1077.6L975.8 1078.8L976.3 1077.5L976.7 1078.0L977.2 1078.3L977.6 1076.1L978.1 1077.6L978.5 1078.7L979.0 1078.4L979.4 1078.7L979.9 1076.3L980.3 1078.3L980.8 1076.7L981.2 1078.6L981.7 1078.3L982.1 1077.0L982.6 1077.6L983.0 1077.3L983.5 1078.8L983.9 1077.6L984.4 1076.0L984.8 1077.5L985.3 1075.9L985.7 1076.2L986.2 1077.4L986.6 1077.3L987.1 1076.0L987.5 1076.9L988.0 1076.8L988.4 1076.8L988.9 1077.3L989.3 1076.0L989.8 1076.0L990.2 1076.6L990.7 1078.2L991.1 1078.9L991.6 1078.3L992.0 1076.1L992.5 1078.5L992.9 1078.5L993.4 1078.6L993.8 1078.2L994.3 1076.7L994.7 1077.5L995.2 1077.3L995.6 1076.0L996.1 1077.6L996.5 1076.8L997.0 1079.0L997.4 1078.1L997.9 1078.5L998.3 1076.0L998.8 1078.2L999.2 1078.5L999.7 1077.4L1000.1 1076.7L1000.6 1077.5L1001.0 1077.7L1001.5 1077.3L1001.9 1077.0L1002.4 1078.1L1002.8 1078.8L1003.3 1076.8L1003.7 1078.8L1004.2 1076.2L1004.6 1078.2L1005.1 1077.1L1005.5 1077.7L1006.0 1077.1L1006.4 1076.3L1006.9 1076.5L1007.3 1079.2L1007.8 1077.3L1008.2 1079.1L1008.7 1077.7L1009.1 1078.9L1009.6 1077.4L1010.0 1079.2L1010.5 1077.6L1010.9 1076.9L1011.4 1076.6L1011.8 1076.3L1012.3 1076.4L1012.7 1078.2L1013.2 1077.2L1013.6 1078.9L1014.1 1076.7L1014.5 1079.1L1015.0 1076.7L1015.4 1076.9L1015.9 1077.2L1016.3 1076.9L1016.8 1077.4L1017.2 1078.7L1017.7 1076.3L1018.1 1076.9L1018.6 1076.3L1019.0 1078.6L1019.5 1076.5L1019.9 1077.7L1020.4 1078.9L1020.8 1077.1L1021.3 1076.5L1021.7 1077.0L1022.2 1079.1L1022.6 1076.4L1023.1 1078.9L1023.5 1076.5L1024.0 1076.7L1024.4 1078.6L1024.9 1078.2L1025.3 1077.2L1025.8 1078.4L1026.2 1076.6L1026.7 1079.0L1027.1 1078.0L1027.6 1079.2L1028.0 1078.1L1028.5 1078.0L1028.9 1078.9L1029.4 1078.0L1029.8 1076.5L1030.3 1078.1L1030.7 1077.1L1031.2 1078.2L1031.6 1079.4L1032.1 1078.1L1032.5 1078.9L1033.0 1077.3L1033.4 1076.2L1033.9 1076.4L1034.3 1076.3L1034.8 1076.9L1035.2 1077.1L1035.7 1077.3L1036.1 1078.3L1036.6 1078.6L1037.0 1078.7L1037.5 1078.6L1037.9 1079.0L1038.4 1078.5L1038.8 1077.7L1039.3 1077.6L1039.7 1076.5L1040.2 1076.3L1040.6 1079.0L1041.1 1076.7L1041.5 1079.0L1042.0 1077.5L1042.4 1076.5L1042.9 1078.9L1043.3 1078.6L1043.8 1079.5L1044.2 1078.0L1044.7 1079.3L1045.1 1077.9L1045.6 1077.1L1046.0 1077.6L1046.5 1078.4L1046.9 1079.1L1047.4 1078.9L1047.8 1079.3L1048.3 1078.0L1048.7 1077.8L1049.2 1078.0L1049.6 1079.3L1050.1 1077.5L1050.5 1076.5L1051.0 1077.6L1051.4 1078.4L1051.9 1079.0L1052.3 1079.3L1052.8 1078.5L1053.2 1078.9L1053.7 1078.9L1054.1 1078.9L1054.6 1078.2L1055.0 1079.4L1055.5 1079.2L1055.9 1076.4L1056.4 1076.7L1056.8 1079.5L1057.3 1078.5L1057.7 1076.8L1058.2 1079.3L1058.6 1076.6L1059.1 1078.1L1059.5 1077.6L1060.0 1077.3L1060.4 1077.1L1060.9 1076.6L1061.3 1077.6L1061.8 1076.7L1062.2 1078.4L1062.7 1077.4L1063.1 1078.8L1063.6 1079.4L1064.0 1079.2L1064.5 1078.7L1064.9 1078.9L1065.4 1076.7L1065.8 1079.5L1066.3 1078.2L1066.7 1078.1L1067.2 1078.5L1067.6 1077.0L1068.1 1077.9L1068.5 1076.8L1069.0 1079.3L1069.4 1078.0L1069.9 1076.8L1070.3 1079.5L1070.8 1078.2L1071.2 1078.8L1071.7 1079.0L1072.1 1078.6L1072.6 1077.8L1073.0 1077.3L1073.5 1076.6L1073.9 1078.4L1074.4 1076.7L1074.8 1077.6L1075.3 1079.2L1075.7 1079.3L1076.2 1079.0L1076.6 1077.0L1077.1 1079.4L1077.5 1076.8L1078.0 1079.3L1078.4 1078.8L1078.9 1079.5L1079.3 1079.5L1079.8 1078.1L1080.2 1077.4L1080.7 1079.3L1081.1 1077.4L1081.6 1077.5L1082.0 1078.2L1082.5 1076.9L1082.9 1077.9L1083.4 1076.8L1083.8 1077.8L1084.3 1079.3L1084.7 1079.3L1085.2 1079.5L1085.6 1078.7L1086.1 1078.8L1086.5 1077.7L1087.0 1079.2L1087.4 1076.8L1087.9 1076.8L1088.3 1076.7L1088.8 1077.5L1089.2 1076.4L1089.7 1078.4L1090.1 1076.7L1090.6 1078.3L1091.0 1077.8L1091.5 1078.2L1091.9 1078.1L1092.4 1078.3L1092.8 1077.3L1093.3 1077.5L1093.7 1076.4L1094.2 1077.1L1094.6 1075.7L1095.1 1078.4L1095.5 1078.3L1096.0 1075.4L1096.4 1075.1L1096.9 1076.3L1097.3 1076.6L1097.8 1076.3L1098.2 1075.8L1098.7 1076.6L1099.1 1075.8L1099.6 1075.7L1100.0 1074.4L1100.5 1076.1L1100.9 1074.3L1101.4 1076.7L1101.8 1075.3L1102.3 1074.8L1102.7 1075.7L1103.2 1076.3L1103.6 1073.8L1104.1 1074.5L1104.5 1076.2L1105.0 1075.7L1105.4 1074.0L1105.9 1073.8L1106.3 1075.1L1106.8 1072.7L1107.2 1072.6L1107.7 1073.9L1108.1 1073.8L1108.6 1073.7L1109.0 1074.1L1109.5 1074.4L1109.9 1072.7L1110.4 1072.3L1110.8 1073.8L1111.3 1071.7L1111.7 1073.5L1112.2 1072.8L1112.6 1073.0L1113.1 1072.1L1113.5 1070.2L1114.0 1071.9L1114.4 1071.0L1114.9 1069.7L1115.3 1069.2L1115.8 1069.4L1116.2 1068.7L1116.7 1068.5L1117.1 1070.5L1117.6 1070.5L1118.0 1070.4L1118.5 1068.7L1118.9 1068.5L1119.4 1066.6L1119.8 1066.5L1120.3 1068.3L1120.7 1067.4L1121.2 1067.1L1121.6 1067.4L1122.1 1067.4L1122.5 1066.7L1123.0 1064.2L1123.4 1065.7L1123.9 1066.3L1124.3 1066.0L1124.8 1066.1L1125.2 1064.4L1125.7 1064.2L1126.1 1062.3L1126.6 1063.6L1127.0 1063.4L1127.5 1064.3L1127.9 1063.9L1128.4 1061.0L1128.8 1060.9L1129.3 1061.4L1129.7 1062.4L1130.2 1060.2L1130.6 1061.9L1131.1 1061.0L1131.5 1061.7L1132.0 1059.6L1132.4 1059.6L1132.9 1058.4L1133.3 1060.0L1133.8 1061.1L1134.2 1060.6L1134.7 1060.9L1135.1 1062.4L1135.6 1062.2L1136.0 1061.0L1136.5 1063.3L1136.9 1062.9L1137.4 1061.8L1137.8 1061.8L1138.3 1063.5L1138.7 1063.3L1139.2 1063.9L1139.6 1062.6L1140.1 1065.0L1140.5 1065.6L1141.0 1064.4L1141.4 1064.3L1141.9 1066.8L1142.3 1067.0L1142.8 1064.6L1143.2 1066.2L1143.7 1066.1L1144.1 1065.8L1144.6 1066.8L1145.0 1067.6L1145.5 1066.8L1145.9 1066.9L1146.4 1068.9L1146.8 1068.5L1147.3 1067.6L1147.7 1067.3L1148.2 1068.3L1148.6 1070.3L1149.1 1070.2L1149.5 1068.4L1150.0 1069.9L1150.4 1068.2L1150.9 1071.4L1151.3 1071.7L1151.8 1069.6L1152.2 1070.2L1152.7 1070.3L1153.1 1070.1L1153.6 1071.9L1154.0 1071.1L1154.5 1070.1L1154.9 1071.0L1155.4 1072.6L1155.8 1072.9L1156.3 1070.9L1156.7 1072.7L1157.2 1073.2L1157.6 1073.3L1158.1 1073.5L1158.5 1074.1L1159.0 1072.8L1159.4 1074.6L1159.9 1073.4L1160.3 1072.3L1160.8 1074.4L1161.2 1073.5L1161.7 1074.6L1162.1 1073.9L1162.6 1074.5L1163.0 1074.8L1163.5 1075.4L1163.9 1074.2L1164.4 1075.6L1164.8 1074.3L1165.3 1076.2L1165.7 1074.6L1166.2 1074.2L1166.6 1074.2L1167.1 1076.1L1167.5 1075.4L1168.0 1076.3L1168.4 1075.6L1168.9 1076.1L1169.3 1077.6L1169.8 1077.9L1170.2 1075.2L1170.7 1078.2L1171.1 1076.9L1171.6 1077.7L1172.0 1078.4L1172.5 1076.2L1172.9 1076.9L1173.4 1078.6L1173.8 1077.5L1174.3 1078.8L1174.7 1078.6L1175.2 1079.2L1175.6 1078.2L1176.1 1076.4L1176.5 1079.1L1177.0 1076.8L1177.4 1076.8L1177.9 1077.5L1178.3 1077.0L1178.8 1076.8L1179.2 1078.4L1179.7 1079.3L1180.1 1077.2L1180.6 1077.6L1181.0 1078.5L1181.5 1077.4L1181.9 1078.0L1182.4 1079.3L1182.8 1076.8L1183.3 1078.1L1183.7 1077.1L1184.2 1078.9L1184.6 1077.1L1185.1 1079.0L1185.5 1077.7L1186.0 1079.4L1186.4 1077.6L1186.9 1078.0L1187.3 1076.8L1187.8 1077.3L1188.2 1077.8L1188.7 1079.3L1189.1 1078.3L1189.6 1079.0L1190.0 1079.2L1190.5 1076.7L1190.9 1077.5L1191.4 1079.1L1191.8 1078.9L1192.3 1078.3L1192.7 1077.8L1193.2 1078.1L1193.6 1076.5L1194.1 1076.9L1194.5 1077.6L1195.0 1076.9L1195.4 1077.2L1195.9 1079.1L1196.3 1079.0L1196.8 1078.8L1197.2 1078.3L1197.7 1079.5L1198.1 1077.2L1198.6 1078.5L1199.0 1077.9L1199.5 1079.5L1199.9 1077.6L1200.4 1077.3L1200.8 1079.0L1201.3 1079.1L1201.7 1078.8L1202.2 1079.0L1202.6 1077.1L1203.1 1078.5L1203.5 1078.3L1204.0 1079.4L1204.4 1077.8L1204.9 1077.3L1205.3 1077.5L1205.8 1078.2L1206.2 1079.7L1206.7 1078.8L1207.1 1078.9L1207.6 1078.0L1208.0 1077.8L1208.5 1079.5L1208.9 1078.0L1209.4 1077.0L1209.8 1079.1L1210.3 1077.2L1210.7 1077.8L1211.2 1078.5L1211.6 1079.2L1212.1 1076.6L1212.5 1078.7L1213.0 1077.0L1213.4 1078.6L1213.9 1078.5L1214.3 1078.2L1214.8 1077.9L1215.2 1078.3L1215.7 1079.7L1216.1 1077.7L1216.6 1078.1L1217.0 1077.1L1217.5 1077.8L1217.9 1076.8L1218.4 1079.5L1218.8 1077.7L1219.3 1079.6L1219.7 1077.0L1220.2 1078.7L1220.6 1078.5L1221.1 1078.7L1221.5 1079.2L1222.0 1076.9L1222.4 1079.0L1222.9 1076.7L1223.3 1077.6L1223.8 1079.3L1224.2 1078.5L1224.7 1079.6L1225.1 1079.4L1225.6 1078.0L1226.0 1077.5L1226.5 1077.3L1226.9 1076.8L1227.4 1078.9L1227.8 1079.2L1228.3 1076.8L1228.7 1078.2L1229.2 1079.3L1229.6 1078.7L1230.1 1078.0L1230.5 1079.7L1231.0 1078.0L1231.4 1077.7L1231.9 1078.2L1232.3 1077.8L1232.8 1077.9L1233.2 1078.3L1233.7 1076.9L1234.1 1078.6L1234.6 1078.5L1235.0 1078.9L1235.5 1077.4L1235.9 1076.8L1236.4 1078.9L1236.8 1077.9L1237.3 1078.6L1237.7 1077.5L1238.2 1077.8L1238.6 1077.5L1239.1 1078.3L1239.5 1078.8L1240.0 1077.4L1240.4 1077.7L1240.9 1078.2L1241.3 1078.9L1241.8 1077.9L1242.2 1076.9L1242.7 1078.4L1243.1 1078.2L1243.6 1079.9L1244.0 1078.6L1244.5 1076.8L1244.9 1078.8L1245.4 1077.0L1245.8 1077.9L1246.3 1076.8L1246.7 1078.6L1247.2 1077.3L1247.6 1079.7L1248.1 1077.3L1248.5 1079.8L1249.0 1079.6L1249.4 1078.4L1249.9 1078.2L1250.3 1078.0L1250.8 1079.1L1251.2 1077.3L1251.7 1077.9L1252.1 1076.9L1252.6 1078.1L1253.0 1077.3L1253.5 1079.7L1253.9 1078.2L1254.4 1077.4L1254.8 1077.6L1255.3 1077.3L1255.7 1077.0L1256.2 1076.9L1256.6 1079.0L1257.1 1077.1L1257.5 1079.4L1258.0 1079.8L1258.4 1079.7L1258.9 1077.3L1259.3 1079.3L1259.8 1078.7L1260.2 1079.8L1260.7 1077.7L1261.1 1078.7L1261.6 1078.7L1262.0 1077.4L1262.5 1078.7L1262.9 1079.1L1263.4 1079.3L1263.8 1079.5L1264.3 1076.8L1264.7 1079.2L1265.2 1077.8L1265.6 1079.2L1266.1 1077.2L1266.5 1078.0L1267.0 1078.1L1267.4 1079.0L1267.9 1078.7L1268.3 1079.4L1268.8 1076.8L1269.2 1077.7L1269.7 1079.1L1270.1 1077.5L1270.6 1079.5L1271.0 1077.8L1271.5 1078.9L1271.9 1077.0L1272.4 1079.7L1272.8 1077.1L1273.3 1078.1L1273.7 1078.0L1274.2 1077.8L1274.6 1078.5L1275.1 1078.5L1275.5 1079.3L1276.0 1079.9L1276.4 1079.4L1276.9 1079.1L1277.3 1077.4L1277.8 1077.5L1278.2 1076.8L1278.7 1077.1L1279.1 1079.3L1279.6 1077.0L1280.0 1077.7L1280.5 1078.0L1280.9 1077.3L1281.4 1077.9L1281.8 1077.6L1282.3 1078.1L1282.7 1077.4L1283.2 1076.9L1283.6 1079.7L1284.1 1079.2L1284.5 1079.3L1285.0 1077.6L1285.4 1079.8L1285.9 1079.5L1286.3 1078.1L1286.8 1077.7L1287.2 1079.4L1287.7 1076.9L1288.1 1078.6L1288.6 1079.6L1289.0 1079.7L1289.5 1079.8L1289.9 1078.2L1290.4 1076.9L1290.8 1077.9L1291.3 1077.7L1291.7 1078.7L1292.2 1079.1L1292.6 1080.0L1293.1 1077.8L1293.5 1078.0L1294.0 1077.1L1294.4 1079.5L1294.9 1078.4L1295.3 1077.6L1295.8 1078.4L1296.2 1078.4L1296.7 1079.4L1297.1 1077.6L1297.6 1078.5L1298.0 1078.3L1298.5 1077.2L1298.9 1077.3L1299.4 1077.6L1299.8 1078.2L1300.3 1078.6L1300.7 1079.2L1301.2 1079.8L1301.6 1077.1L1302.1 1080.0L1302.5 1078.2L1303.0 1079.3L1303.4 1077.9L1303.9 1079.2L1304.3 1079.0L1304.8 1076.9L1305.2 1079.6L1305.7 1077.0L1306.1 1078.4L1306.6 1077.5L1307.0 1078.7L1307.5 1077.4L1307.9 1078.8L1308.4 1079.3L1308.8 1078.7L1309.3 1079.5L1309.7 1078.1L1310.2 1079.0L1310.6 1078.3L1311.1 1079.8L1311.5 1077.2L1312.0 1079.6L1312.4 1076.9L1312.9 1079.6L1313.3 1077.1L1313.8 1079.1L1314.2 1077.2L1314.7 1079.4L1315.1 1077.6L1315.6 1077.1L1316.0 1079.6L1316.5 1078.7L1316.9 1079.6L1317.4 1079.4L1317.8 1077.2L1318.3 1077.2L1318.7 1079.1L1319.2 1079.6L1319.6 1077.4L1320.1 1079.7L1320.5 1076.9L1321.0 1079.3L1321.4 1078.9L1321.9 1078.1L1322.3 1078.1L1322.8 1077.9L1323.2 1078.4L1323.7 1078.5L1324.1 1077.4L1324.6 1076.9L1325.0 1078.6L1325.5 1077.5L1325.9 1077.2L1326.4 1077.7L1326.8 1077.3L1327.3 1079.6L1327.7 1077.8L1328.2 1078.9L1328.6 1076.9L1329.1 1079.0L1329.5 1079.9L1330.0 1079.3L1330.4 1079.3L1330.9 1078.2L1331.3 1078.4L1331.8 1079.8L1332.2 1077.6L1332.7 1078.5L1333.1 1079.2L1333.6 1078.0L1334.0 1078.4L1334.5 1077.0L1334.9 1079.1L1335.4 1077.4L1335.8 1077.7L1336.3 1077.6L1336.7 1079.2L1337.2 1078.2L1337.6 1080.1L1338.1 1079.4L1338.5 1079.8L1339.0 1079.1L1339.4 1077.6L1339.9 1077.9L1340.3 1078.0L1340.8 1077.5L1341.2 1078.4L1341.7 1079.4L1342.1 1078.6L1342.6 1077.4L1343.0 1079.2L1343.5 1080.0L1343.9 1078.4L1344.4 1077.3L1344.8 1079.2L1345.3 1078.6L1345.7 1079.5L1346.2 1078.8L1346.6 1079.7L1347.1 1076.9L1347.5 1079.0L1348.0 1078.8L1348.4 1079.4L1348.9 1077.6L1349.3 1078.8L1349.8 1077.7L1350.2 1079.3L1350.7 1077.1L1351.1 1077.4L1351.6 1079.9L1352.0 1079.2L1352.5 1077.7L1352.9 1077.9L1353.4 1078.3L1353.8 1077.6L1354.3 1077.3L1354.7 1080.0L1355.2 1077.6L1355.6 1079.3L1356.1 1079.2L1356.5 1079.2L1357.0 1077.9L1357.4 1077.6L1357.9 1078.9L1358.3 1080.1L1358.8 1078.1L1359.2 1077.6L1359.7 1078.5L1360.1 1077.5L1360.6 1078.0L1361.0 1079.2L1361.5 1077.7L1361.9 1078.3L1362.4 1079.0L1362.8 1077.4L1363.3 1077.4L1363.7 1080.0L1364.2 1079.7L1364.6 1079.7L1365.1 1078.7L1365.5 1078.5L1366.0 1077.2L1366.4 1077.7L1366.9 1077.3L1367.3 1078.6L1367.8 1078.3L1368.2 1077.4L1368.7 1077.2L1369.1 1078.7L1369.6 1077.3L1370.0 1076.9L1370.5 1077.6L1370.9 1079.5L1371.4 1079.0L1371.8 1078.6L1372.3 1077.6L1372.7 1078.4L1373.2 1076.9L1373.6 1077.9L1374.1 1078.4L1374.5 1077.2L1375.0 1078.8L1375.4 1078.3L1375.9 1077.1L1376.3 1077.4L1376.8 1078.5L1377.2 1079.8L1377.7 1077.1L1378.1 1078.7L1378.6 1077.8L1379.0 1078.1L1379.5 1079.9L1379.9 1078.9L1380.4 1077.8L1380.8 1078.3L1381.3 1080.0L1381.7 1079.7L1382.2 1078.3L1382.6 1078.6L1383.1 1078.4L1383.5 1077.4L1384.0 1080.0L1384.4 1077.6L1384.9 1077.6L1385.3 1077.3L1385.8 1079.9L1386.2 1079.8L1386.7 1078.9L1387.1 1078.6L1387.6 1078.8L1388.0 1078.1L1388.5 1079.7L1388.9 1078.7L1389.4 1079.6L1389.8 1079.1L1390.3 1079.1L1390.7 1079.0L1391.2 1079.4L1391.6 1079.5L1392.1 1079.1L1392.5 1077.9L1393.0 1077.7L1393.4 1077.5L1393.9 1079.6L1394.3 1078.5L1394.8 1076.9L1395.2 1078.8L1395.7 1079.7L1396.1 1079.8L1396.6 1079.9L1397.0 1079.7L1397.5 1077.5L1397.9 1078.6L1398.4 1079.2L1398.8 1079.0L1399.3 1078.0L1399.7 1077.0L1400.2 1079.8L1400.6 1079.4L1401.1 1079.7L1401.5 1078.1L1402.0 1077.7L1402.4 1079.6L1402.9 1079.0L1403.3 1079.0L1403.8 1077.0L1404.2 1077.2L1404.7 1079.3L1405.1 1079.7L1405.6 1078.0L1406.0 1079.7L1406.5 1077.4L1406.9 1078.7L1407.4 1078.0L1407.8 1078.6L1408.3 1077.5L1408.7 1078.1L1409.2 1078.3L1409.6 1078.7L1410.1 1077.5L1410.5 1078.7L1411.0 1077.5L1411.4 1079.9L1411.9 1077.6L1412.3 1077.1L1412.8 1077.6L1413.2 1078.6L1413.7 1078.2L1414.1 1078.8L1414.6 1077.1L1415.0 1078.0L1415.5 1078.5L1415.9 1079.8L1416.4 1079.5L1416.8 1078.5L1417.3 1077.6L1417.7 1077.0L1418.2 1078.7L1418.6 1078.4L1419.1 1078.1L1419.5 1078.9L1420.0 1078.1L1420.4 1079.1L1420.9 1077.5L1421.3 1077.6L1421.8 1079.5L1422.2 1078.4L1422.7 1079.6L1423.1 1076.7L1423.6 1079.4L1424.0 1076.6L1424.5 1078.8L1424.9 1078.3L1425.4 1076.8L1425.8 1077.4L1426.3 1077.9L1426.7 1078.2L1427.2 1077.9L1427.6 1076.4L1428.1 1079.5L1428.5 1077.4L1429.0 1078.6L1429.4 1079.3L1429.9 1079.4L1430.3 1076.8L1430.8 1079.1L1431.2 1077.9L1431.7 1078.3L1432.1 1077.0L1432.6 1076.6L1433.0 1078.0L1433.5 1079.0L1433.9 1077.5L1434.4 1079.1L1434.8 1078.3L1435.3 1076.1L1435.7 1079.0L1436.2 1076.4L1436.6 1076.7L1437.1 1077.8L1437.5 1079.0L1438.0 1076.4L1438.4 1076.9L1438.9 1076.1L1439.3 1076.2L1439.8 1077.3L1440.2 1077.7L1440.7 1077.5L1441.1 1076.0L1441.6 1077.2L1442.0 1077.2L1442.5 1078.8L1442.9 1076.8L1443.4 1077.8L1443.8 1077.3L1444.3 1078.2L1444.7 1077.6L1445.2 1078.8L1445.6 1077.7L1446.1 1076.7L1446.5 1077.0L1447.0 1078.3L1447.4 1076.8L1447.9 1078.5L1448.3 1077.0L1448.8 1078.5L1449.2 1076.0L1449.7 1078.0L1450.1 1076.9L1450.6 1076.2L1451.0 1077.3L1451.5 1075.6L1451.9 1076.0L1452.4 1078.1L1452.8 1077.0L1453.3 1076.4L1453.7 1075.8L1454.2 1075.8L1454.6 1076.0L1455.1 1076.8L1455.5 1075.3L1456.0 1075.9L1456.4 1076.6L1456.9 1078.0L1457.3 1078.0L1457.8 1078.2L1458.2 1075.9L1458.7 1075.5L1459.1 1077.8L1459.6 1077.3L1460.0 1075.9L1460.5 1076.5L1460.9 1078.0L1461.4 1077.7L1461.8 1078.0L1462.3 1076.6L1462.7 1075.6L1463.2 1076.7L1463.6 1075.3L1464.1 1075.3L1464.5 1075.2L1465.0 1075.7L1465.4 1075.5L1465.9 1075.7L1466.3 1077.1L1466.8 1077.0L1467.2 1075.0L1467.7 1077.6L1468.1 1077.5L1468.6 1077.9L1469.0 1075.5L1469.5 1077.1L1469.9 1076.6L1470.4 1077.0L1470.8 1077.7L1471.3 1075.0L1471.7 1077.4L1472.2 1077.5L1472.6 1076.8L1473.1 1076.0L1473.5 1076.4L1474.0 1075.1L1474.4 1077.1L1474.9 1076.4L1475.3 1076.5L1475.8 1076.9L1476.2 1074.9L1476.7 1074.8L1477.1 1075.0L1477.6 1074.8L1478.0 1077.1L1478.5 1075.0L1478.9 1075.8L1479.4 1076.6L1479.8 1075.3L1480.3 1077.4L1480.7 1077.4L1481.2 1075.7L1481.6 1076.3L1482.1 1077.0L1482.5 1077.6L1483.0 1076.6L1483.4 1075.8L1483.9 1074.5L1484.3 1076.4L1484.8 1076.5L1485.2 1076.5L1485.7 1075.4L1486.1 1077.1L1486.6 1076.2L1487.0 1075.5L1487.5 1075.0L1487.9 1074.3L1488.4 1076.5L1488.8 1075.2L1489.3 1076.9L1489.7 1075.2L1490.2 1075.1L1490.6 1076.6L1491.1 1075.3L1491.5 1077.2L1492.0 1075.8L1492.4 1077.0L1492.9 1074.4L1493.3 1074.1L1493.8 1074.0L1494.2 1076.7L1494.7 1075.4L1495.1 1076.2L1495.6 1075.5L1496.0 1076.9L1496.5 1076.4L1496.9 1075.3L1497.4 1074.3L1497.8 1074.9L1498.3 1074.9L1498.7 1074.8L1499.2 1075.9L1499.6 1076.2L1500.1 1076.2L1500.5 1074.1L1501.0 1074.0L1501.4 1075.6L1501.9 1075.7L1502.3 1075.8L1502.8 1076.2L1503.2 1074.3L1503.7 1073.4L1504.1 1074.3L1504.6 1074.1L1505.0 1073.3L1505.5 1075.1L1505.9 1074.4L1506.4 1074.7L1506.8 1075.4L1507.3 1074.3L1507.7 1075.2L1508.2 1074.9L1508.6 1073.8L1509.1 1074.0L1509.5 1073.4L1510.0 1073.0L1510.4 1074.0L1510.9 1073.4L1511.3 1072.5L1511.8 1073.3L1512.2 1072.8L1512.7 1071.3L1513.1 1073.1L1513.6 1072.2L1514.0 1073.4L1514.5 1073.2L1514.9 1070.5L1515.4 1070.8L1515.8 1072.0L1516.3 1070.2L1516.7 1072.0L1517.2 1071.2L1517.6 1071.9L1518.1 1069.7L1518.5 1070.5L1519.0 1069.9L1519.4 1069.9L1519.9 1070.4L1520.3 1068.2L1520.8 1067.4L1521.2 1068.9L1521.7 1066.5L1522.1 1067.4L1522.6 1068.3L1523.0 1067.7L1523.5 1066.8L1523.9 1064.3L1524.4 1067.0L1524.8 1065.0L1525.3 1064.1L1525.7 1063.0L1526.2 1062.9L1526.6 1062.2L1527.1 1063.5L1527.5 1062.6L1528.0 1061.9L1528.4 1063.2L1528.9 1060.5L1529.3 1061.2L1529.8 1062.0L1530.2 1061.7L1530.7 1060.9L1531.1 1059.8L1531.6 1058.2L1532.0 1058.5L1532.5 1059.1L1532.9 1058.8L1533.4 1057.8L1533.8 1058.2L1534.3 1056.6L1534.7 1057.0L1535.2 1056.6L1535.6 1053.7L1536.1 1053.0L1536.5 1055.1L1537.0 1052.2L1537.4 1052.0L1537.9 1051.1L1538.3 1051.6L1538.8 1048.0L1539.2 1048.6L1539.7 1047.6L1540.1 1045.4L1540.6 1045.4L1541.0 1045.7L1541.5 1042.0L1541.9 1041.5L1542.4 1041.5L1542.8 1040.2L1543.3 1039.7L1543.7 1037.3L1544.2 1035.5L1544.6 1035.2L1545.1 1035.5L1545.5 1033.1L1546.0 1031.8L1546.4 1031.8L1546.9 1030.0L1547.3 1027.4L1547.8 1026.9L1548.2 1027.4L1548.7 1023.3L1549.1 1024.4L1549.6 1021.7L1550.0 1021.8L1550.5 1018.6L1550.9 1018.9L1551.4 1018.2L1551.8 1014.4L1552.3 1016.0L1552.7 1012.1L1553.2 1010.3L1553.6 1011.6L1554.1 1009.9L1554.5 1008.5L1555.0 1011.2L1555.4 1011.7L1555.9 1014.1L1556.3 1014.8L1556.8 1015.2L1557.2 1014.9L1557.7 1016.6L1558.1 1017.2L1558.6 1016.5L1559.0 1018.9L1559.5 1018.2L1559.9 1019.5L1560.4 1019.2L1560.8 1020.2L1561.3 1022.2L1561.7 1024.1L1562.2 1024.8L1562.6 1023.6L1563.1 1025.6L1563.5 1025.7L1564.0 1026.2L1564.4 1027.5L1564.9 1029.3L1565.3 1031.0L1565.8 1029.1L1566.2 1030.6L1566.7 1032.9L1567.1 1032.9L1567.6 1033.4L1568.0 1035.6L1568.5 1034.0L1568.9 1037.8L1569.4 1036.6L1569.8 1039.3L1570.3 1040.3L1570.7 1041.3L1571.2 1041.6L1571.6 1042.7L1572.1 1041.8L1572.5 1044.0L1573.0 1045.7L1573.4 1045.6L1573.9 1047.9L1574.3 1048.4L1574.8 1049.8L1575.2 1051.3L1575.7 1050.5L1576.1 1052.3L1576.6 1051.3L1577.0 1054.5L1577.5 1055.4L1577.9 1055.9L1578.4 1056.7L1578.8 1057.2L1579.3 1057.2L1579.7 1059.5L1580.2 1058.2L1580.6 1060.4L1581.1 1059.6L1581.5 1062.3L1582.0 1062.2L1582.4 1063.2L1582.9 1062.3L1583.3 1063.6L1583.8 1064.8L1584.2 1064.5L1584.7 1065.8L1585.1 1064.2L1585.6 1065.4L1586.0 1065.0L1586.5 1067.3L1586.9 1066.6L1587.4 1068.1L1587.8 1068.4L1588.3 1066.5L1588.7 1068.7L1589.2 1069.6L1589.6 1070.2L1590.1 1067.9L1590.5 1068.2L1591.0 1069.6L1591.4 1070.9L1591.9 1069.1L1592.3 1072.2L1592.8 1071.5L1593.2 1069.6L1593.7 1072.1L1594.1 1071.4L1594.6 1070.8L1595.0 1072.5L1595.5 1072.9L1595.9 1072.8L1596.4 1071.8L1596.8 1071.8L1597.3 1071.6L1597.7 1072.1L1598.2 1072.9L1598.6 1072.9L1599.1 1072.2L1599.5 1074.8L1600.0 1072.8L1600.4 1072.6L1600.9 1073.1L1601.3 1073.9L1601.8 1074.6L1602.2 1073.0L1602.7 1073.3L1603.1 1072.9L1603.6 1074.2L1604.0 1076.2L1604.5 1075.6L1604.9 1075.9L1605.4 1076.1L1605.8 1074.0L1606.3 1075.4L1606.7 1074.8L1607.2 1074.7L1607.6 1076.0L1608.1 1075.4L1608.5 1075.7L1609.0 1074.6L1609.4 1076.8L1609.9 1076.0L1610.3 1076.0L1610.8 1076.4L1611.2 1077.0L1611.7 1074.7L1612.1 1075.0L1612.6 1077.3L1613.0 1076.4L1613.5 1077.2L1613.9 1075.4L1614.4 1077.6L1614.8 1075.8L1615.3 1077.1L1615.7 1077.5L1616.2 1076.3L1616.6 1076.0L1617.1 1076.3L1617.5 1075.1L1618.0 1075.0L1618.4 1077.8L1618.9 1076.9L1619.3 1075.1L1619.8 1076.8L1620.2 1075.7L1620.7 1077.6L1621.1 1076.1L1621.6 1075.0L1622.0 1077.1L1622.5 1078.2L1622.9 1077.4L1623.4 1078.1L1623.8 1075.4L1624.3 1076.0L1624.7 1077.6L1625.2 1076.6L1625.6 1075.7L1626.1 1076.2L1626.5 1076.0L1627.0 1077.4L1627.4 1077.6L1627.9 1077.5L1628.3 1077.2L1628.8 1077.5L1629.2 1078.0L1629.7 1075.9L1630.1 1076.0L1630.6 1078.2L1631.0 1077.9L1631.5 1077.2L1631.9 1077.6L1632.4 1077.1L1632.8 1076.1L1633.3 1076.9L1633.7 1075.8L1634.2 1075.4L1634.6 1076.1L1635.1 1077.6L1635.5 1075.5L1636.0 1075.2L1636.4 1075.8L1636.9 1077.5L1637.3 1077.8L1637.8 1075.9L1638.2 1078.1L1638.7 1076.5L1639.1 1077.2L1639.6 1077.1L1640.0 1076.4L1640.5 1077.6L1640.9 1077.8L1641.4 1076.4L1641.8 1075.9L1642.3 1077.9L1642.7 1077.1L1643.2 1076.0L1643.6 1075.4L1644.1 1076.1L1644.5 1076.3L1645.0 1077.4L1645.4 1077.1L1645.9 1076.4L1646.3 1077.7L1646.8 1076.6L1647.2 1077.5L1647.7 1074.9L1648.1 1075.0L1648.6 1077.5L1649.0 1077.0L1649.5 1075.5L1649.9 1075.0L1650.4 1074.9L1650.8 1075.6L1651.3 1077.4L1651.7 1075.2L1652.2 1075.4L1652.6 1077.2L1653.1 1075.1L1653.5 1075.3L1654.0 1076.9L1654.4 1077.2L1654.9 1077.5L1655.3 1074.6L1655.8 1075.5L1656.2 1076.3L1656.7 1075.4L1657.1 1076.7L1657.6 1075.0L1658.0 1076.2L1658.5 1074.8L1658.9 1074.7L1659.4 1076.8L1659.8 1076.2L1660.3 1076.0L1660.7 1075.4L1661.2 1076.3L1661.6 1077.1L1662.1 1075.2L1662.5 1074.1L1663.0 1074.7L1663.4 1076.4L1663.9 1074.7L1664.3 1076.1L1664.8 1074.3L1665.2 1075.5L1665.7 1074.6L1666.1 1075.1L1666.6 1074.5L1667.0 1075.1L1667.5 1075.4L1667.9 1075.2L1668.4 1074.2L1668.8 1072.9L1669.3 1075.3L1669.7 1072.8L1670.2 1073.6L1670.6 1074.8L1671.1 1075.2L1671.5 1074.3L1672.0 1072.2L1672.4 1074.7L1672.9 1071.7L1673.3 1071.5L1673.8 1073.5L1674.2 1074.0L1674.7 1072.9L1675.1 1073.5L1675.6 1072.6L1676.0 1070.6L1676.5 1072.2L1676.9 1072.4L1677.4 1071.4L1677.8 1071.8L1678.3 1070.8L1678.7 1069.3L1679.2 1071.4L1679.6 1069.0L1680.1 1068.6L1680.5 1068.0L1681.0 1068.3L1681.4 1068.0L1681.9 1067.0L1682.3 1066.4L1682.8 1066.9L1683.2 1065.1L1683.7 1066.2L1684.1 1064.5L1684.6 1064.1L1685.0 1063.6L1685.5 1065.5L1685.9 1065.0L1686.4 1065.1L1686.8 1064.1L1687.3 1062.8L1687.7 1062.0L1688.2 1062.2L1688.6 1061.9L1689.1 1062.6L1689.5 1060.1L1690.0 1061.5L1690.4 1061.2L1690.9 1060.8L1691.3 1059.3L1691.8 1058.8L1692.2 1059.6L1692.7 1057.2L1693.1 1058.0L1693.6 1055.3L1694.0 1055.4L1694.5 1055.8L1694.9 1056.1L1695.4 1053.9L1695.8 1055.5L1696.3 1054.3L1696.7 1052.5L1697.2 1051.7L1697.6 1052.5L1698.1 1053.4L1698.5 1053.4L1699.0 1052.4L1699.4 1050.7L1699.9 1053.2L1700.3 1051.3L1700.8 1052.5L1701.2 1053.8L1701.7 1053.2L1702.1 1053.5L1702.6 1054.3L1703.0 1056.2L1703.5 1055.3L1703.9 1054.5L1704.4 1055.8L1704.8 1056.9L1705.3 1057.2L1705.7 1059.0L1706.2 1058.0L1706.6 1059.4L1707.1 1059.7L1707.5 1059.2L1708.0 1059.5L1708.4 1060.1L1708.9 1059.4L1709.3 1059.8L1709.8 1060.3L1710.2 1060.8L1710.7 1061.0L1711.1 1062.5L1711.6 1062.1L1712.0 1065.1L1712.5 1063.7L1712.9 1062.9L1713.4 1065.4L1713.8 1066.0L1714.3 1067.2L1714.7 1065.4L1715.2 1066.1L1715.6 1067.9L1716.1 1067.9L1716.5 1068.4L1717.0 1069.8L1717.4 1070.4L1717.9 1067.7L1718.3 1069.3L1718.8 1071.5L1719.2 1068.9L1719.7 1070.3L1720.1 1072.1L1720.6 1070.2L1721.0 1072.2L1721.5 1073.6L1721.9 1072.6L1722.4 1071.2L1722.8 1071.8L1723.3 1073.0L1723.7 1072.0L1724.2 1074.3L1724.6 1073.2L1725.1 1073.7L1725.5 1075.3L1726.0 1075.4L1726.4 1075.8L1726.9 1074.1L1727.3 1074.8L1727.8 1075.9L1728.2 1075.7L1728.7 1076.9L1729.1 1075.8L1729.6 1077.6L1730.0 1075.5L1730.5 1077.1L1730.9 1077.7L1731.4 1078.4L1731.8 1076.6L1732.3 1078.3L1732.7 1077.5L1733.2 1077.7L1733.6 1076.6L1734.1 1078.6L1734.5 1076.1L1735.0 1079.1L1735.4 1077.7L1735.9 1077.8L1736.3 1076.5L1736.8 1078.1L1737.2 1076.5L1737.7 1078.7L1738.1 1078.4L1738.6 1076.6L1739.0 1078.6L1739.5 1078.1L1739.9 1077.1L1740.4 1078.2L1740.8 1078.4L1741.3 1077.8L1741.7 1078.4L1742.2 1078.7L1742.6 1079.1L1743.1 1078.9L1743.5 1076.6L1744.0 1079.0L1744.4 1079.3L1744.9 1077.8L1745.3 1079.2L1745.8 1077.0L1746.2 1076.4L1746.7 1077.8L1747.1 1076.7L1747.6 1076.8L1748.0 1077.8L1748.5 1079.5L1748.9 1078.0L1749.4 1079.6L1749.8 1078.0L1750.3 1077.9L1750.7 1076.5L1751.2 1076.7L1751.6 1079.2L1752.1 1078.7L1752.5 1078.3L1753.0 1079.3L1753.4 1078.6L1753.9 1077.4L1754.3 1079.3L1754.8 1078.8L1755.2 1076.8L1755.7 1079.2L1756.1 1077.7L1756.6 1079.3L1757.0 1079.2L1757.5 1079.5L1757.9 1076.9L1758.4 1078.9L1758.8 1077.6L1759.3 1079.3L1759.7 1077.0L1760.2 1079.4L1760.6 1079.7L1761.1 1078.3L1761.5 1078.4L1762.0 1078.6L1762.4 1079.5L1762.9 1076.9L1763.3 1079.4L1763.8 1077.8L1764.2 1077.9L1764.7 1079.4L1765.1 1077.0L1765.6 1077.1L1766.0 1078.8L1766.5 1079.0L1766.9 1077.4L1767.4 1078.9L1767.8 1077.8L1768.3 1076.8L1768.7 1077.5L1769.2 1077.2L1769.6 1078.1L1770.1 1078.1L1770.5 1077.9L1771.0 1079.6L1771.4 1077.9L1771.9 1077.3L1772.3 1079.7L1772.8 1078.7L1773.2 1079.7L1773.7 1078.1L1774.1 1078.6L1774.6 1077.8L1775.0 1079.8L1775.5 1077.6L1775.9 1079.7L1776.4 1077.8L1776.8 1079.2L1777.3 1078.8L1777.7 1079.2L1778.2 1077.4L1778.6 1079.9L1779.1 1078.3L1779.5 1076.9L1780.0 1078.9L1780.4 1076.9L1780.9 1078.8L1781.3 1079.0L1781.8 1077.4L1782.2 1077.1L1782.7 1077.1L1783.1 1078.8L1783.6 1079.1L1784.0 1079.6L1784.5 1077.7L1784.9 1077.0L1785.4 1078.7L1785.8 1079.4L1786.3 1079.0L1786.7 1078.3L1787.2 1077.6L1787.6 1079.0L1788.1 1079.4L1788.5 1077.4L1789.0 1079.0L1789.4 1079.2L1789.9 1079.9L1790.3 1077.9L1790.8 1078.0L1791.2 1076.8L1791.7 1077.2L1792.1 1079.1L1792.6 1077.6L1793.0 1079.6L1793.5 1077.7L1793.9 1079.2L1794.4 1077.9L1794.8 1079.1L1795.3 1078.1L1795.7 1077.4L1796.2 1077.4L1796.6 1077.6L1797.1 1077.1L1797.5 1079.5L1798.0 1079.7L1798.4 1079.2L1798.9 1076.7L1799.3 1079.5L1799.8 1079.2L1800.2 1079.4L1800.7 1078.7L1801.1 1077.4L1801.6 1077.7L1802.0 1077.9L1802.5 1077.3L1802.9 1076.8L1803.4 1079.8L1803.8 1077.9L1804.3 1078.6L1804.7 1077.0L1805.2 1079.4L1805.6 1079.1L1806.1 1076.8L1806.5 1077.3L1807.0 1079.1L1807.4 1076.9L1807.9 1076.8L1808.3 1077.1L1808.8 1077.2L1809.2 1079.2L1809.7 1079.2L1810.1 1078.5L1810.6 1077.7L1811.0 1079.2L1811.5 1078.7L1811.9 1076.9L1812.4 1077.3L1812.8 1078.9L1813.3 1078.5L1813.7 1078.0L1814.2 1078.4L1814.6 1077.5L1815.1 1078.6L1815.5 1077.1L1816.0 1079.9L1816.4 1079.3L1816.9 1078.3L1817.3 1079.8L1817.8 1078.9L1818.2 1078.6L1818.7 1078.8"/>
<path stroke="#CC78FF" d="M212.2 1287.5L212.6 1289.1L213.1 1288.0L213.5 1285.0L214.0 1284.0L214.4 1288.7L214.9 1287.7L215.3 1286.8L215.8 1286.3L216.2 1288.8L216.7 1283.9L217.1 1284.5L217.6 1285.4L218.0 1289.1L218.5 1287.4L218.9 1286.9L219.4 1285.5L219.8 1284.6L220.3 1283.8L220.7 1284.5L221.2 1284.6L221.6 1286.4L222.1 1285.7L222.5 1288.9L223.0 1288.6L223.4 1286.7L223.9 1284.6L224.3 1285.4L224.8 1283.9L225.2 1287.2L225.7 1285.8L226.1 1288.6L226.6 1285.4L227.0 1288.2L227.5 1285.8L227.9 1287.2L228.4 1285.6L228.8 1288.0L229.3 1284.9L229.7 1284.6L230.2 1284.0L230.6 1285.7L231.1 1287.6L231.5 1286.1L232.0 1288.1L232.4 1286.8L232.9 1286.5L233.3 1286.3L233.8 1284.0L234.2 1286.8L234.7 1284.7L235.1 1284.2L235.6 1284.3L236.0 1284.6L236.5 1286.9L236.9 1285.2L237.4 1285.3L237.8 1285.9L238.3 1288.6L238.7 1285.1L239.2 1285.3L239.6 1285.0L240.1 1285.3L240.5 1285.3L241.0 1287.9L241.4 1288.7L241.9 1285.7L242.3 1288.1L242.8 1284.3L243.2 1286.1L243.7 1287.8L244.1 1284.2L244.6 1288.7L245.0 1285.7L245.5 1286.2L245.9 1288.4L246.4 1288.3L246.8 1284.8L247.3 1286.0L247.7 1287.3L248.2 1286.0L248.6 1288.3L249.1 1284.7L249.5 1288.5L250.0 1286.7L250.4 1286.7L250.9 1287.0L251.3 1285.0L251.8 1285.9L252.2 1284.8L252.7 1287.6L253.1 1285.3L253.6 1284.4L254.0 1288.0L254.5 1285.3L254.9 1288.2L255.4 1285.8L255.8 1286.8L256.3 1287.4L256.7 1286.1L257.2 1288.2L257.6 1287.5L258.1 1287.9L258.5 1286.2L259.0 1284.2L259.4 1284.4L259.9 1284.2L260.3 1286.0L260.8 1287.9L261.2 1285.9L261.7 1285.2L262.1 1283.6L262.6 1284.7L263.0 1283.7L263.5 1284.8L263.9 1284.6L264.4 1286.7L264.8 1283.9L265.3 1286.0L265.7 1281.8L266.2 1283.0L266.6 1284.5L267.1 1283.0L267.5 1281.0L268.0 1282.1L268.4 1282.7L268.9 1284.3L269.3 1280.6L269.8 1279.7L270.2 1282.4L270.7 1281.5L271.1 1279.9L271.6 1279.8L272.0 1279.2L272.5 1280.4L272.9 1281.0L273.4 1278.1L273.8 1280.5L274.3 1277.9L274.7 1277.9L275.2 1276.4L275.6 1275.2L276.1 1275.3L276.5 1275.0L277.0 1275.4L277.4 1275.1L277.9 1276.1L278.3 1273.4L278.8 1274.6L279.2 1271.7L279.7 1272.0L280.1 1269.5L280.6 1272.5L281.0 1269.3L281.5 1269.8L281.9 1268.6L282.4 1267.4L282.8 1265.4L283.3 1267.1L283.7 1264.6L284.2 1262.1L284.6 1260.9L285.1 1261.7L285.5 1260.8L286.0 1258.4L286.4 1257.0L286.9 1258.5L287.3 1256.4L287.8 1252.3L288.2 1253.2L288.7 1247.6L289.1 1248.5L289.6 1245.8L290.0 1239.8L290.5 1240.5L290.9 1237.0L291.4 1230.6L291.8 1229.4L292.3 1225.2L292.7 1220.5L293.2 1217.5L293.6 1214.2L294.1 1212.8L294.5 1208.8L295.0 1206.6L295.4 1199.4L295.9 1195.3L296.3 1189.4L296.8 1182.2L297.2 1174.0L297.7 1165.5L298.1 1154.9L298.6 1141.6L299.0 1130.7L299.5 1119.9L299.9 1107.3L300.4 1093.9L300.8 1077.0L301.3 1062.1L301.7 1044.4L302.2 1029.9L302.6 1012.3L303.1 996.5L303.5 980.3L304.0 962.6L304.4 947.3L304.9 936.6L305.3 925.0L305.8 916.9L306.2 908.2L306.7 903.0L307.1 902.3L307.6 907.3L308.0 908.2L308.5 908.7L308.9 914.3L309.4 918.5L309.8 927.2L310.3 934.0L310.7 942.4L311.2 949.7L311.6 957.5L312.1 969.0L312.5 976.4L313.0 987.7L313.4 995.7L313.9 1006.0L314.3 1017.6L314.8 1026.4L315.2 1038.9L315.7 1047.3L316.1 1058.8L316.6 1066.9L317.0 1076.1L317.5 1084.9L317.9 1092.4L318.4 1101.5L318.8 1112.0L319.3 1119.0L319.7 1127.0L320.2 1132.9L320.6 1139.0L321.1 1148.3L321.5 1153.2L322.0 1160.9L322.4 1164.0L322.9 1170.9L323.3 1177.6L323.8 1184.0L324.2 1186.1L324.7 1194.1L325.1 1197.5L325.6 1199.9L326.0 1203.4L326.5 1211.2L326.9 1214.0L327.4 1217.9L327.8 1220.2L328.3 1222.3L328.7 1227.1L329.2 1231.1L329.6 1233.1L330.1 1239.5L330.5 1242.3L331.0 1242.8L331.4 1247.4L331.9 1253.1L332.3 1255.4L332.8 1258.2L333.2 1258.1L333.7 1263.1L334.1 1264.4L334.6 1265.4L335.0 1268.5L335.5 1268.6L335.9 1273.0L336.4 1271.4L336.8 1273.7L337.3 1276.9L337.7 1277.0L338.2 1280.0L338.6 1280.9L339.1 1281.4L339.5 1281.1L340.0 1282.4L340.4 1282.9L340.9 1283.7L341.3 1283.3L341.8 1285.1L342.2 1287.6L342.7 1287.7L343.1 1287.6L343.6 1288.3L344.0 1288.4L344.5 1288.6L344.9 1289.6L345.4 1292.0L345.8 1293.9L346.3 1293.5L346.7 1292.8L347.2 1294.2L347.6 1293.1L348.1 1293.5L348.5 1294.0L349.0 1296.5L349.4 1297.1L349.9 1295.9L350.3 1299.4L350.8 1296.7L351.2 1298.6L351.7 1299.5L352.1 1297.4L352.6 1298.7L353.0 1300.0L353.5 1300.9L353.9 1301.2L354.4 1301.5L354.8 1299.5L355.3 1299.7L355.7 1303.1L356.2 1300.6L356.6 1301.8L357.1 1303.9L357.5 1301.1L358.0 1304.5L358.4 1304.0L358.9 1303.3L359.3 1303.0L359.8 1304.3L360.2 1305.7L360.7 1303.6L361.1 1304.0L361.6 1305.2L362.0 1306.7L362.5 1305.4L362.9 1305.6L363.4 1308.0L363.8 1306.5L364.3 1307.7L364.7 1307.5L365.2 1307.2L365.6 1307.0L366.1 1308.0L366.5 1308.9L367.0 1306.4L367.4 1307.1L367.9 1307.1L368.3 1309.5L368.8 1307.8L369.2 1308.4L369.7 1308.8L370.1 1310.7L370.6 1307.2L371.0 1308.0L371.5 1310.7L371.9 1309.2L372.4 1309.0L372.8 1311.3L373.3 1308.2L373.7 1307.9L374.2 1311.4L374.6 1311.1L375.1 1310.1L375.5 1309.1L376.0 1311.1L376.4 1308.7L376.9 1309.8L377.3 1308.8L377.8 1309.8L378.2 1308.3L378.7 1310.0L379.1 1310.0L379.6 1312.0L380.0 1309.8L380.5 1310.4L380.9 1309.0L381.4 1309.5L381.8 1309.3L382.3 1312.2L382.7 1309.0L383.2 1311.0L383.6 1311.7L384.1 1312.1L384.5 1311.3L385.0 1309.3L385.4 1312.1L385.9 1310.6L386.3 1310.7L386.8 1312.1L387.2 1308.8L387.7 1311.4L388.1 1311.6L388.6 1311.3L389.0 1309.5L389.5 1312.2L389.9 1309.7L390.4 1310.1L390.8 1312.0L391.3 1312.3L391.7 1309.9L392.2 1310.7L392.6 1312.1L393.1 1311.0L393.5 1309.8L394.0 1310.4L394.4 1311.3L394.9 1311.7L395.3 1310.2L395.8 1309.7L396.2 1311.9L396.7 1310.2L397.1 1310.0L397.6 1310.1L398.0 1309.9L398.5 1309.6L398.9 1310.5L399.4 1309.8L399.8 1311.5L400.3 1309.5L400.7 1310.4L401.2 1312.6L401.6 1310.8L402.1 1312.4L402.5 1310.0L403.0 1312.0L403.4 1309.5L403.9 1312.7L404.3 1312.7L404.8 1311.7L405.2 1309.9L405.7 1311.9L406.1 1312.1L406.6 1311.5L407.0 1312.0L407.5 1310.1L407.9 1312.0L408.4 1309.9L408.8 1310.9L409.3 1310.5L409.7 1309.8L410.2 1309.9L410.6 1312.2L411.1 1309.1L411.5 1310.7L412.0 1310.6L412.4 1309.2L412.9 1309.0L413.3 1310.3L413.8 1309.9L414.2 1309.5L414.7 1309.5L415.1 1309.3L415.6 1310.7L416.0 1311.9L416.5 1309.4L416.9 1309.7L417.4 1310.7L417.8 1309.3L418.3 1308.6L418.7 1310.4L419.2 1309.3L419.6 1308.0L420.1 1309.1L420.5 1311.0L421.0 1308.0L421.4 1310.9L421.9 1309.9L422.3 1310.6L422.8 1309.6L423.2 1310.0L423.7 1310.6L424.1 1308.0L424.6 1307.7L425.0 1309.3L425.5 1308.9L425.9 1309.0L426.4 1308.3L426.8 1310.5L427.3 1309.1L427.7 1309.0L428.2 1306.8L428.6 1307.7L429.1 1307.6L429.5 1310.1L430.0 1306.9L430.4 1308.2L430.9 1308.9L431.3 1308.4L431.8 1308.8L432.2 1307.3L432.7 1306.5L433.1 1306.7L433.6 1307.7L434.0 1307.5L434.5 1307.0L434.9 1308.7L435.4 1306.8L435.8 1306.0L436.3 1307.3L436.7 1307.1L437.2 1307.8L437.6 1306.9L438.1 1304.8L438.5 1306.4L439.0 1305.2L439.4 1305.3L439.9 1307.0L440.3 1307.6L440.8 1307.2L441.2 1304.8L441.7 1305.4L442.1 1306.8L442.6 1306.6L443.0 1303.7L443.5 1304.3L443.9 1305.3L444.4 1303.8L444.8 1303.0L445.3 1303.6L445.7 1304.6L446.2 1305.1L446.6 1305.0L447.1 1304.2L447.5 1304.2L448.0 1303.7L448.4 1304.5L448.9 1303.8L449.3 1303.7L449.8 1304.3L450.2 1301.4L450.7 1300.9L451.1 1302.4L451.6 1301.9L452.0 1303.3L452.5 1301.0L452.9 1302.0L453.4 1301.8L453.8 1300.0L454.3 1298.9L454.7 1300.1L455.2 1299.1L455.6 1298.8L456.1 1299.5L456.5 1298.2L457.0 1299.2L457.4 1299.1L457.9 1298.3L458.3 1298.4L458.8 1296.8L459.2 1297.8L459.7 1298.4L460.1 1298.1L460.6 1295.1L461.0 1295.5L461.5 1296.5L461.9 1295.7L462.4 1294.6L462.8 1295.7L463.3 1295.5L463.7 1293.9L464.2 1292.3L464.6 1294.3L465.1 1292.1L465.5 1291.1L466.0 1289.8L466.4 1292.1L466.9 1290.6L467.3 1287.8L467.8 1287.5L468.2 1289.4L468.7 1285.8L469.1 1287.1L469.6 1286.0L470.0 1284.9L470.5 1284.7L470.9 1282.5L471.4 1282.5L471.8 1282.2L472.3 1279.9L472.7 1278.4L473.2 1277.2L473.6 1274.2L474.1 1273.1L474.5 1272.6L475.0 1270.2L475.4 1266.7L475.9 1267.2L476.3 1263.5L476.8 1260.6L477.2 1257.7L477.7 1257.4L478.1 1253.1L478.6 1247.5L479.0 1242.7L479.5 1240.1L479.9 1232.7L480.4 1228.8L480.8 1223.9L481.3 1219.5L481.7 1213.4L482.2 1206.2L482.6 1202.3L483.1 1198.2L483.5 1190.3L484.0 1183.8L484.4 1177.5L484.9 1173.7L485.3 1167.2L485.8 1158.3L486.2 1149.7L486.7 1141.1L487.1 1131.1L487.6 1122.6L488.0 1113.4L488.5 1104.3L488.9 1093.0L489.4 1086.2L489.8 1075.6L490.3 1066.7L490.7 1060.0L491.2 1050.4L491.6 1045.9L492.1 1039.4L492.5 1035.0L493.0 1031.0L493.4 1023.4L493.9 1019.4L494.3 1015.7L494.8 1012.0L495.2 1008.0L495.7 1002.9L496.1 999.4L496.6 998.7L497.0 1002.9L497.5 1007.0L497.9 1010.0L498.4 1016.3L498.8 1019.8L499.3 1022.8L499.7 1025.5L500.2 1030.6L500.6 1033.8L501.1 1039.1L501.5 1041.3L502.0 1047.6L502.4 1051.9L502.9 1057.8L503.3 1061.5L503.8 1067.4L504.2 1070.8L504.7 1077.4L505.1 1082.4L505.6 1090.6L506.0 1096.7L506.5 1100.8L506.9 1108.9L507.4 1114.4L507.8 1124.7L508.3 1135.6L508.7 1142.4L509.2 1153.6L509.6 1161.0L510.1 1169.7L510.5 1174.4L511.0 1182.1L511.4 1187.3L511.9 1193.7L512.3 1199.5L512.8 1204.3L513.2 1208.7L513.7 1215.0L514.1 1221.3L514.6 1227.1L515.0 1232.1L515.5 1237.1L515.9 1241.2L516.4 1246.5L516.8 1253.1L517.3 1256.7L517.7 1261.6L518.2 1264.4L518.6 1266.9L519.1 1268.9L519.5 1273.6L520.0 1274.0L520.4 1277.5L520.9 1277.8L521.3 1282.6L521.8 1281.7L522.2 1284.5L522.7 1287.1L523.1 1286.6L523.6 1289.4L524.0 1289.9L524.5 1293.0L524.9 1291.4L525.4 1292.7L525.8 1295.0L526.3 1296.5L526.7 1297.1L527.2 1296.7L527.6 1298.6L528.1 1298.0L528.5 1300.8L529.0 1300.4L529.4 1303.2L529.9 1302.0L530.3 1301.5L530.8 1302.1L531.2 1303.8L531.7 1304.1L532.1 1307.0L532.6 1307.0L533.0 1306.2L533.5 1306.3L533.9 1306.2L534.4 1306.9L534.8 1309.4L535.3 1307.5L535.7 1310.4L536.2 1309.5L536.6 1310.8L537.1 1311.0L537.5 1309.7L538.0 1312.2L538.4 1312.9L538.9 1310.7L539.3 1313.9L539.8 1313.7L540.2 1313.4L540.7 1314.0L541.1 1312.1L541.6 1313.0L542.0 1315.6L542.5 1315.7L542.9 1313.8L543.4 1315.1L543.8 1314.7L544.3 1314.4L544.7 1316.6L545.2 1316.5L545.6 1314.7L546.1 1316.9L546.5 1314.8L547.0 1315.3L547.4 1316.5L547.9 1315.4L548.3 1317.2L548.8 1317.8L549.2 1316.6L549.7 1318.1L550.1 1316.2L550.6 1316.4L551.0 1317.8L551.5 1316.4L551.9 1318.9L552.4 1319.5L552.8 1316.6L553.3 1319.4L553.7 1318.7L554.2 1320.1L554.6 1319.7L555.1 1320.1L555.5 1320.0L556.0 1320.1L556.4 1319.9L556.9 1320.5L557.3 1317.8L557.8 1320.3L558.2 1320.0L558.7 1319.0L559.1 1319.4L559.6 1318.4L560.0 1319.1L560.5 1320.6L560.9 1320.1L561.4 1321.5L561.8 1319.3L562.3 1319.3L562.7 1321.1L563.2 1321.9L563.6 1320.0L564.1 1320.2L564.5 1319.2L565.0 1319.8L565.4 1322.2L565.9 1322.5L566.3 1320.9L566.8 1322.2L567.2 1320.2L567.7 1321.7L568.1 1322.6L568.6 1320.8L569.0 1321.8L569.5 1322.2L569.9 1320.3L570.4 1320.8L570.8 1321.9L571.3 1320.9L571.7 1320.6L572.2 1320.6L572.6 1322.7L573.1 1321.7L573.5 1322.0L574.0 1322.3L574.4 1321.3L574.9 1322.5L575.3 1321.8L575.8 1320.7L576.2 1322.1L576.7 1322.1L577.1 1322.7L577.6 1323.6L578.0 1320.6L578.5 1322.5L578.9 1322.9L579.4 1322.1L579.8 1322.0L580.3 1323.0L580.7 1322.4L581.2 1322.0L581.6 1322.8L582.1 1322.7L582.5 1321.0L583.0 1321.9L583.4 1323.7L583.9 1321.3L584.3 1322.5L584.8 1322.9L585.2 1321.2L585.7 1321.5L586.1 1321.9L586.6 1322.8L587.0 1321.3L587.5 1323.4L587.9 1323.2L588.4 1323.6L588.8 1321.8L589.3 1322.8L589.7 1323.8L590.2 1322.5L590.6 1322.9L591.1 1322.4L591.5 1323.5L592.0 1323.2L592.4 1323.6L592.9 1324.3L593.3 1323.7L593.8 1323.1L594.2 1322.0L594.7 1322.9L595.1 1324.3L595.6 1324.5L596.0 1321.7L596.5 1323.5L596.9 1321.4L597.4 1321.7L597.8 1322.6L598.3 1321.7L598.7 1323.5L599.2 1323.0L599.6 1322.7L600.1 1324.2L600.5 1322.6L601.0 1322.3L601.4 1322.4L601.9 1321.6L602.3 1323.9L602.8 1323.6L603.2 1322.9L603.7 1324.2L604.1 1322.6L604.6 1322.3L605.0 1321.7L605.5 1322.2L605.9 1323.1L606.4 1322.7L606.8 1323.1L607.3 1321.8L607.7 1321.8L608.2 1323.9L608.6 1323.1L609.1 1324.3L609.5 1324.5L610.0 1322.9L610.4 1323.3L610.9 1324.3L611.3 1322.2L611.8 1324.4L612.2 1323.0L612.7 1322.6L613.1 1323.4L613.6 1324.0L614.0 1324.6L614.5 1324.5L614.9 1322.0L615.4 1322.4L615.8 1323.0L616.3 1322.1L616.7 1323.4L617.2 1323.4L617.6 1323.6L618.1 1323.1L618.5 1322.7L619.0 1323.9L619.4 1322.2L619.9 1322.1L620.3 1324.4L620.8 1322.6L621.2 1322.5L621.7 1322.8L622.1 1323.9L622.6 1322.8L623.0 1324.2L623.5 1324.1L623.9 1323.4L624.4 1325.1L624.8 1324.6L625.3 1322.5L625.7 1322.8L626.2 1322.5L626.6 1324.4L627.1 1322.8L627.5 1323.6L628.0 1322.4L628.4 1325.0L628.9 1324.6L629.3 1324.3L629.8 1324.5L630.2 1323.4L630.7 1322.8L631.1 1322.3L631.6 1323.5L632.0 1325.2L632.5 1322.3L632.9 1322.9L633.4 1324.0L633.8 1322.5L634.3 1323.2L634.7 1324.7L635.2 1323.0L635.6 1323.3L636.1 1323.2L636.5 1323.0L637.0 1324.9L637.4 1325.4L637.9 1324.2L638.3 1323.2L638.8 1323.1L639.2 1324.6L639.7 1324.7L640.1 1325.0L640.6 1322.8L641.0 1323.0L641.5 1323.5L641.9 1323.8L642.4 1325.1L642.8 1322.7L643.3 1323.4L643.7 1322.8L644.2 1325.1L644.6 1324.8L645.1 1325.1L645.5 1323.5L646.0 1324.2L646.4 1325.4L646.9 1322.5L647.3 1325.1L647.8 1325.0L648.2 1323.9L648.7 1325.0L649.1 1325.0L649.6 1323.1L650.0 1325.7L650.5 1325.6L650.9 1323.4L651.4 1325.7L651.8 1324.3L652.3 1324.2L652.7 1325.1L653.2 1325.6L653.6 1323.4L654.1 1323.0L654.5 1325.3L655.0 1324.0L655.4 1324.4L655.9 1324.2L656.3 1325.5L656.8 1324.5L657.2 1324.9L657.7 1325.2L658.1 1322.7L658.6 1324.5L659.0 1324.6L659.5 1323.0L659.9 1323.2L660.4 1322.9L660.8 1324.1L661.3 1325.2L661.7 1323.5L662.2 1325.6L662.6 1323.0L663.1 1323.9L663.5 1323.5L664.0 1325.9L664.4 1323.3L664.9 1325.6L665.3 1324.5L665.8 1323.7L666.2 1324.2L666.7 1323.2L667.1 1324.8L667.6 1325.0L668.0 1324.3L668.5 1325.4L668.9 1325.4L669.4 1325.1L669.8 1325.3L670.3 1324.3L670.7 1323.4L671.2 1324.6L671.6 1324.4L672.1 1323.4L672.5 1325.2L673.0 1324.4L673.4 1325.2L673.9 1323.6L674.3 1323.7L674.8 1323.3L675.2 1325.9L675.7 1325.2L676.1 1324.0L676.6 1323.2L677.0 1324.1L677.5 1325.6L677.9 1326.0L678.4 1323.6L678.8 1326.1L679.3 1323.7L679.7 1323.2L680.2 1323.5L680.6 1323.2L681.1 1323.9L681.5 1325.6L682.0 1324.7L682.4 1325.7L682.9 1323.5L683.3 1325.6L683.8 1323.6L684.2 1324.2L684.7 1326.2L685.1 1325.6L685.6 1325.6L686.0 1325.3L686.5 1324.4L686.9 1325.3L687.4 1324.7L687.8 1325.8L688.3 1325.5L688.7 1326.2L689.2 1326.0L689.6 1326.0L690.1 1323.6L690.5 1323.4L691.0 1324.6L691.4 1326.4L691.9 1325.3L692.3 1325.3L692.8 1326.1L693.2 1325.5L693.7 1323.8L694.1 1325.0L694.6 1326.3L695.0 1326.1L695.5 1323.7L695.9 1326.7L696.4 1325.2L696.8 1324.4L697.3 1324.9L697.7 1326.6L698.2 1326.4L698.6 1324.7L699.1 1325.6L699.5 1323.8L700.0 1326.1L700.4 1323.8L700.9 1325.9L701.3 1324.6L701.8 1324.1L702.2 1324.1L702.7 1326.8L703.1 1324.4L703.6 1325.2L704.0 1324.2L704.5 1325.3L704.9 1326.3L705.4 1324.5L705.8 1326.0L706.3 1324.9L706.7 1324.1L707.2 1326.4L707.6 1324.8L708.1 1325.8L708.5 1326.8L709.0 1326.1L709.4 1324.8L709.9 1325.8L710.3 1326.2L710.8 1324.5L711.2 1326.9L711.7 1324.6L712.1 1323.9L712.6 1325.6L713.0 1325.4L713.5 1324.4L713.9 1325.4L714.4 1324.8L714.8 1326.5L715.3 1325.5L715.7 1325.6L716.2 1324.4L716.6 1327.0L717.1 1324.7L717.5 1325.8L718.0 1326.5L718.4 1325.6L718.9 1325.0L719.3 1326.0L719.8 1326.3L720.2 1324.4L720.7 1324.8L721.1 1324.6L721.6 1324.1L722.0 1326.0L722.5 1327.3L722.9 1324.9L723.4 1327.1L723.8 1325.3L724.3 1327.0L724.7 1324.4L725.2 1325.1L725.6 1326.8L726.1 1327.0L726.5 1326.7L727.0 1326.3L727.4 1325.1L727.9 1327.3L728.3 1326.0L728.8 1326.8L729.2 1325.4L729.7 1327.2L730.1 1326.2L730.6 1326.5L731.0 1324.6L731.5 1325.5L731.9 1324.5L732.4 1325.4L732.8 1326.1L733.3 1325.2L733.7 1324.3L734.2 1325.6L734.6 1326.7L735.1 1325.5L735.5 1326.8L736.0 1325.5L736.4 1326.1L736.9 1325.3L737.3 1324.6L737.8 1326.8L738.2 1326.0L738.7 1326.9L739.1 1326.9L739.6 1326.9L740.0 1325.6L740.5 1325.3L740.9 1325.1L741.4 1325.9L741.8 1326.3L742.3 1327.2L742.7 1327.6L743.2 1326.8L743.6 1326.3L744.1 1325.4L744.5 1326.3L745.0 1325.4L745.4 1327.3L745.9 1325.2L746.3 1325.8L746.8 1325.2L747.2 1325.2L747.7 1327.0L748.1 1325.2L748.6 1325.6L749.0 1324.7L749.5 1327.5L749.9 1327.4L750.4 1325.8L750.8 1327.5L751.3 1325.3L751.7 1325.4L752.2 1326.4L752.6 1325.3L753.1 1327.5L753.5 1327.7L754.0 1325.0L754.4 1326.1L754.9 1326.0L755.3 1327.8L755.8 1327.8L756.2 1324.9L756.7 1327.7L757.1 1326.8L757.6 1326.2L758.0 1326.1L758.5 1327.5L758.9 1325.1L759.4 1326.0L759.8 1325.0L760.3 1326.0L760.7 1327.3L761.2 1327.4L761.6 1325.2L762.1 1325.6L762.5 1327.0L763.0 1325.3L763.4 1324.9L763.9 1327.6L764.3 1324.9L764.8 1327.7L765.2 1326.7L765.7 1326.1L766.1 1325.8L766.6 1326.1L767.0 1327.7L767.5 1326.7L767.9 1325.3L768.4 1326.7L768.8 1325.9L769.3 1327.8L769.7 1325.4L770.2 1326.5L770.6 1325.0L771.1 1325.8L771.5 1327.2L772.0 1326.9L772.4 1327.9L772.9 1325.5L773.3 1326.5L773.8 1325.3L774.2 1327.2L774.7 1325.3L775.1 1328.0L775.6 1326.6L776.0 1326.7L776.5 1326.2L776.9 1326.3L777.4 1327.8L777.8 1327.5L778.3 1326.3L778.7 1327.7L779.2 1326.3L779.6 1325.3L780.1 1325.8L780.5 1326.5L781.0 1326.5L781.4 1325.7L781.9 1327.4L782.3 1325.9L782.8 1327.2L783.2 1326.8L783.7 1327.2L784.1 1328.0L784.6 1327.4L785.0 1327.1L785.5 1327.4L785.9 1326.8L786.4 1328.4L786.8 1327.8L787.3 1325.7L787.7 1325.7L788.2 1326.6L788.6 1328.2L789.1 1325.7L789.5 1326.0L790.0 1328.5L790.4 1327.7L790.9 1327.0L791.3 1325.8L791.8 1325.4L792.2 1326.3L792.7 1325.9L793.1 1328.1L793.6 1327.0L794.0 1326.9L794.5 1327.3L794.9 1326.9L795.4 1326.1L795.8 1327.7L796.3 1327.7L796.7 1328.3L797.2 1326.9L797.6 1325.8L798.1 1328.5L798.5 1325.4L799.0 1325.9L799.4 1327.7L799.9 1328.2L800.3 1328.4L800.8 1327.3L801.2 1326.3L801.7 1325.5L802.1 1327.8L802.6 1327.5L803.0 1325.8L803.5 1327.9L803.9 1328.5L804.4 1326.1L804.8 1327.4L805.3 1326.8L805.7 1327.5L806.2 1325.9L806.6 1328.4L807.1 1326.5L807.5 1327.6L808.0 1326.3L808.4 1326.1L808.9 1328.6L809.3 1326.4L809.8 1328.6L810.2 1328.3L810.7 1327.4L811.1 1327.4L811.6 1325.7L812.0 1328.1L812.5 1327.8L812.9 1327.5L813.4 1328.2L813.8 1327.1L814.3 1326.9L814.7 1328.0L815.2 1327.2L815.6 1327.6L816.1 1326.2L816.5 1326.3L817.0 1326.3L817.4 1328.3L817.9 1328.9L818.3 1328.8L818.8 1327.5L819.2 1328.2L819.7 1326.1L820.1 1326.8L820.6 1328.7L821.0 1326.7L821.5 1326.3L821.9 1327.1L822.4 1328.2L822.8 1328.9L823.3 1325.9L823.7 1327.8L824.2 1328.5L824.6 1328.4L825.1 1328.7L825.5 1327.9L826.0 1328.5L826.4 1327.1L826.9 1327.7L827.3 1327.6L827.8 1327.3L828.2 1327.3L828.7 1328.1L829.1 1326.3L829.6 1328.5L830.0 1328.1L830.5 1326.5L830.9 1327.0L831.4 1328.6L831.8 1327.3L832.3 1328.6L832.7 1327.2L833.2 1329.1L833.6 1327.2L834.1 1329.1L834.5 1327.2L835.0 1327.3L835.4 1326.5L835.9 1328.5L836.3 1326.2L836.8 1328.5L837.2 1327.6L837.7 1328.7L838.1 1328.0L838.6 1329.0L839.0 1327.6L839.5 1326.7L839.9 1329.0L840.4 1328.9L840.8 1328.7L841.3 1327.9L841.7 1326.9L842.2 1326.1L842.6 1328.6L843.1 1328.2L843.5 1327.5L844.0 1327.7L844.4 1328.6L844.9 1326.8L845.3 1326.1L845.8 1326.4L846.2 1329.3L846.7 1326.8L847.1 1329.2L847.6 1326.2L848.0 1328.3L848.5 1327.8L848.9 1327.7L849.4 1326.1L849.8 1328.0L850.3 1328.1L850.7 1328.8L851.2 1328.8L851.6 1328.8L852.1 1326.3L852.5 1329.0L853.0 1327.8L853.4 1329.0L853.9 1329.1L854.3 1326.4L854.8 1327.5L855.2 1327.8L855.7 1328.1L856.1 1329.2L856.6 1326.3L857.0 1328.2L857.5 1327.8L857.9 1326.7L858.4 1328.4L858.8 1328.6L859.3 1326.6L859.7 1326.6L860.2 1327.8L860.6 1329.3L861.1 1328.9L861.5 1328.4L862.0 1327.5L862.4 1329.3L862.9 1327.8L863.3 1326.7L863.8 1328.2L864.2 1326.6L864.7 1329.1L865.1 1327.9L865.6 1328.7L866.0 1329.1L866.5 1328.9L866.9 1328.9L867.4 1328.9L867.8 1327.6L868.3 1326.4L868.7 1327.2L869.2 1328.4L869.6 1327.4L870.1 1329.5L870.5 1327.4L871.0 1328.6L871.4 1326.8L871.9 1327.8L872.3 1329.0L872.8 1329.3L873.2 1326.6L873.7 1329.0L874.1 1329.5L874.6 1326.5L875.0 1329.0L875.5 1326.6L875.9 1328.6L876.4 1329.6L876.8 1326.7L877.3 1328.8L877.7 1326.8L878.2 1328.3L878.6 1327.6L879.1 1328.3L879.5 1328.9L880.0 1327.1L880.4 1327.4L880.9 1326.8L881.3 1327.8L881.8 1326.7L882.2 1326.6L882.7 1328.9L883.1 1328.8L883.6 1326.6L884.0 1328.6L884.5 1328.7L884.9 1327.6L885.4 1327.5L885.8 1327.3L886.3 1328.5L886.7 1327.0L887.2 1328.3L887.6 1327.9L888.1 1328.2L888.5 1329.0L889.0 1327.3L889.4 1327.6L889.9 1328.1L890.3 1327.6L890.8 1328.8L891.2 1327.0L891.7 1329.5L892.1 1329.6L892.6 1327.0L893.0 1328.2L893.5 1327.7L893.9 1327.7L894.4 1327.3L894.8 1328.4L895.3 1329.2L895.7 1327.4L896.2 1329.2L896.6 1329.1L897.1 1328.7L897.5 1329.5L898.0 1328.6L898.4 1329.2L898.9 1329.7L899.3 1329.4L899.8 1328.5L900.2 1327.6L900.7 1328.6L901.1 1329.0L901.6 1329.0L902.0 1328.0L902.5 1329.1L902.9 1327.8L903.4 1327.1L903.8 1329.8L904.3 1329.7L904.7 1328.1L905.2 1328.5L905.6 1326.8L906.1 1329.8L906.5 1327.9L907.0 1328.7L907.4 1327.2L907.9 1327.2L908.3 1328.7L908.8 1328.9L909.2 1329.9L909.7 1329.0L910.1 1328.8L910.6 1328.7L911.0 1327.7L911.5 1328.0L911.9 1328.8L912.4 1327.3L912.8 1327.8L913.3 1327.4L913.7 1327.0L914.2 1328.3L914.6 1328.0L915.1 1328.6L915.5 1328.1L916.0 1327.1L916.4 1329.6L916.9 1327.0L917.3 1326.9L917.8 1326.9L918.2 1329.4L918.7 1328.1L919.1 1329.9L919.6 1327.9L920.0 1328.2L920.5 1329.1L920.9 1329.9L921.4 1329.8L921.8 1328.1L922.3 1329.1L922.7 1327.1L923.2 1328.8L923.6 1329.0L924.1 1327.8L924.5 1329.0L925.0 1327.9L925.4 1329.4L925.9 1327.2L926.3 1328.6L926.8 1330.0L927.2 1329.0L927.7 1330.0L928.1 1330.0L928.6 1329.4L929.0 1329.6L929.5 1329.4L929.9 1328.6L930.4 1329.5L930.8 1329.5L931.3 1329.8L931.7 1327.0L932.2 1327.1L932.6 1328.5L933.1 1329.3L933.5 1328.4L934.0 1328.3L934.4 1327.1L934.9 1329.0L935.3 1330.1L935.8 1329.0L936.2 1327.8L936.7 1329.1L937.1 1328.3L937.6 1328.2L938.0 1327.3L938.5 1329.4L938.9 1327.1L939.4 1329.8L939.8 1327.1L940.3 1329.6L940.7 1328.2L941.2 1328.2L941.6 1328.7L942.1 1327.7L942.5 1327.8L943.0 1329.4L943.4 1330.0L943.9 1327.6L944.3 1328.0L944.8 1330.3L945.2 1329.3L945.7 1330.1L946.1 1328.4L946.6 1329.6L947.0 1329.4L947.5 1329.5L947.9 1328.7L948.4 1328.1L948.8 1328.3L949.3 1327.6L949.7 1327.4L950.2 1328.4L950.6 1329.9L951.1 1328.2L951.5 1329.0L952.0 1329.8L952.4 1327.5L952.9 1328.4L953.3 1328.4L953.8 1329.5L954.2 1330.1L954.7 1327.2L955.1 1329.0L955.6 1327.2L956.0 1328.2L956.5 1328.5L956.9 1328.1L957.4 1328.6L957.8 1328.4L958.3 1328.8L958.7 1328.0L959.2 1328.5L959.6 1328.0L960.1 1328.6L960.5 1329.5L961.0 1327.4L961.4 1330.5L961.9 1327.7L962.3 1329.8L962.8 1328.2L963.2 1327.5L963.7 1329.8L964.1 1329.1L964.6 1328.1L965.0 1328.5L965.5 1330.1L965.9 1329.6L966.4 1328.2L966.8 1328.1L967.3 1329.1L967.7 1327.7L968.2 1328.0L968.6 1329.9L969.1 1329.6L969.5 1327.4L970.0 1328.7L970.4 1328.6L970.9 1329.7L971.3 1328.7L971.8 1328.1L972.2 1330.0L972.7 1327.9L973.1 1329.4L973.6 1328.2L974.0 1329.3L974.5 1327.9L974.9 1330.1L975.4 1328.5L975.8 1329.5L976.3 1329.7L976.7 1328.8L977.2 1329.1L977.6 1327.7L978.1 1329.1L978.5 1329.1L979.0 1330.2L979.4 1328.5L979.9 1327.8L980.3 1328.7L980.8 1329.9L981.2 1327.4L981.7 1327.5L982.1 1330.6L982.6 1329.1L983.0 1329.7L983.5 1328.9L983.9 1328.0L984.4 1329.5L984.8 1328.1L985.3 1328.8L985.7 1328.1L986.2 1330.3L986.6 1328.6L987.1 1329.6L987.5 1328.0L988.0 1329.3L988.4 1328.3L988.9 1327.8L989.3 1328.4L989.8 1327.6L990.2 1329.3L990.7 1329.2L991.1 1330.1L991.6 1327.5L992.0 1328.7L992.5 1330.5L992.9 1328.5L993.4 1327.6L993.8 1330.0L994.3 1327.7L994.7 1329.7L995.2 1329.1L995.6 1330.2L996.1 1329.0L996.5 1329.6L997.0 1328.2L997.4 1330.5L997.9 1328.1L998.3 1330.1L998.8 1329.6L999.2 1328.9L999.7 1328.6L1000.1 1327.7L1000.6 1329.9L1001.0 1328.1L1001.5 1330.2L1001.9 1330.2L1002.4 1328.1L1002.8 1328.3L1003.3 1329.7L1003.7 1329.8L1004.2 1327.6L1004.6 1330.0L1005.1 1330.0L1005.5 1329.4L1006.0 1330.3L1006.4 1330.5L1006.9 1328.1L1007.3 1330.4L1007.8 1330.2L1008.2 1329.3L1008.7 1327.8L1009.1 1330.5L1009.6 1329.8L1010.0 1328.6L1010.5 1328.4L1010.9 1330.4L1011.4 1328.1L1011.8 1330.0L1012.3 1328.8L1012.7 1329.6L1013.2 1330.0L1013.6 1327.7L1014.1 1328.2L1014.5 1327.8L1015.0 1328.7L1015.4 1327.9L1015.9 1330.3L1016.3 1329.9L1016.8 1329.3L1017.2 1328.0L1017.7 1328.1L1018.1 1329.3L1018.6 1330.3L1019.0 1330.4L1019.5 1330.4L1019.9 1328.4L1020.4 1329.6L1020.8 1329.1L1021.3 1329.2L1021.7 1329.6L1022.2 1328.3L1022.6 1328.3L1023.1 1328.7L1023.5 1328.1L1024.0 1330.2L1024.4 1328.6L1024.9 1327.5L1025.3 1329.4L1025.8 1330.6L1026.2 1329.2L1026.7 1328.3L1027.1 1330.3L1027.6 1329.4L1028.0 1329.4L1028.5 1328.9L1028.9 1329.9L1029.4 1329.5L1029.8 1329.1L1030.3 1328.5L1030.7 1329.9L1031.2 1330.3L1031.6 1327.7L1032.1 1327.5L1032.5 1327.7L1033.0 1330.2L1033.4 1329.4L1033.9 1328.7L1034.3 1330.5L1034.8 1330.4L1035.2 1328.8L1035.7 1328.6L1036.1 1329.1L1036.6 1329.3L1037.0 1330.1L1037.5 1330.2L1037.9 1328.3L1038.4 1330.1L1038.8 1327.6L1039.3 1328.1L1039.7 1328.7L1040.2 1327.6L1040.6 1328.5L1041.1 1327.5L1041.5 1330.0L1042.0 1329.6L1042.4 1328.2L1042.9 1329.1L1043.3 1328.6L1043.8 1330.0L1044.2 1328.3L1044.7 1328.2L1045.1 1329.9L1045.6 1329.8L1046.0 1329.7L1046.5 1327.6L1046.9 1327.5L1047.4 1330.4L1047.8 1330.5L1048.3 1328.1L1048.7 1329.0L1049.2 1328.9L1049.6 1328.3L1050.1 1327.7L1050.5 1328.2L1051.0 1330.5L1051.4 1328.8L1051.9 1328.1L1052.3 1327.6L1052.8 1329.5L1053.2 1330.1L1053.7 1328.2L1054.1 1329.8L1054.6 1327.5L1055.0 1327.8L1055.5 1329.4L1055.9 1327.7L1056.4 1328.9L1056.8 1329.0L1057.3 1327.5L1057.7 1330.0L1058.2 1329.8L1058.6 1329.9L1059.1 1329.5L1059.5 1328.3L1060.0 1329.6L1060.4 1329.2L1060.9 1329.4L1061.3 1329.8L1061.8 1328.3L1062.2 1330.3L1062.7 1328.9L1063.1 1328.4L1063.6 1329.1L1064.0 1330.5L1064.5 1329.7L1064.9 1327.7L1065.4 1328.3L1065.8 1329.6L1066.3 1330.5L1066.7 1329.1L1067.2 1329.1L1067.6 1327.4L1068.1 1327.9L1068.5 1330.0L1069.0 1328.2L1069.4 1329.1L1069.9 1329.6L1070.3 1329.3L1070.8 1329.9L1071.2 1329.5L1071.7 1328.4L1072.1 1329.3L1072.6 1329.6L1073.0 1327.6L1073.5 1330.5L1073.9 1329.4L1074.4 1330.5L1074.8 1330.2L1075.3 1327.5L1075.7 1327.7L1076.2 1330.1L1076.6 1328.2L1077.1 1330.3L1077.5 1330.5L1078.0 1329.9L1078.4 1329.4L1078.9 1328.8L1079.3 1330.3L1079.8 1329.4L1080.2 1327.7L1080.7 1329.7L1081.1 1328.5L1081.6 1327.8L1082.0 1328.6L1082.5 1330.1L1082.9 1329.8L1083.4 1328.6L1083.8 1330.0L1084.3 1329.2L1084.7 1328.5L1085.2 1327.7L1085.6 1329.6L1086.1 1328.2L1086.5 1329.0L1087.0 1328.2L1087.4 1329.4L1087.9 1327.6L1088.3 1328.3L1088.8 1329.4L1089.2 1330.1L1089.7 1329.7L1090.1 1328.3L1090.6 1328.7L1091.0 1329.0L1091.5 1330.4L1091.9 1327.9L1092.4 1329.8L1092.8 1327.6L1093.3 1329.9L1093.7 1327.5L1094.2 1328.4L1094.6 1328.2L1095.1 1329.1L1095.5 1327.9L1096.0 1329.4L1096.4 1329.9L1096.9 1329.0L1097.3 1326.7L1097.8 1326.8L1098.2 1329.0L1098.7 1327.6L1099.1 1327.8L1099.6 1328.8L1100.0 1328.2L1100.5 1327.5L1100.9 1326.7L1101.4 1325.8L1101.8 1325.8L1102.3 1325.5L1102.7 1326.4L1103.2 1328.1L1103.6 1325.2L1104.1 1326.4L1104.5 1326.5L1105.0 1327.4L1105.4 1327.4L1105.9 1326.2L1106.3 1325.8L1106.8 1326.0L1107.2 1325.0L1107.7 1325.9L1108.1 1325.9L1108.6 1323.8L1109.0 1324.6L1109.5 1323.7L1109.9 1322.9L1110.4 1323.7L1110.8 1324.1L1111.3 1323.6L1111.7 1323.0L1112.2 1323.4L1112.6 1323.0L1113.1 1321.3L1113.5 1323.2L1114.0 1323.4L1114.4 1322.1L1114.9 1322.5L1115.3 1321.0L1115.8 1322.4L1116.2 1321.2L1116.7 1321.6L1117.1 1321.4L1117.6 1320.3L1118.0 1319.3L1118.5 1321.3L1118.9 1320.7L1119.4 1318.9L1119.8 1318.5L1120.3 1319.7L1120.7 1319.0L1121.2 1317.1L1121.6 1318.5L1122.1 1316.6L1122.5 1317.8L1123.0 1315.1L1123.4 1317.4L1123.9 1315.1L1124.3 1316.5L1124.8 1314.0L1125.2 1314.0L1125.7 1313.2L1126.1 1313.9L1126.6 1312.5L1127.0 1313.5L1127.5 1313.2L1127.9 1313.1L1128.4 1311.8L1128.8 1311.3L1129.3 1310.4L1129.7 1310.8L1130.2 1310.6L1130.6 1309.4L1131.1 1310.0L1131.5 1308.4L1132.0 1308.8L1132.4 1308.1L1132.9 1308.4L1133.3 1308.9L1133.8 1306.1L1134.2 1307.1L1134.7 1305.6L1135.1 1306.1L1135.6 1307.0L1136.0 1306.3L1136.5 1306.2L1136.9 1306.2L1137.4 1304.3L1137.8 1304.1L1138.3 1303.2L1138.7 1303.3L1139.2 1303.8L1139.6 1303.6L1140.1 1303.7L1140.5 1303.3L1141.0 1302.1L1141.4 1304.5L1141.9 1305.4L1142.3 1305.9L1142.8 1303.5L1143.2 1304.9L1143.7 1305.7L1144.1 1306.4L1144.6 1307.3L1145.0 1305.2L1145.5 1308.4L1145.9 1307.2L1146.4 1309.3L1146.8 1309.1L1147.3 1308.2L1147.7 1310.3L1148.2 1309.1L1148.6 1308.4L1149.1 1309.0L1149.5 1310.5L1150.0 1311.5L1150.4 1310.5L1150.9 1312.8L1151.3 1311.0L1151.8 1313.6L1152.2 1312.9L1152.7 1313.5L1153.1 1312.7L1153.6 1313.5L1154.0 1313.3L1154.5 1314.2L1154.9 1315.6L1155.4 1315.7L1155.8 1316.2L1156.3 1315.3L1156.7 1315.3L1157.2 1316.6L1157.6 1318.1L1158.1 1317.6L1158.5 1316.5L1159.0 1318.6L1159.4 1319.3L1159.9 1319.1L1160.3 1319.4L1160.8 1319.6L1161.2 1319.6L1161.7 1319.3L1162.1 1320.7L1162.6 1320.0L1163.0 1319.5L1163.5 1322.1L1163.9 1322.4L1164.4 1320.1L1164.8 1322.5L1165.3 1322.1L1165.7 1321.4L1166.2 1321.5L1166.6 1321.1L1167.1 1322.2L1167.5 1321.7L1168.0 1323.3L1168.4 1324.4L1168.9 1322.5L1169.3 1322.5L1169.8 1323.5L1170.2 1322.4L1170.7 1322.6L1171.1 1322.9L1171.6 1325.1L1172.0 1324.2L1172.5 1325.3L1172.9 1325.6L1173.4 1324.1L1173.8 1323.8L1174.3 1323.6L1174.7 1325.9L1175.2 1325.4L1175.6 1326.5L1176.1 1326.1L1176.5 1324.6L1177.0 1325.8L1177.4 1325.6L1177.9 1324.9L1178.3 1325.0L1178.8 1327.0L1179.2 1326.9L1179.7 1326.3L1180.1 1325.5L1180.6 1326.0L1181.0 1326.7L1181.5 1327.7L1181.9 1326.8L1182.4 1328.0L1182.8 1326.8L1183.3 1327.6L1183.7 1328.2L1184.2 1327.2L1184.6 1327.4L1185.1 1326.2L1185.5 1326.4L1186.0 1328.3L1186.4 1326.5L1186.9 1326.8L1187.3 1327.8L1187.8 1329.3L1188.2 1329.5L1188.7 1328.8L1189.1 1327.5L1189.6 1327.0L1190.0 1327.7L1190.5 1326.6L1190.9 1327.3L1191.4 1328.7L1191.8 1328.4L1192.3 1329.4L1192.7 1327.5L1193.2 1327.8L1193.6 1328.8L1194.1 1327.3L1194.5 1327.2L1195.0 1329.6L1195.4 1327.6L1195.9 1329.3L1196.3 1327.8L1196.8 1329.4L1197.2 1329.2L1197.7 1327.5L1198.1 1326.7L1198.6 1328.7L1199.0 1327.7L1199.5 1327.6L1199.9 1328.9L1200.4 1327.9L1200.8 1327.5L1201.3 1329.4L1201.7 1329.2L1202.2 1329.2L1202.6 1327.7L1203.1 1329.8L1203.5 1328.3L1204.0 1327.7L1204.4 1327.1L1204.9 1329.3L1205.3 1328.9L1205.8 1329.7L1206.2 1327.0L1206.7 1326.9L1207.1 1329.5L1207.6 1327.5L1208.0 1327.8L1208.5 1327.1L1208.9 1328.3L1209.4 1327.4L1209.8 1326.9L1210.3 1329.8L1210.7 1327.2L1211.2 1327.9L1211.6 1327.4L1212.1 1329.4L1212.5 1329.3L1213.0 1329.7L1213.4 1328.3L1213.9 1329.3L1214.3 1329.4L1214.8 1329.5L1215.2 1327.3L1215.7 1328.4L1216.1 1328.9L1216.6 1327.8L1217.0 1329.4L1217.5 1328.9L1217.9 1329.4L1218.4 1329.3L1218.8 1328.3L1219.3 1327.3L1219.7 1327.7L1220.2 1328.5L1220.6 1329.9L1221.1 1327.6L1221.5 1329.5L1222.0 1327.7L1222.4 1328.8L1222.9 1329.8L1223.3 1328.4L1223.8 1327.6L1224.2 1327.9L1224.7 1329.3L1225.1 1329.1L1225.6 1329.0L1226.0 1327.7L1226.5 1329.4L1226.9 1329.7L1227.4 1328.5L1227.8 1327.9L1228.3 1329.0L1228.7 1329.5L1229.2 1328.5L1229.6 1328.8L1230.1 1329.4L1230.5 1330.0L1231.0 1327.3L1231.4 1329.3L1231.9 1327.3L1232.3 1327.9L1232.8 1329.2L1233.2 1327.6L1233.7 1329.2L1234.1 1329.6L1234.6 1329.3L1235.0 1329.7L1235.5 1329.1L1235.9 1328.7L1236.4 1330.3L1236.8 1328.2L1237.3 1327.7L1237.7 1328.7L1238.2 1329.0L1238.6 1328.3L1239.1 1330.2L1239.5 1328.2L1240.0 1327.7L1240.4 1328.9L1240.9 1327.9L1241.3 1329.2L1241.8 1328.1L1242.2 1328.4L1242.7 1329.4L1243.1 1329.4L1243.6 1327.3L1244.0 1329.0L1244.5 1329.0L1244.9 1328.4L1245.4 1328.4L1245.8 1329.2L1246.3 1329.7L1246.7 1329.7L1247.2 1329.9L1247.6 1328.9L1248.1 1328.1L1248.5 1329.6L1249.0 1327.8L1249.4 1327.3L1249.9 1327.7L1250.3 1327.4L1250.8 1328.6L1251.2 1328.5L1251.7 1330.4L1252.1 1330.0L1252.6 1329.9L1253.0 1329.7L1253.5 1327.9L1253.9 1327.8L1254.4 1329.9L1254.8 1329.8L1255.3 1327.5L1255.7 1328.7L1256.2 1328.2L1256.6 1329.1L1257.1 1328.8L1257.5 1328.8L1258.0 1329.3L1258.4 1329.8L1258.9 1330.2L1259.3 1328.9L1259.8 1328.6L1260.2 1330.1L1260.7 1327.4L1261.1 1329.8L1261.6 1327.6L1262.0 1328.3L1262.5 1330.3L1262.9 1328.4L1263.4 1327.6L1263.8 1327.8L1264.3 1330.5L1264.7 1328.7L1265.2 1328.6L1265.6 1330.3L1266.1 1330.1L1266.5 1328.2L1267.0 1327.8L1267.4 1330.3L1267.9 1328.7L1268.3 1328.9L1268.8 1327.9L1269.2 1328.8L1269.7 1330.3L1270.1 1330.4L1270.6 1328.1L1271.0 1329.5L1271.5 1327.9L1271.9 1329.1L1272.4 1330.0L1272.8 1328.3L1273.3 1329.4L1273.7 1328.1L1274.2 1328.4L1274.6 1329.5L1275.1 1328.6L1275.5 1328.2L1276.0 1328.5L1276.4 1329.9L1276.9 1328.8L1277.3 1329.4L1277.8 1328.4L1278.2 1329.5L1278.7 1327.7L1279.1 1327.7L1279.6 1328.2L1280.0 1330.1L1280.5 1328.1L1280.9 1328.9L1281.4 1330.7L1281.8 1328.3L1282.3 1328.0L1282.7 1328.4L1283.2 1329.3L1283.6 1330.4L1284.1 1327.7L1284.5 1329.3L1285.0 1327.6L1285.4 1330.7L1285.9 1329.0L1286.3 1329.7L1286.8 1328.4L1287.2 1329.1L1287.7 1330.2L1288.1 1328.0L1288.6 1328.3L1289.0 1328.6L1289.5 1330.2L1289.9 1330.5L1290.4 1330.0L1290.8 1328.4L1291.3 1328.6L1291.7 1330.0L1292.2 1329.0L1292.6 1328.7L1293.1 1330.8L1293.5 1328.4L1294.0 1330.1L1294.4 1328.2L1294.9 1330.6L1295.3 1328.6L1295.8 1330.6L1296.2 1329.9L1296.7 1330.4L1297.1 1329.7L1297.6 1328.0L1298.0 1328.9L1298.5 1330.8L1298.9 1328.1L1299.4 1329.4L1299.8 1329.3L1300.3 1329.1L1300.7 1328.6L1301.2 1328.7L1301.6 1328.3L1302.1 1328.5L1302.5 1327.8L1303.0 1330.1L1303.4 1330.5L1303.9 1328.4L1304.3 1327.9L1304.8 1328.9L1305.2 1328.0L1305.7 1329.1L1306.1 1328.5L1306.6 1329.5L1307.0 1330.1L1307.5 1330.5L1307.9 1330.0L1308.4 1330.4L1308.8 1330.9L1309.3 1329.0L1309.7 1328.2L1310.2 1328.3L1310.6 1329.2L1311.1 1329.9L1311.5 1330.4L1312.0 1328.3L1312.4 1329.4L1312.9 1328.0L1313.3 1329.6L1313.8 1330.5L1314.2 1328.8L1314.7 1329.9L1315.1 1329.8L1315.6 1329.9L1316.0 1328.3L1316.5 1329.4L1316.9 1327.9L1317.4 1329.1L1317.8 1327.9L1318.3 1330.8L1318.7 1328.9L1319.2 1328.6L1319.6 1330.6L1320.1 1329.1L1320.5 1329.4L1321.0 1330.5L1321.4 1329.4L1321.9 1329.0L1322.3 1330.1L1322.8 1328.7L1323.2 1328.3L1323.7 1330.1L1324.1 1329.4L1324.6 1331.0L1325.0 1329.5L1325.5 1330.7L1325.9 1327.9L1326.4 1327.9L1326.8 1328.9L1327.3 1330.5L1327.7 1329.3L1328.2 1329.7L1328.6 1329.0L1329.1 1328.9L1329.5 1328.9L1330.0 1328.7L1330.4 1327.9L1330.9 1330.0L1331.3 1328.8L1331.8 1330.7L1332.2 1329.7L1332.7 1328.3L1333.1 1328.8L1333.6 1328.4L1334.0 1330.2L1334.5 1328.6L1334.9 1329.6L1335.4 1329.2L1335.8 1329.0L1336.3 1330.6L1336.7 1329.5L1337.2 1328.8L1337.6 1328.4L1338.1 1328.8L1338.5 1328.4L1339.0 1330.0L1339.4 1330.2L1339.9 1329.7L1340.3 1330.1L1340.8 1330.2L1341.2 1329.7L1341.7 1328.4L1342.1 1329.9L1342.6 1327.9L1343.0 1329.4L1343.5 1328.4L1343.9 1330.1L1344.4 1330.0L1344.8 1328.9L1345.3 1329.7L1345.7 1330.1L1346.2 1329.5L1346.6 1328.7L1347.1 1328.2L1347.5 1330.6L1348.0 1328.1L1348.4 1328.5L1348.9 1330.3L1349.3 1328.0L1349.8 1328.3L1350.2 1329.0L1350.7 1328.3L1351.1 1328.0L1351.6 1330.3L1352.0 1328.4L1352.5 1330.8L1352.9 1328.0L1353.4 1328.7L1353.8 1329.7L1354.3 1328.2L1354.7 1329.4L1355.2 1329.4L1355.6 1329.8L1356.1 1330.8L1356.5 1329.2L1357.0 1330.8L1357.4 1328.6L1357.9 1330.0L1358.3 1329.2L1358.8 1330.4L1359.2 1329.5L1359.7 1330.6L1360.1 1328.4L1360.6 1328.7L1361.0 1329.6L1361.5 1329.9L1361.9 1329.1L1362.4 1330.4L1362.8 1329.1L1363.3 1330.9L1363.7 1330.9L1364.2 1328.0L1364.6 1329.9L1365.1 1330.6L1365.5 1328.0L1366.0 1330.2L1366.4 1329.7L1366.9 1329.5L1367.3 1328.8L1367.8 1330.2L1368.2 1328.6L1368.7 1328.5L1369.1 1329.0L1369.6 1331.1L1370.0 1329.2L1370.5 1328.3L1370.9 1329.2L1371.4 1330.3L1371.8 1329.9L1372.3 1330.2L1372.7 1330.5L1373.2 1328.8L1373.6 1329.0L1374.1 1330.6L1374.5 1329.1L1375.0 1329.5L1375.4 1330.6L1375.9 1329.9L1376.3 1330.8L1376.8 1327.9L1377.2 1329.9L1377.7 1329.5L1378.1 1329.2L1378.6 1328.8L1379.0 1329.1L1379.5 1330.5L1379.9 1329.4L1380.4 1328.6L1380.8 1330.1L1381.3 1330.5L1381.7 1329.2L1382.2 1328.3L1382.6 1330.3L1383.1 1330.1L1383.5 1330.1L1384.0 1327.9L1384.4 1328.3L1384.9 1331.0L1385.3 1329.7L1385.8 1328.7L1386.2 1328.1L1386.7 1329.4L1387.1 1328.9L1387.6 1328.4L1388.0 1329.9L1388.5 1328.5L1388.9 1330.9L1389.4 1328.6L1389.8 1330.7L1390.3 1329.0L1390.7 1328.8L1391.2 1330.3L1391.6 1329.5L1392.1 1328.3L1392.5 1330.6L1393.0 1329.7L1393.4 1329.7L1393.9 1329.1L1394.3 1330.5L1394.8 1329.9L1395.2 1328.1L1395.7 1330.7L1396.1 1329.7L1396.6 1328.8L1397.0 1328.0L1397.5 1328.0L1397.9 1328.3L1398.4 1328.7L1398.8 1329.6L1399.3 1328.6L1399.7 1330.4L1400.2 1329.6L1400.6 1329.3L1401.1 1329.3L1401.5 1328.7L1402.0 1329.6L1402.4 1328.6L1402.9 1328.9L1403.3 1329.5L1403.8 1329.9L1404.2 1328.9L1404.7 1330.2L1405.1 1329.0L1405.6 1330.8L1406.0 1328.4L1406.5 1329.7L1406.9 1329.0L1407.4 1329.4L1407.8 1328.3L1408.3 1329.0L1408.7 1328.5L1409.2 1330.1L1409.6 1330.4L1410.1 1330.4L1410.5 1330.8L1411.0 1329.1L1411.4 1329.9L1411.9 1330.9L1412.3 1329.5L1412.8 1329.6L1413.2 1330.0L1413.7 1328.0L1414.1 1330.6L1414.6 1329.2L1415.0 1330.3L1415.5 1328.3L1415.9 1329.5L1416.4 1329.7L1416.8 1330.4L1417.3 1329.8L1417.7 1329.9L1418.2 1330.8L1418.6 1328.7L1419.1 1329.3L1419.5 1330.7L1420.0 1329.3L1420.4 1329.8L1420.9 1329.5L1421.3 1331.0L1421.8 1330.0L1422.2 1330.3L1422.7 1328.0L1423.1 1329.1L1423.6 1330.2L1424.0 1328.4L1424.5 1330.3L1424.9 1330.8L1425.4 1330.3L1425.8 1330.2L1426.3 1328.7L1426.7 1328.2L1427.2 1330.8L1427.6 1329.2L1428.1 1330.7L1428.5 1330.0L1429.0 1330.8L1429.4 1327.9L1429.9 1330.4L1430.3 1330.2L1430.8 1329.6L1431.2 1328.3L1431.7 1328.5L1432.1 1330.8L1432.6 1329.1L1433.0 1330.2L1433.5 1330.9L1433.9 1328.5L1434.4 1328.0L1434.8 1327.9L1435.3 1329.2L1435.7 1330.4L1436.2 1330.4L1436.6 1329.7L1437.1 1327.8L1437.5 1328.6L1438.0 1328.3L1438.4 1328.3L1438.9 1328.2L1439.3 1327.9L1439.8 1329.4L1440.2 1328.9L1440.7 1328.9L1441.1 1328.6L1441.6 1330.3L1442.0 1328.7L1442.5 1328.3L1442.9 1328.7L1443.4 1328.5L1443.8 1328.9L1444.3 1329.0L1444.7 1328.5L1445.2 1329.7L1445.6 1328.2L1446.1 1330.6L1446.5 1330.5L1447.0 1329.3L1447.4 1330.1L1447.9 1328.4L1448.3 1328.6L1448.8 1330.6L1449.2 1329.2L1449.7 1330.1L1450.1 1330.3L1450.6 1329.9L1451.0 1329.1L1451.5 1328.9L1451.9 1327.9L1452.4 1330.4L1452.8 1329.9L1453.3 1327.9L1453.7 1330.3L1454.2 1328.6L1454.6 1330.4L1455.1 1328.1L1455.5 1327.7L1456.0 1330.4L1456.4 1330.5L1456.9 1329.2L1457.3 1330.5L1457.8 1327.9L1458.2 1328.1L1458.7 1330.7L1459.1 1330.6L1459.6 1329.8L1460.0 1328.7L1460.5 1329.9L1460.9 1327.6L1461.4 1328.7L1461.8 1330.3L1462.3 1328.3L1462.7 1328.0L1463.2 1329.1L1463.6 1329.7L1464.1 1328.5L1464.5 1330.1L1465.0 1330.4L1465.4 1328.2L1465.9 1328.7L1466.3 1330.1L1466.8 1329.0L1467.2 1329.8L1467.7 1328.4L1468.1 1330.0L1468.6 1330.0L1469.0 1329.8L1469.5 1330.1L1469.9 1328.5L1470.4 1328.9L1470.8 1329.8L1471.3 1329.5L1471.7 1328.8L1472.2 1327.2L1472.6 1327.7L1473.1 1328.5L1473.5 1329.4L1474.0 1329.8L1474.4 1330.1L1474.9 1328.1L1475.3 1329.9L1475.8 1328.0L1476.2 1327.4L1476.7 1329.7L1477.1 1327.0L1477.6 1328.2L1478.0 1329.1L1478.5 1328.6L1478.9 1329.3L1479.4 1328.2L1479.8 1327.9L1480.3 1327.5L1480.7 1328.4L1481.2 1328.1L1481.6 1327.9L1482.1 1328.4L1482.5 1327.8L1483.0 1328.4L1483.4 1327.7L1483.9 1328.6L1484.3 1326.7L1484.8 1327.1L1485.2 1326.9L1485.7 1328.7L1486.1 1327.7L1486.6 1328.8L1487.0 1327.5L1487.5 1328.7L1487.9 1328.0L1488.4 1328.5L1488.8 1326.5L1489.3 1328.7L1489.7 1326.4L1490.2 1327.8L1490.6 1327.4L1491.1 1326.5L1491.5 1325.6L1492.0 1325.4L1492.4 1325.2L1492.9 1326.9L1493.3 1326.9L1493.8 1325.4L1494.2 1325.1L1494.7 1325.0L1495.1 1326.8L1495.6 1327.3L1496.0 1327.7L1496.5 1326.3L1496.9 1327.1L1497.4 1325.4L1497.8 1324.8L1498.3 1326.4L1498.7 1325.6L1499.2 1325.7L1499.6 1324.8L1500.1 1326.6L1500.5 1327.1L1501.0 1326.6L1501.4 1324.6L1501.9 1325.0L1502.3 1324.7L1502.8 1327.2L1503.2 1325.2L1503.7 1324.4L1504.1 1326.4L1504.6 1324.4L1505.0 1323.9L1505.5 1324.8L1505.9 1323.7L1506.4 1324.9L1506.8 1324.8L1507.3 1324.3L1507.7 1325.0L1508.2 1325.7L1508.6 1324.2L1509.1 1323.9L1509.5 1325.0L1510.0 1324.2L1510.4 1323.6L1510.9 1325.7L1511.3 1323.2L1511.8 1323.7L1512.2 1323.3L1512.7 1324.9L1513.1 1324.3L1513.6 1325.0L1514.0 1322.8L1514.5 1324.5L1514.9 1323.9L1515.4 1322.0L1515.8 1322.3L1516.3 1324.0L1516.7 1322.5L1517.2 1321.5L1517.6 1321.2L1518.1 1321.5L1518.5 1322.4L1519.0 1320.6L1519.4 1320.4L1519.9 1322.4L1520.3 1320.2L1520.8 1321.3L1521.2 1321.5L1521.7 1321.0L1522.1 1320.3L1522.6 1319.4L1523.0 1319.9L1523.5 1318.6L1523.9 1319.5L1524.4 1319.0L1524.8 1316.8L1525.3 1316.1L1525.7 1317.9L1526.2 1317.0L1526.6 1317.1L1527.1 1316.9L1527.5 1316.0L1528.0 1314.5L1528.4 1315.6L1528.9 1314.3L1529.3 1314.5L1529.8 1312.6L1530.2 1315.2L1530.7 1312.3L1531.1 1314.4L1531.6 1313.3L1532.0 1311.6L1532.5 1311.7L1532.9 1310.1L1533.4 1308.9L1533.8 1310.0L1534.3 1308.1L1534.7 1307.9L1535.2 1307.0L1535.6 1308.1L1536.1 1307.9L1536.5 1308.3L1537.0 1305.4L1537.4 1306.7L1537.9 1305.3L1538.3 1302.9L1538.8 1303.4L1539.2 1304.8L1539.7 1303.3L1540.1 1302.5L1540.6 1301.9L1541.0 1302.1L1541.5 1300.0L1541.9 1298.0L1542.4 1297.0L1542.8 1297.8L1543.3 1295.8L1543.7 1297.4L1544.2 1296.7L1544.6 1294.5L1545.1 1293.8L1545.5 1291.4L1546.0 1292.7L1546.4 1290.5L1546.9 1290.6L1547.3 1288.6L1547.8 1288.8L1548.2 1285.6L1548.7 1287.3L1549.1 1285.2L1549.6 1282.9L1550.0 1281.9L1550.5 1280.0L1550.9 1279.6L1551.4 1279.5L1551.8 1276.8L1552.3 1275.0L1552.7 1274.1L1553.2 1272.6L1553.6 1271.3L1554.1 1270.3L1554.5 1269.6L1555.0 1268.3L1555.4 1264.8L1555.9 1266.4L1556.3 1263.3L1556.8 1262.4L1557.2 1261.2L1557.7 1261.1L1558.1 1257.5L1558.6 1260.1L1559.0 1260.2L1559.5 1260.6L1559.9 1261.0L1560.4 1262.1L1560.8 1263.3L1561.3 1263.2L1561.7 1265.5L1562.2 1265.1L1562.6 1265.5L1563.1 1267.7L1563.5 1265.6L1564.0 1269.1L1564.4 1268.6L1564.9 1268.2L1565.3 1270.7L1565.8 1270.1L1566.2 1271.5L1566.7 1272.4L1567.1 1274.5L1567.6 1274.3L1568.0 1274.3L1568.5 1275.6L1568.9 1276.3L1569.4 1275.4L1569.8 1276.8L1570.3 1276.8L1570.7 1277.3L1571.2 1278.7L1571.6 1278.5L1572.1 1279.6L1572.5 1280.3L1573.0 1282.2L1573.4 1282.5L1573.9 1282.2L1574.3 1285.8L1574.8 1285.8L1575.2 1286.3L1575.7 1287.0L1576.1 1288.1L1576.6 1287.2L1577.0 1289.7L1577.5 1289.4L1577.9 1289.8L1578.4 1291.0L1578.8 1293.6L1579.3 1293.2L1579.7 1295.6L1580.2 1296.9L1580.6 1297.6L1581.1 1297.1L1581.5 1298.3L1582.0 1299.3L1582.4 1298.6L1582.9 1301.6L1583.3 1302.6L1583.8 1301.6L1584.2 1302.9L1584.7 1304.7L1585.1 1306.6L1585.6 1305.7L1586.0 1308.3L1586.5 1306.6L1586.9 1309.1L1587.4 1309.3L1587.8 1312.0L1588.3 1310.8L1588.7 1311.3L1589.2 1313.1L1589.6 1315.0L1590.1 1315.7L1590.5 1315.0L1591.0 1316.8L1591.4 1315.4L1591.9 1316.7L1592.3 1318.4L1592.8 1316.4L1593.2 1316.9L1593.7 1317.6L1594.1 1317.4L1594.6 1318.7L1595.0 1318.6L1595.5 1319.4L1595.9 1317.8L1596.4 1320.6L1596.8 1319.5L1597.3 1318.7L1597.7 1320.6L1598.2 1319.4L1598.6 1319.7L1599.1 1321.7L1599.5 1319.6L1600.0 1322.6L1600.4 1320.6L1600.9 1321.9L1601.3 1320.5L1601.8 1323.5L1602.2 1323.5L1602.7 1322.7L1603.1 1321.6L1603.6 1322.0L1604.0 1322.8L1604.5 1322.0L1604.9 1323.1L1605.4 1324.3L1605.8 1322.0L1606.3 1322.5L1606.7 1324.8L1607.2 1324.6L1607.6 1322.1L1608.1 1322.4L1608.5 1324.3L1609.0 1325.0L1609.4 1325.6L1609.9 1323.0L1610.3 1324.2L1610.8 1324.5L1611.2 1325.7L1611.7 1324.6L1612.1 1323.3L1612.6 1323.5L1613.0 1325.0L1613.5 1324.0L1613.9 1325.3L1614.4 1325.7L1614.8 1325.5L1615.3 1325.9L1615.7 1324.2L1616.2 1326.5L1616.6 1324.5L1617.1 1326.1L1617.5 1325.1L1618.0 1326.0L1618.4 1327.4L1618.9 1327.6L1619.3 1327.9L1619.8 1327.3L1620.2 1326.9L1620.7 1327.9L1621.1 1325.6L1621.6 1325.6L1622.0 1328.3L1622.5 1327.9L1622.9 1327.0L1623.4 1326.5L1623.8 1328.9L1624.3 1326.5L1624.7 1326.6L1625.2 1328.9L1625.6 1328.3L1626.1 1328.6L1626.5 1328.9L1627.0 1329.0L1627.4 1327.2L1627.9 1326.7L1628.3 1327.7L1628.8 1327.1L1629.2 1327.0L1629.7 1327.8L1630.1 1328.8L1630.6 1327.7L1631.0 1327.0L1631.5 1326.5L1631.9 1328.6L1632.4 1327.9L1632.8 1326.6L1633.3 1328.5L1633.7 1326.2L1634.2 1326.2L1634.6 1326.8L1635.1 1328.4L1635.5 1327.6L1636.0 1328.1L1636.4 1328.8L1636.9 1329.1L1637.3 1328.6L1637.8 1327.3L1638.2 1327.6L1638.7 1325.9L1639.1 1326.2L1639.6 1327.3L1640.0 1326.9L1640.5 1327.6L1640.9 1325.9L1641.4 1328.9L1641.8 1327.4L1642.3 1326.4L1642.7 1327.9L1643.2 1327.7L1643.6 1328.2L1644.1 1329.1L1644.5 1327.3L1645.0 1325.9L1645.4 1326.5L1645.9 1327.2L1646.3 1326.7L1646.8 1327.5L1647.2 1327.9L1647.7 1327.6L1648.1 1326.1L1648.6 1326.0L1649.0 1326.0L1649.5 1328.1L1649.9 1327.2L1650.4 1327.7L1650.8 1327.2L1651.3 1328.1L1651.7 1329.1L1652.2 1327.9L1652.6 1326.6L1653.1 1328.2L1653.5 1326.6L1654.0 1328.1L1654.4 1327.7L1654.9 1325.9L1655.3 1326.5L1655.8 1326.6L1656.2 1327.1L1656.7 1328.7L1657.1 1328.2L1657.6 1327.4L1658.0 1327.2L1658.5 1326.0L1658.9 1326.6L1659.4 1328.7L1659.8 1327.1L1660.3 1326.8L1660.7 1328.9L1661.2 1326.6L1661.6 1328.5L1662.1 1327.1L1662.5 1327.1L1663.0 1327.0L1663.4 1326.8L1663.9 1326.7L1664.3 1326.8L1664.8 1327.4L1665.2 1327.3L1665.7 1326.0L1666.1 1327.2L1666.6 1328.5L1667.0 1328.3L1667.5 1326.3L1667.9 1326.6L1668.4 1327.9L1668.8 1327.9L1669.3 1326.0L1669.7 1326.8L1670.2 1327.4L1670.6 1327.9L1671.1 1327.5L1671.5 1327.7L1672.0 1328.4L1672.4 1328.3L1672.9 1326.0L1673.3 1328.1L1673.8 1325.8L1674.2 1325.1L1674.7 1327.4L1675.1 1327.7L1675.6 1325.0L1676.0 1326.9L1676.5 1324.6L1676.9 1327.2L1677.4 1325.6L1677.8 1325.5L1678.3 1326.7L1678.7 1324.6L1679.2 1325.1L1679.6 1323.6L1680.1 1323.6L1680.5 1324.6L1681.0 1325.5L1681.4 1323.7L1681.9 1322.3L1682.3 1322.9L1682.8 1323.5L1683.2 1321.9L1683.7 1322.0L1684.1 1322.0L1684.6 1323.7L1685.0 1322.1L1685.5 1320.9L1685.9 1321.8L1686.4 1321.6L1686.8 1321.4L1687.3 1321.4L1687.7 1320.5L1688.2 1318.4L1688.6 1319.7L1689.1 1319.3L1689.5 1318.6L1690.0 1317.0L1690.4 1316.8L1690.9 1317.7L1691.3 1317.7L1691.8 1315.0L1692.2 1316.8L1692.7 1315.4L1693.1 1315.5L1693.6 1315.6L1694.0 1313.0L1694.5 1314.6L1694.9 1314.2L1695.4 1312.9L1695.8 1311.8L1696.3 1312.3L1696.7 1311.9L1697.2 1310.8L1697.6 1310.8L1698.1 1311.0L1698.5 1310.7L1699.0 1310.7L1699.4 1310.3L1699.9 1306.8L1700.3 1309.1L1700.8 1308.6L1701.2 1308.5L1701.7 1307.3L1702.1 1307.4L1702.6 1307.0L1703.0 1303.9L1703.5 1303.4L1703.9 1304.4L1704.4 1305.1L1704.8 1303.3L1705.3 1302.8L1705.7 1303.6L1706.2 1302.9L1706.6 1304.1L1707.1 1304.0L1707.5 1304.1L1708.0 1304.5L1708.4 1305.9L1708.9 1304.2L1709.3 1305.4L1709.8 1305.1L1710.2 1307.3L1710.7 1307.0L1711.1 1309.0L1711.6 1307.8L1712.0 1310.1L1712.5 1308.6L1712.9 1311.1L1713.4 1311.5L1713.8 1310.0L1714.3 1311.3L1714.7 1310.3L1715.2 1312.5L1715.6 1313.1L1716.1 1312.9L1716.5 1313.2L1717.0 1313.8L1717.4 1315.2L1717.9 1313.7L1718.3 1316.1L1718.8 1316.1L1719.2 1315.5L1719.7 1317.7L1720.1 1316.8L1720.6 1317.0L1721.0 1317.4L1721.5 1317.2L1721.9 1318.1L1722.4 1317.1L1722.8 1319.1L1723.3 1318.6L1723.7 1319.9L1724.2 1320.1L1724.6 1321.7L1725.1 1321.2L1725.5 1319.2L1726.0 1319.8L1726.4 1321.3L1726.9 1321.8L1727.3 1321.8L1727.8 1322.9L1728.2 1323.8L1728.7 1321.3L1729.1 1323.3L1729.6 1322.4L1730.0 1323.0L1730.5 1325.0L1730.9 1322.3L1731.4 1323.0L1731.8 1324.1L1732.3 1325.1L1732.7 1325.9L1733.2 1326.2L1733.6 1326.3L1734.1 1326.0L1734.5 1325.1L1735.0 1324.7L1735.4 1326.8L1735.9 1326.6L1736.3 1326.6L1736.8 1327.0L1737.2 1327.6L1737.7 1326.5L1738.1 1325.8L1738.6 1325.1L1739.0 1326.0L1739.5 1327.4L1739.9 1326.6L1740.4 1326.1L1740.8 1326.0L1741.3 1325.8L1741.7 1327.6L1742.2 1327.9L1742.6 1328.9L1743.1 1328.4L1743.5 1326.4L1744.0 1326.6L1744.4 1329.1L1744.9 1326.9L1745.3 1327.7L1745.8 1328.6L1746.2 1328.1L1746.7 1326.2L1747.1 1327.6L1747.6 1327.8L1748.0 1327.8L1748.5 1326.5L1748.9 1329.2L1749.4 1327.8L1749.8 1328.4L1750.3 1328.7L1750.7 1327.0L1751.2 1326.3L1751.6 1328.2L1752.1 1329.2L1752.5 1329.1L1753.0 1329.1L1753.4 1327.0L1753.9 1329.2L1754.3 1326.6L1754.8 1327.3L1755.2 1329.0L1755.7 1326.7L1756.1 1328.9L1756.6 1329.0L1757.0 1329.3L1757.5 1329.2L1757.9 1328.8L1758.4 1327.0L1758.8 1326.9L1759.3 1326.8L1759.7 1327.5L1760.2 1327.5L1760.6 1329.7L1761.1 1329.3L1761.5 1326.9L1762.0 1328.1L1762.4 1329.1L1762.9 1327.8L1763.3 1328.3L1763.8 1329.4L1764.2 1329.5L1764.7 1327.2L1765.1 1329.2L1765.6 1328.1L1766.0 1326.7L1766.5 1327.6L1766.9 1329.5L1767.4 1327.2L1767.8 1327.2L1768.3 1329.7L1768.7 1328.0L1769.2 1329.6L1769.6 1327.6L1770.1 1326.9L1770.5 1329.6L1771.0 1327.7L1771.4 1329.7L1771.9 1328.8L1772.3 1329.4L1772.8 1327.7L1773.2 1329.0L1773.7 1329.3L1774.1 1328.9L1774.6 1329.7L1775.0 1329.6L1775.5 1328.5L1775.9 1329.7L1776.4 1329.0L1776.8 1329.6L1777.3 1327.2L1777.7 1327.7L1778.2 1327.2L1778.6 1326.8L1779.1 1328.8L1779.5 1329.8L1780.0 1328.7L1780.4 1329.8L1780.9 1329.3L1781.3 1328.7L1781.8 1328.0L1782.2 1327.3L1782.7 1329.8L1783.1 1329.7L1783.6 1329.6L1784.0 1327.8L1784.5 1329.1L1784.9 1328.4L1785.4 1329.3L1785.8 1328.5L1786.3 1326.7L1786.7 1327.6L1787.2 1327.6L1787.6 1327.8L1788.1 1327.8L1788.5 1326.8L1789.0 1328.3L1789.4 1329.7L1789.9 1328.7L1790.3 1327.4L1790.8 1329.8L1791.2 1329.5L1791.7 1329.5L1792.1 1327.1L1792.6 1329.0L1793.0 1327.8L1793.5 1329.3L1793.9 1327.9L1794.4 1327.5L1794.8 1329.8L1795.3 1329.4L1795.7 1328.8L1796.2 1328.2L1796.6 1328.5L1797.1 1328.8L1797.5 1328.1L1798.0 1328.0L1798.4 1327.5L1798.9 1328.7L1799.3 1327.6L1799.8 1328.0L1800.2 1327.6L1800.7 1329.6L1801.1 1328.4L1801.6 1327.2L1802.0 1327.1L1802.5 1329.2L1802.9 1329.7L1803.4 1327.4L1803.8 1328.5L1804.3 1328.3L1804.7 1328.1L1805.2 1328.9L1805.6 1329.3L1806.1 1329.3L1806.5 1327.4L1807.0 1328.6L1807.4 1327.2L1807.9 1327.3L1808.3 1327.8L1808.8 1328.5L1809.2 1328.3L1809.7 1326.9L1810.1 1328.3L1810.6 1327.2L1811.0 1327.2L1811.5 1329.5L1811.9 1328.8L1812.4 1327.5L1812.8 1329.2L1813.3 1329.8L1813.7 1329.4L1814.2 1327.2L1814.6 1328.8L1815.1 1328.0L1815.5 1328.1L1816.0 1327.3L1816.4 1327.1L1816.9 1329.8L1817.3 1328.2L1817.8 1327.2L1818.2 1328.2L1818.7 1328.2"/>
</g>
</svg>
<g fill="#000">
<polygon points="303.6,310.0 285.7,347.7 321.6,347.7"/>
<polygon points="494.7,419.0 476.8,455.2 512.9,455.2"/>
<polygon points="1134.3,498.8 1116.8,534.4 1151.8,534.4"/>
<polygon points="1553.1,495.8 1535.2,531.5 1571.0,531.5"/>
<polygon points="1698.3,517.0 1680.0,553.0 1716.6,553.0"/>
<polygon points="1302.8,173.9 1286.7,205.0 1319.0,205.0"/>
<circle cx="333.7" cy="124.0" r="10.6"/>
<circle cx="871.0" cy="526.0" r="12.8"/>
<circle cx="1340.0" cy="516.3" r="12.7"/>
<circle cx="1779.2" cy="522.0" r="12.7"/>
<circle cx="1297.5" cy="280.0" r="13.9"/>
</g>
<g font-family="'Liberation Serif', 'Times New Roman', serif" fill="#000">
<g font-size="92.5" text-anchor="middle">
<text x="213.7" y="1542.2">40</text>
<text x="480.5" y="1542.2">50</text>
<text x="748.1" y="1542.2">60</text>
<text x="1014.1" y="1542.2">70</text>
<text x="1283.7" y="1542.2">80</text>
<text x="1550.1" y="1542.2">90</text>
<text x="1818.9" y="1542.2">100</text>
</g>
<text x="1338.5" y="205" font-size="79">Austenite</text>
<text x="1337" y="298.5" font-size="79">Ferrite</text>
<text x="565.9" y="476.7" font-size="79" fill="#E6AA28">ZG40Cr20Ni20Al5.34</text>
<text x="562.4" y="780" font-size="79" fill="#00A5FF">ZG40Cr20Ni20Al3.45</text>
<text x="568.7" y="1030" font-size="79" fill="#FF6991">ZG40Cr20Ni20Al1.76</text>
<text x="566.4" y="1264.2" font-size="79" fill="#CC78FF">ZG40Cr20Ni20</text>
<text transform="translate(115.5,1063.7) rotate(-90)" font-size="116.5" letter-spacing="0.57">Intensity /a.u.</text>
<g font-size="118">
<text x="876" y="1668.6">2</text>
<text transform="translate(937.5,1668.6) skewX(-15) scale(1.13,1)">θ</text>
<text x="1029" y="1668.6">/</text>
<text x="1061" y="1668.6">°</text>
</g>
</g>
</svg>
</body></html>
